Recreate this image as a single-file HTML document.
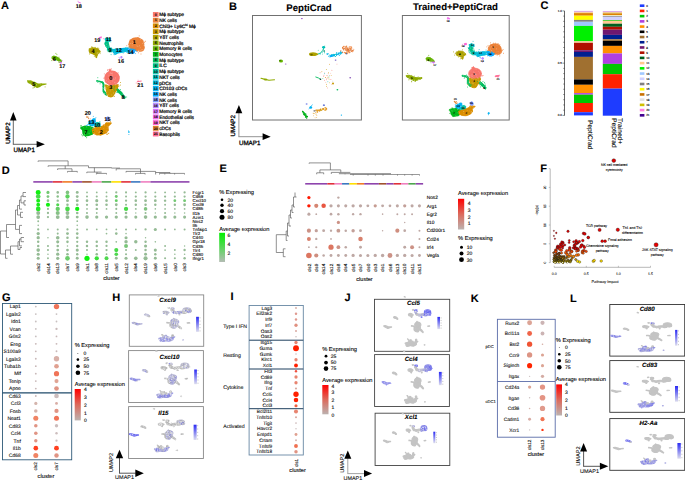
<!DOCTYPE html><html><head><meta charset="utf-8"><style>html,body{margin:0;padding:0;background:#fff;}svg{display:block;}text{font-family:"Liberation Sans", sans-serif;stroke:currentColor;stroke-width:0.1px;text-rendering:geometricPrecision;}</style></head><body>
<svg width="685" height="481" viewBox="0 0 685 481">
<rect width="685" height="481" fill="#fff"/>
<text x="1" y="8.96" font-size="11" font-weight="bold" >A</text>
<text x="229" y="9.76" font-size="11" font-weight="bold" >B</text>
<text x="540.5" y="9.16" font-size="11" font-weight="bold" >C</text>
<text x="1.7" y="174.16" font-size="11" font-weight="bold" >D</text>
<text x="219.4" y="172.46" font-size="11" font-weight="bold" >E</text>
<text x="540.2" y="172.16" font-size="11" font-weight="bold" >F</text>
<text x="2" y="300.56" font-size="11" font-weight="bold" >G</text>
<text x="112.3" y="300.66" font-size="11" font-weight="bold" >H</text>
<text x="230.6" y="300.46" font-size="11" font-weight="bold" >I</text>
<text x="344.4" y="301.26" font-size="11" font-weight="bold" >J</text>
<text x="470.8" y="302.46" font-size="11" font-weight="bold" >K</text>
<text x="570" y="302.46" font-size="11" font-weight="bold" >L</text>
<g>
<path d="M96 80.2L99 80.6L103 81.5L104.5 84L104 90L106.5 93L107 96L105 95L102.5 91.5L102.6 83.5L99 82L96 81.6Z" fill="#00BD5C"/>
<path d="M115.5 87L118 88.5L122 92L125.8 97.5L124.8 99.3L121.5 96L117.5 92L115 90Z" fill="#00BD5C"/>
<path d="M104.2 78a7.8 7.4 0 1 0 15.6 0a7.8 7.4 0 1 0 -15.6 0z" fill="#F8766D"/>
<path d="M108.5 71L110 68.3L111.5 71Z" fill="#F8766D"/>
<path d="M104.8 84.2L110 85.8L118.6 84L117.8 89L115.5 92.5L113.5 96.5L111 97.4L108 96.8L106.3 92.5L105.5 88Z" fill="#C79800"/>
<path d="M128.3 44.2a8 6.9 0 1 0 16 0a8 6.9 0 1 0 -16 0z" fill="#EC8239"/>
<path d="M136.2 47.5a4.3 4.2 0 1 0 8.6 0a4.3 4.2 0 1 0 -8.6 0z" fill="#EC8239"/>
<path d="M88.8 48.5L92 47.2L95.5 47.4L98 48.6L100.8 51.2L99 53.5L97.6 55L97 58.3L95.6 57.8L95 55.5L92.5 54.2L89.5 53.2L88.6 51Z" fill="#AEA200"/>
<path d="M104.5 38.5L107 37.6L110.5 38L111 41L108.5 42.5L106 42Z" fill="#00BFC4"/>
<path d="M105 41.5L108.5 41.8L109.5 46L110.5 49L107.5 49.5L106 46.5L104.2 44Z" fill="#00C085"/>
<path d="M107.2 47.8L111.5 47.6L113.2 49.8L112.5 52.2L108.8 52.3L107 50Z" fill="#00C1A7"/>
<path d="M112.5 49L118 48.6L124 47.8L128.5 47.5L128.8 51.2L124 52.5L118 53.5L115.5 55L113 53Z" fill="#00BADE"/>
<path d="M127.5 48.2L133 48.5L135.8 50.3L134.5 53.3L130 54L127.3 52.5Z" fill="#00A6FF"/>
<path d="M120.3 57.2a1.1 1.2 0 1 0 2.2 0a1.1 1.2 0 1 0 -2.2 0z" fill="#B385FF"/>
<path d="M98.6 37.2L101.2 36.4L101.6 38.3L99.2 38.6Z" fill="#FD61D3"/>
<path d="M78.2 1.4L80.8 2.6L80.6 3.4L78 2.3Z" fill="#EF67EB"/>
<path d="M51.6 56.8L53.6 55.6L56.5 56.2L59 57.8L61.5 60.2L61.8 62L59.8 61.8L56.5 60.5L53 59.8L51.5 58.5Z" fill="#64B200"/>
<path d="M59.6 62.5a1.2 1 0 1 0 2.4 0a1.2 1 0 1 0 -2.4 0z" fill="#D874FD"/>
<path d="M27 80.6L30.5 80.2L34 81.4L38 83.4L42 83.6L46.5 83.4L46.5 84.6L42 85.6L39.5 87.2L37 88L34.5 86.5L31 84.5L27.5 82.5Z" fill="#8FAA00"/>
<path d="M80.4 127L85 125.6L90 126.2L93.8 127.6L93.5 131.5L93 134.5L89 136L85 136.6L82.5 134L82 130L80.3 128.8Z" fill="#00B81B"/>
<path d="M91.6 129L96 126.8L101 126.2L104.5 124.5L105.5 122.8L108.5 122.3L112.2 122.8L110.5 124.8L108.5 126.5L108.8 130.5L106 133.5L101 135.6L96.5 135.3L92.5 133.5Z" fill="#DB8E00"/>
<path d="M93.8 123.5L97 122L100.5 122.6L100.3 126.2L96.5 127L93.9 126.2Z" fill="#00C1A7"/>
<path d="M88.2 121.5L91.5 120L93 118.2L95.6 118.3L95.8 121.5L95 125.5L91.5 126.2L88.5 125Z" fill="#00B2F3"/>
<path d="M106 119a1.8 2.4 0 1 0 3.6 0a1.8 2.4 0 1 0 -3.6 0z" fill="#7C96FF"/>
<path d="M86.2 116L86.9 115.8L89.3 118.8L88.7 119.3Z" fill="#E0802A"/>
<path d="M136.8 81.2L141.5 80.4L141.7 81.6L137 82.2Z" fill="#FF6B94"/>
<path d="M128 132.1a0.9 0.8 0 1 0 1.8 0a0.9 0.8 0 1 0 -1.8 0z" fill="#00B2F3"/>
<path d="M103.5 82.6h0M97.8 77.7h0M102.9 86.4h0M102.4 82.1h0M103.1 84.4h0M97.9 82.5h0M100.1 83.8h0M103.9 85.1h0M97.5 80.5h0M102.4 83.5h0M103.4 88.7h0M103.4 88.9h0M103.3 85.2h0M103.3 92.9h0M116.9 92.5h0M125.2 96.8h0M117.4 89h0M121 94h0M116.8 89.5h0M123.2 97.9h0M114.6 90.6h0M117.6 92.4h0M116.8 89.2h0M114 89h0M126.7 97h0M120.3 89.5h0M121.2 92.9h0M118.8 92.7h0M114.4 86.9h0" stroke="#00BD5C" stroke-width="0.84" stroke-linecap="round"/>
<path d="M104.9 93.4h0M104.2 93.4h0M103.3 88.4h0M123.6 95.2h0M122.9 93.9h0M116 88.2h0M112.2 72.9h0M113.2 79h0M115.1 79.6h0M114.9 82.4h0M110.2 72.8h0M106.5 80.8h0M110.2 82.7h0M112.2 73.3h0M115.1 84.4h0M111.1 73.6h0M108.1 81.9h0M109 76h0M115.6 78.1h0M112.6 75.3h0M108.7 78.8h0M112.8 81h0M106.1 88.2h0M108.2 94.7h0M110.6 87.5h0M113.5 93h0M108.2 85.8h0M111.8 95.1h0M112.4 87.7h0M113.7 96h0M110.5 90.9h0M107.2 86.5h0M112.3 89.5h0M143.9 45.3h0M130.3 43.4h0M139.6 45.9h0M129 45.4h0M132.2 43.3h0M142.8 43.6h0M132.8 43.6h0M134 50.4h0M140.2 47.9h0M132.8 41.4h0M137.2 37.7h0M140.6 39.6h0M136.9 45.8h0M132.2 45.8h0M138.9 50.2h0M140.5 51h0M138 46.5h0M143 49.5h0M138.9 50.7h0M141.8 49.8h0M92.3 52.4h0M92.3 50.6h0M90.9 48.1h0M97.7 53.1h0M98 52.8h0M96.3 48.1h0M96.8 52.9h0M105.8 40.6h0M108.7 41.2h0M106.2 46.8h0M106.7 44.3h0M108.3 46.2h0M108.1 51.3h0M108.6 48h0M119.5 52.8h0M123.9 52.1h0M128.4 49.5h0M115.4 53.5h0M114.1 53.1h0M126.3 47.8h0M116.8 50.3h0M132.9 51.6h0M134 51.8h0M132.3 50h0M59.9 61.7h0M56.3 60.1h0M52.2 57.3h0M40.4 84.7h0M36.4 84.6h0M33 81.7h0M37 85.5h0M33.6 81.4h0M30.5 83.7h0M84.4 133.8h0M85.4 132.2h0M84.6 134.8h0M90.8 127.8h0M83.5 127.7h0M92.9 128.5h0M90.8 128.9h0M90.9 131.2h0M86.7 127h0M89.1 133.3h0M94.7 133.6h0M100.6 127.3h0M97 131.3h0M104.7 125.7h0M95.2 128.9h0M106.2 131.2h0M107.2 128.2h0M107 131.1h0M99.4 131.8h0M107.1 126.3h0M103.9 128.3h0M99 132.6h0M98.9 126.7h0M98.7 123.3h0M95.7 125.3h0M94.7 123.1h0M91.8 123.9h0M92.1 122.2h0M91 123.9h0M109.2 119.1h0" stroke="#FFFFFF" stroke-width="0.76" stroke-linecap="round" stroke-opacity="0.5"/>
<path d="M115.6 75.4h0M119.4 76.8h0M116.6 84.6h0M107.4 70.1h0M117.5 78.5h0M114.3 76.2h0M112 72.6h0M110.2 75.7h0M111.6 68.9h0M115.4 79.2h0M104.3 73.9h0M113.3 83.6h0M111.6 83.3h0M112.8 73.1h0M107.7 83.3h0M107.7 80.9h0M115.9 79.5h0M116.6 77.9h0M113.8 75.9h0M109.6 70.4h0M109.3 72.1h0M105.7 79.9h0M114.7 76h0M116.6 81.6h0M117 74.1h0M105.1 81.3h0M111.4 80.9h0M112.4 85.4h0M111.3 81.9h0M109.8 71.6h0M110.5 81.9h0M106.2 82.3h0M106.7 77.1h0M113.1 77.1h0M106.6 78.2h0M113.5 82.4h0M107.3 83.6h0M117.1 84.7h0M106.1 78.4h0M105.9 76.8h0M115.7 72.6h0M103.8 78.2h0M112.7 71.7h0M110.8 69.8h0M109.3 77.6h0M110.9 83h0M110.8 71.6h0M113.5 73.8h0M112 81.3h0M115.1 85.2h0M118.2 72.9h0M110.9 83.8h0M107 81.1h0M112.2 75.4h0M118.4 80h0M112 82.7h0M106.4 75.6h0M113.6 77.5h0M105.8 82.4h0M113.2 82.8h0M117.8 75.3h0M111.3 76.4h0M110.9 82.8h0M118.6 79.7h0M114.9 75.7h0M110 70h0M108.9 69.5h0M107.7 70.1h0" stroke="#F8766D" stroke-width="0.84" stroke-linecap="round"/>
<path d="M116.3 88.4h0M115.5 88.9h0M116.6 86.6h0M108.5 88.7h0M106.4 85.2h0M116.7 86.9h0M117.9 85.2h0M110.9 91.3h0M120.6 82.5h0M106.6 93.4h0M105.1 88.9h0M112.1 92.2h0M119 85.9h0M117.7 87.5h0M113.4 87h0M114.8 93.4h0M108.8 86.8h0M114.6 91h0M112.8 89h0M113.6 86.6h0M111 95.5h0M112.9 87.1h0M108.1 94.2h0M114.5 96.4h0M116.4 90.3h0M110.7 90.8h0M104.7 86h0M120.6 85.1h0M112.1 86h0M106.4 94h0M106.2 91.3h0M109 96.4h0M112.8 96h0M114 85h0M107 86h0M116.3 85.3h0M107.1 91.4h0M107.1 94.9h0M114.1 92.9h0M109.8 90.6h0M118.3 86.5h0M112.6 90.2h0M114.9 85.2h0M108.5 91h0" stroke="#C79800" stroke-width="0.84" stroke-linecap="round"/>
<path d="M135.7 48.2h0M139.2 35.9h0M138.7 42.1h0M134.1 48.2h0M128.7 47.2h0M141 39.7h0M134.6 44.8h0M130.2 42.7h0M131 45.9h0M137.4 37.5h0M143.1 45.7h0M131.5 51.3h0M142.4 40.7h0M132 41.8h0M138.3 44.4h0M130.2 51.7h0M133.2 47.9h0M141.1 41.6h0M135.8 48h0M134 47.3h0M137.5 51.6h0M141 43.9h0M139.4 47h0M126.8 45.7h0M139 40.2h0M134 42.9h0M132.4 51.9h0M139.8 44.5h0M131.7 46h0M133.6 44.5h0M135.5 48.8h0M140.4 49h0M140 51.6h0M132.8 38.8h0M138.5 46h0M136.4 41.6h0M136.1 49.3h0M135.5 42.7h0M143.1 40.8h0M135.6 45h0M129.9 48h0M136.7 45.8h0M135.3 46.6h0M131.5 50.3h0M140.2 44h0M144 41.8h0M140.1 43.9h0M132 48.8h0M129.4 46h0M134.5 45h0M131.1 47.7h0M137 39.3h0M132.6 45.1h0M132 46.7h0M138.2 37.5h0M130.1 40.6h0M136.9 42h0M145.4 41.3h0M137.7 48.5h0M134.5 44.4h0M141.8 44.8h0M139.8 43.5h0M141 54h0M141.5 46.1h0M144.4 42.7h0M138.5 52.8h0M142.6 48.3h0M137.3 48.9h0M140.8 44.9h0M139.6 50h0M142.3 48.2h0M137.7 50.4h0M138.3 49.2h0M138.9 49h0M138.7 47.2h0M140 44h0M138 47.2h0M143.4 49.7h0M140.5 49.2h0M137.7 44.5h0M141.5 48h0M141.3 42.5h0M135.6 47.9h0" stroke="#EC8239" stroke-width="0.84" stroke-linecap="round"/>
<path d="M91.5 50.4h0M95.1 47.4h0M89.5 54h0M91.4 51.7h0M90.8 49.7h0M100.1 53.6h0M92 47.2h0M91.1 50.1h0M94.2 50.2h0M95.1 53.6h0M90.1 49.2h0M97.9 47.9h0M90.8 51h0M96.3 52.6h0M96.8 52.4h0M98.8 48.6h0M97.6 55.4h0M91.8 46.8h0M92.5 47.9h0M96.2 55.5h0M94.3 56.3h0M98.7 49.9h0M94.3 54.7h0M97.2 48.4h0M99.6 51.6h0M98.1 50.2h0M96.8 48.8h0M100.2 52.1h0" stroke="#AEA200" stroke-width="0.84" stroke-linecap="round"/>
<path d="M109 38.8h0M109.2 41.2h0M107.7 40.4h0M105.5 41.2h0M107.4 38.8h0M105.4 40.5h0M110.8 41.8h0M110.7 38.7h0M105.7 38.2h0M105.1 39.7h0" stroke="#00BFC4" stroke-width="0.84" stroke-linecap="round"/>
<path d="M106 45.5h0M106.6 47.3h0M107.4 43.8h0M108.5 46.8h0M109.8 48.8h0M109.9 51.9h0M107.5 41.6h0M105.6 44.8h0M105.8 44.8h0M106.6 42.7h0M105.4 46.3h0M108.5 48.8h0" stroke="#00C085" stroke-width="0.84" stroke-linecap="round"/>
<path d="M109.8 50.4h0M109.3 47.9h0M109.9 49h0M107.2 50h0M107.6 49.2h0M108.9 49.1h0M107.6 49h0M108 51.6h0M111.1 54.6h0M112 49.9h0M96.2 125.2h0M94.3 126.1h0M97.6 126.7h0M96.9 123.2h0M99 123.3h0M99.9 121.5h0M95.6 126.3h0M100.8 126.3h0M100.2 126.6h0M97.2 122.4h0M94.9 121.7h0" stroke="#00C1A7" stroke-width="0.84" stroke-linecap="round"/>
<path d="M127.1 48h0M124.6 50h0M126.7 52.3h0M124.5 49h0M116.7 52.9h0M114.1 54.4h0M126.2 49.6h0M115.2 53.4h0M129.1 47.3h0M123.5 48.5h0M125.9 50.9h0M121.3 51.4h0M114.2 54.7h0M115.8 48.5h0M116.2 53h0M119.4 50.8h0M119.8 52.3h0M116.5 49.7h0M122.5 50.6h0M128.4 51.2h0M119.2 50.6h0M123.2 53h0M123 51.7h0M122.6 50.3h0M121.7 51.2h0M125.8 49.9h0M126.9 47.9h0M125.7 47.7h0" stroke="#00BADE" stroke-width="0.84" stroke-linecap="round"/>
<path d="M130.3 53h0M136.4 51.4h0M129.1 52.3h0M131.9 53.7h0M129.4 50.1h0M135.2 49.2h0M132.9 50h0M129.7 53.5h0M132.2 52.1h0M135.3 53.6h0M127.5 52.8h0M132.6 49.7h0M127.8 50.2h0M129.7 52.5h0M129.4 51.6h0" stroke="#00A6FF" stroke-width="0.84" stroke-linecap="round"/>
<path d="M119 57.3h0M119.7 58.2h0M123.7 58.9h0" stroke="#B385FF" stroke-width="0.84" stroke-linecap="round"/>
<path d="M101.4 37h0M100.9 37.6h0M103.5 38.7h0" stroke="#FD61D3" stroke-width="0.84" stroke-linecap="round"/>
<path d="M78.3 -0.5h0M78 1.2h0" stroke="#EF67EB" stroke-width="0.84" stroke-linecap="round"/>
<path d="M52.3 57.3h0M61.2 60.2h0M53.3 56.8h0M61.6 61.4h0M55.1 57.2h0M59 57.2h0M55.9 53.4h0M57.1 59.3h0M54.9 59.5h0M59.6 62.5h0M56.9 54.6h0M51.8 60.6h0M60.3 61.8h0M58.4 62h0" stroke="#64B200" stroke-width="0.84" stroke-linecap="round"/>
<path d="M62.3 60.7h0M59.8 62.2h0M61 63.2h0" stroke="#D874FD" stroke-width="0.84" stroke-linecap="round"/>
<path d="M34.5 86.5h0M38.1 85.4h0M31.9 83.9h0M37.3 87.2h0M35.5 85.3h0M33.3 87h0M39.9 86.3h0M34.9 85h0M36.7 86.8h0M45.1 86.9h0M41.4 83.8h0M29.9 81.6h0M35.4 83.1h0M40.9 85.4h0M31.1 83.1h0M37.5 85.5h0M27.9 80.5h0M33 85.5h0M34.7 87.5h0M40.6 84.1h0M33 88.1h0M39.9 85.5h0M34.8 84.3h0M29.1 83.1h0" stroke="#8FAA00" stroke-width="0.84" stroke-linecap="round"/>
<path d="M83.5 127.7h0M86.5 129.6h0M87.6 130.4h0M84 129.8h0M85.6 136.5h0M87.1 129.1h0M85.8 135.9h0M82.4 128.7h0M93.3 131.5h0M82.7 135.8h0M90.4 126h0M83.1 128.6h0M89.2 130.3h0M91.1 127.2h0M90.2 126.8h0M81.5 125.8h0M80.5 125.9h0M92.9 129.3h0M86.7 137.7h0M82.5 128.6h0M88.7 126.5h0M84.4 126.5h0M83.3 133h0M88.7 129.9h0M88.2 131.3h0M91.5 131.5h0M83.7 135.3h0M90.3 128.9h0M87.2 128.8h0M81.8 134.8h0M86.3 127.9h0M91.1 131.9h0M82.4 128.9h0M89.4 126.7h0M85.7 129.1h0M84.2 133.8h0M84.3 131.8h0M90.5 132h0M91 128.6h0M85.8 134.3h0" stroke="#00B81B" stroke-width="0.84" stroke-linecap="round"/>
<path d="M106.7 132.7h0M106.8 127.3h0M97.6 129.1h0M106.8 132.6h0M110.3 122.2h0M106 126.8h0M106.7 127.1h0M106.3 129.1h0M103 127.6h0M106.5 134.2h0M106.2 131h0M97 135h0M104.3 128.4h0M95.3 131.9h0M97 131.6h0M107 123h0M93.7 133.6h0M96.3 131.7h0M103.6 127.7h0M101.7 130.7h0M101.2 129.4h0M102.6 127.6h0M93.7 128.7h0M110.3 121.4h0M106.8 129.1h0M100.8 131.8h0M97.2 132.3h0M103.8 126.3h0M103.3 125h0M101.8 133.3h0M95.4 128.2h0M107.4 128.4h0M107.4 134.4h0M106.3 123.4h0M108.1 130h0M108.8 133.3h0M99.8 134.2h0M108.2 133.5h0M101.4 130.1h0M94.5 130.3h0M98.1 134.5h0M96.1 128.9h0M106.2 120h0M102.1 134.4h0M106.3 122.8h0M105.6 130.2h0M97.4 131.2h0M103.9 124.9h0M102.3 130.2h0M95.8 126.3h0M104.5 128.7h0M101.3 126.5h0M96.8 129.7h0M101.3 128.1h0M100.3 135.1h0" stroke="#DB8E00" stroke-width="0.84" stroke-linecap="round"/>
<path d="M93.3 116.4h0M91.9 120.3h0M87 125.3h0M94.9 120.9h0M91.9 121.8h0M89.7 121.9h0M91.8 123.5h0M91.2 120.5h0M92.8 126.7h0M89.1 124.6h0M92.3 122.8h0M93.3 121h0M86.4 125.6h0M93.6 119.4h0M93.1 124.3h0M87.4 124.8h0M95.9 117.7h0M128.9 134.5h0M128.5 130.9h0" stroke="#00B2F3" stroke-width="0.84" stroke-linecap="round"/>
<path d="M108 117.3h0M107.4 119.9h0M108.8 117.4h0M108.8 119.6h0M106.3 118.3h0M106.1 120h0" stroke="#7C96FF" stroke-width="0.84" stroke-linecap="round"/>
<path d="M88.1 117h0M90.2 118.9h0M86.6 117.3h0" stroke="#E0802A" stroke-width="0.84" stroke-linecap="round"/>
<path d="M138.3 84h0M138.1 80.3h0M136.2 83h0" stroke="#FF6B94" stroke-width="0.84" stroke-linecap="round"/>
<text x="78.8" y="8.08" font-size="5.5" font-weight="bold" text-anchor="middle" >18</text>
<text x="97.3" y="41.98" font-size="5.5" font-weight="bold" text-anchor="middle" >19</text>
<text x="108.7" y="41.48" font-size="5.5" font-weight="bold" text-anchor="middle" >11</text>
<text x="134.3" y="44.28" font-size="5.5" font-weight="bold" text-anchor="middle" >1</text>
<text x="93.1" y="53.28" font-size="5.5" font-weight="bold" text-anchor="middle" >4</text>
<text x="110.1" y="51.88" font-size="5.5" font-weight="bold" text-anchor="middle" >9</text>
<text x="118.7" y="52.38" font-size="5.5" font-weight="bold" text-anchor="middle" >12</text>
<text x="130.5" y="53.78" font-size="5.5" font-weight="bold" text-anchor="middle" >14</text>
<text x="120.9" y="62.78" font-size="5.5" font-weight="bold" text-anchor="middle" >16</text>
<text x="54.4" y="60.98" font-size="5.5" font-weight="bold" text-anchor="middle" >6</text>
<text x="62.3" y="68.38" font-size="5.5" font-weight="bold" text-anchor="middle" >17</text>
<text x="33.9" y="85.78" font-size="5.5" font-weight="bold" text-anchor="middle" >5</text>
<text x="110.7" y="80.28" font-size="5.5" font-weight="bold" text-anchor="middle" >0</text>
<text x="110.7" y="89.48" font-size="5.5" font-weight="bold" text-anchor="middle" >3</text>
<text x="123.1" y="99.08" font-size="5.5" font-weight="bold" text-anchor="middle" >8</text>
<text x="140.4" y="87.08" font-size="5.5" font-weight="bold" text-anchor="middle" >21</text>
<text x="87.7" y="115.28" font-size="5.5" font-weight="bold" text-anchor="middle" >20</text>
<text x="107.4" y="120.58" font-size="5.5" font-weight="bold" text-anchor="middle" >15</text>
<text x="91.2" y="124.48" font-size="5.5" font-weight="bold" text-anchor="middle" >13</text>
<text x="97.3" y="127.08" font-size="5.5" font-weight="bold" text-anchor="middle" >10</text>
<text x="86" y="133.68" font-size="5.5" font-weight="bold" text-anchor="middle" >7</text>
<text x="101.3" y="134.08" font-size="5.5" font-weight="bold" text-anchor="middle" >2</text>
</g>
<rect x="152.9" y="12.05" width="5.7" height="4.9" fill="#F8766D"/>
<text x="155.75" y="15.8" font-size="3.6" font-weight="bold" fill="#222" text-anchor="middle" >0</text>
<text x="159.2" y="16.23" font-size="4.8" style="stroke-width:0.22px" >M&#981; subtype</text>
<rect x="152.9" y="17.74" width="5.7" height="4.9" fill="#EC8239"/>
<text x="155.75" y="21.49" font-size="3.6" font-weight="bold" fill="#222" text-anchor="middle" >1</text>
<text x="159.2" y="21.92" font-size="4.8" style="stroke-width:0.22px" >NK cells</text>
<rect x="152.9" y="23.43" width="5.7" height="4.9" fill="#DB8E00"/>
<text x="155.75" y="27.18" font-size="3.6" font-weight="bold" fill="#222" text-anchor="middle" >2</text>
<text x="159.2" y="27.61" font-size="4.8" style="stroke-width:0.22px" >Chil3+ Ly6C<tspan font-size="3" dy="-1.5">hi</tspan><tspan dy="1.5"> M&#981;</tspan></text>
<rect x="152.9" y="29.12" width="5.7" height="4.9" fill="#C79800"/>
<text x="155.75" y="32.87" font-size="3.6" font-weight="bold" fill="#222" text-anchor="middle" >3</text>
<text x="159.2" y="33.3" font-size="4.8" style="stroke-width:0.22px" >M&#981; subtype</text>
<rect x="152.9" y="34.81" width="5.7" height="4.9" fill="#AEA200"/>
<text x="155.75" y="38.56" font-size="3.6" font-weight="bold" fill="#222" text-anchor="middle" >4</text>
<text x="159.2" y="38.99" font-size="4.8" style="stroke-width:0.22px" >Y&#948;T cells</text>
<rect x="152.9" y="40.5" width="5.7" height="4.9" fill="#8FAA00"/>
<text x="155.75" y="44.25" font-size="3.6" font-weight="bold" fill="#222" text-anchor="middle" >5</text>
<text x="159.2" y="44.68" font-size="4.8" style="stroke-width:0.22px" >Neutrophils</text>
<rect x="152.9" y="46.19" width="5.7" height="4.9" fill="#64B200"/>
<text x="155.75" y="49.94" font-size="3.6" font-weight="bold" fill="#222" text-anchor="middle" >6</text>
<text x="159.2" y="50.37" font-size="4.8" style="stroke-width:0.22px" >Memory B cells</text>
<rect x="152.9" y="51.88" width="5.7" height="4.9" fill="#00B81B"/>
<text x="155.75" y="55.63" font-size="3.6" font-weight="bold" fill="#222" text-anchor="middle" >7</text>
<text x="159.2" y="56.06" font-size="4.8" style="stroke-width:0.22px" >Monocytes</text>
<rect x="152.9" y="57.57" width="5.7" height="4.9" fill="#00BD5C"/>
<text x="155.75" y="61.32" font-size="3.6" font-weight="bold" fill="#222" text-anchor="middle" >8</text>
<text x="159.2" y="61.75" font-size="4.8" style="stroke-width:0.22px" >M&#981; subtype</text>
<rect x="152.9" y="63.26" width="5.7" height="4.9" fill="#00C085"/>
<text x="155.75" y="67.01" font-size="3.6" font-weight="bold" fill="#222" text-anchor="middle" >9</text>
<text x="159.2" y="67.44" font-size="4.8" style="stroke-width:0.22px" >ILC</text>
<rect x="152.9" y="68.95" width="5.7" height="4.9" fill="#00C1A7"/>
<text x="155.75" y="72.7" font-size="3.6" font-weight="bold" fill="#222" text-anchor="middle" >10</text>
<text x="159.2" y="73.13" font-size="4.8" style="stroke-width:0.22px" >M&#981; subtype</text>
<rect x="152.9" y="74.64" width="5.7" height="4.9" fill="#00BFC4"/>
<text x="155.75" y="78.39" font-size="3.6" font-weight="bold" fill="#222" text-anchor="middle" >11</text>
<text x="159.2" y="78.82" font-size="4.8" style="stroke-width:0.22px" >NKT cells</text>
<rect x="152.9" y="80.33" width="5.7" height="4.9" fill="#00BADE"/>
<text x="155.75" y="84.08" font-size="3.6" font-weight="bold" fill="#222" text-anchor="middle" >12</text>
<text x="159.2" y="84.51" font-size="4.8" style="stroke-width:0.22px" >pDCs</text>
<rect x="152.9" y="86.02" width="5.7" height="4.9" fill="#00B2F3"/>
<text x="155.75" y="89.77" font-size="3.6" font-weight="bold" fill="#222" text-anchor="middle" >13</text>
<text x="159.2" y="90.2" font-size="4.8" style="stroke-width:0.22px" >CD103 cDCs</text>
<rect x="152.9" y="91.71" width="5.7" height="4.9" fill="#00A6FF"/>
<text x="155.75" y="95.46" font-size="3.6" font-weight="bold" fill="#222" text-anchor="middle" >14</text>
<text x="159.2" y="95.89" font-size="4.8" style="stroke-width:0.22px" >NK cells</text>
<rect x="152.9" y="97.4" width="5.7" height="4.9" fill="#7C96FF"/>
<text x="155.75" y="101.15" font-size="3.6" font-weight="bold" fill="#222" text-anchor="middle" >15</text>
<text x="159.2" y="101.58" font-size="4.8" style="stroke-width:0.22px" >NK cells</text>
<rect x="152.9" y="103.09" width="5.7" height="4.9" fill="#B385FF"/>
<text x="155.75" y="106.84" font-size="3.6" font-weight="bold" fill="#222" text-anchor="middle" >16</text>
<text x="159.2" y="107.27" font-size="4.8" style="stroke-width:0.22px" >Y&#948;T cells</text>
<rect x="152.9" y="108.78" width="5.7" height="4.9" fill="#D874FD"/>
<text x="155.75" y="112.53" font-size="3.6" font-weight="bold" fill="#222" text-anchor="middle" >17</text>
<text x="159.2" y="112.96" font-size="4.8" style="stroke-width:0.22px" >Memory B cells</text>
<rect x="152.9" y="114.47" width="5.7" height="4.9" fill="#EF67EB"/>
<text x="155.75" y="118.22" font-size="3.6" font-weight="bold" fill="#222" text-anchor="middle" >18</text>
<text x="159.2" y="118.65" font-size="4.8" style="stroke-width:0.22px" >Endothelial cells</text>
<rect x="152.9" y="120.16" width="5.7" height="4.9" fill="#FD61D3"/>
<text x="155.75" y="123.91" font-size="3.6" font-weight="bold" fill="#222" text-anchor="middle" >19</text>
<text x="159.2" y="124.34" font-size="4.8" style="stroke-width:0.22px" >NKT cells</text>
<rect x="152.9" y="125.85" width="5.7" height="4.9" fill="#E0802A"/>
<text x="155.75" y="129.6" font-size="3.6" font-weight="bold" fill="#222" text-anchor="middle" >20</text>
<text x="159.2" y="130.03" font-size="4.8" style="stroke-width:0.22px" >cDCs</text>
<rect x="152.9" y="131.54" width="5.7" height="4.9" fill="#FF6B94"/>
<text x="155.75" y="135.29" font-size="3.6" font-weight="bold" fill="#222" text-anchor="middle" >21</text>
<text x="159.2" y="135.72" font-size="4.8" style="stroke-width:0.22px" >Basophils</text>
<line x1="13.3" y1="144.3" x2="13.3" y2="119.9" stroke="#555" stroke-width="0.9"/>
<line x1="12.85" y1="144.3" x2="37.1" y2="144.3" stroke="#555" stroke-width="0.9"/>
<path d="M10 120.4L13.3 112.1L16.6 120.4Z" fill="#000"/>
<path d="M36.6 141L44.9 144.3L36.6 147.6Z" fill="#000"/>
<text x="13.5" y="151.63" font-size="6.2" fill="#222" style="stroke-width:0.3px" >UMAP1</text>
<text transform="translate(7.55 133) rotate(-90)" x="0" y="2.23" font-size="6.2" fill="#222" text-anchor="middle" style="stroke-width:0.3px" >UMAP2</text>
<text x="309" y="10.76" font-size="9.6" font-weight="bold" text-anchor="middle" >PeptiCrad</text>
<text x="455.4" y="10.26" font-size="9.6" font-weight="bold" text-anchor="middle" >Trained+PeptiCrad</text>
<rect x="252.5" y="15.5" width="108.9" height="104.5" fill="none" stroke="#707070" stroke-width="1"/>
<rect x="402.4" y="15.5" width="106.8" height="104.5" fill="none" stroke="#707070" stroke-width="1"/>
<ellipse cx="301.9" cy="18.6" rx="1" ry="0.6" fill="#9A5CC8"/>
<ellipse cx="313" cy="54.2" rx="4" ry="1.9" fill="#AEA200"/>
<ellipse cx="316.5" cy="54.2" rx="1.8" ry="1" fill="#AEA200"/>
<ellipse cx="311.5" cy="54.6" rx="1.3" ry="0.9" fill="#6A6400"/>
<polyline points="318.1,54 321,52.8 323,50.2 324,47.2" fill="none" stroke="#00C09A" stroke-width="0.9" stroke-linecap="round" stroke-linejoin="round"/>
<ellipse cx="323.6" cy="47.2" rx="1.5" ry="1.3" fill="#00BFC4"/>
<ellipse cx="324.2" cy="51" rx="0.9" ry="0.8" fill="#00806A"/>
<circle cx="322.36" cy="52.68" r="0.45" fill="#00BFC4"/>
<circle cx="324.6" cy="52.66" r="0.45" fill="#00BFC4"/>
<circle cx="318.2" cy="50.19" r="0.45" fill="#00C085"/>
<circle cx="322.54" cy="54.11" r="0.45" fill="#00C085"/>
<circle cx="320.6" cy="53.82" r="0.45" fill="#00C1A7"/>
<circle cx="321.81" cy="51.17" r="0.45" fill="#00C085"/>
<circle cx="323.12" cy="49.67" r="0.45" fill="#00C085"/>
<circle cx="324.41" cy="52.89" r="0.45" fill="#00C085"/>
<circle cx="323.33" cy="46.65" r="0.45" fill="#00BFC4"/>
<circle cx="322.32" cy="47.14" r="0.45" fill="#00C085"/>
<circle cx="324.81" cy="46.05" r="0.45" fill="#00C085"/>
<circle cx="324.72" cy="47.49" r="0.45" fill="#00C085"/>
<circle cx="320.03" cy="54.65" r="0.45" fill="#00BFC4"/>
<circle cx="324.13" cy="51.63" r="0.45" fill="#00C085"/>
<circle cx="340.6" cy="51.19" r="0.55" fill="#00BFC4"/>
<circle cx="330.79" cy="56.32" r="0.55" fill="#00BADE"/>
<circle cx="330" cy="56.91" r="0.55" fill="#00BADE"/>
<circle cx="335.6" cy="54.31" r="0.55" fill="#00B2F3"/>
<circle cx="338.72" cy="53.56" r="0.55" fill="#00BFC4"/>
<circle cx="333.88" cy="55.64" r="0.55" fill="#00BADE"/>
<circle cx="340.88" cy="53.4" r="0.55" fill="#00BFC4"/>
<circle cx="331.98" cy="55.63" r="0.55" fill="#00BADE"/>
<circle cx="336.52" cy="52.8" r="0.55" fill="#00BADE"/>
<circle cx="339.24" cy="53.07" r="0.55" fill="#00B2F3"/>
<circle cx="334.64" cy="54.64" r="0.55" fill="#00BFC4"/>
<circle cx="328.11" cy="53.6" r="0.55" fill="#00B2F3"/>
<circle cx="327.26" cy="54.32" r="0.55" fill="#00B2F3"/>
<circle cx="334.16" cy="55.27" r="0.55" fill="#00B2F3"/>
<circle cx="340.39" cy="52.8" r="0.55" fill="#00B2F3"/>
<circle cx="331.31" cy="55.03" r="0.55" fill="#00B2F3"/>
<circle cx="342.03" cy="52.8" r="0.55" fill="#00BFC4"/>
<circle cx="326.95" cy="53.75" r="0.55" fill="#00B2F3"/>
<circle cx="333.3" cy="55.36" r="0.55" fill="#00BADE"/>
<circle cx="338.71" cy="53.98" r="0.55" fill="#00BADE"/>
<circle cx="336.25" cy="54.07" r="0.55" fill="#00BFC4"/>
<circle cx="332.63" cy="55.91" r="0.55" fill="#00BADE"/>
<circle cx="334.38" cy="55.25" r="0.55" fill="#00BFC4"/>
<circle cx="341.21" cy="52.23" r="0.55" fill="#00B2F3"/>
<circle cx="330.63" cy="56.17" r="0.55" fill="#00BFC4"/>
<circle cx="338.9" cy="53.38" r="0.55" fill="#00BFC4"/>
<circle cx="340.17" cy="53.98" r="0.55" fill="#00B2F3"/>
<circle cx="327.58" cy="53.95" r="0.55" fill="#00BADE"/>
<circle cx="337.71" cy="54.59" r="0.55" fill="#00B2F3"/>
<circle cx="339.28" cy="55.36" r="0.55" fill="#00B2F3"/>
<circle cx="341.15" cy="53.18" r="0.55" fill="#00BADE"/>
<circle cx="333.8" cy="54.54" r="0.55" fill="#00B2F3"/>
<circle cx="333.85" cy="54.29" r="0.55" fill="#00B2F3"/>
<circle cx="331.25" cy="54.87" r="0.55" fill="#00BFC4"/>
<circle cx="332.34" cy="54.58" r="0.55" fill="#00BFC4"/>
<circle cx="342.21" cy="52.49" r="0.55" fill="#00BADE"/>
<circle cx="328.85" cy="56.44" r="0.55" fill="#00B2F3"/>
<circle cx="337" cy="52.99" r="0.55" fill="#00BADE"/>
<circle cx="336.53" cy="54.13" r="0.55" fill="#00BFC4"/>
<circle cx="330.09" cy="55.53" r="0.55" fill="#00B2F3"/>
<circle cx="337.9" cy="54.03" r="0.55" fill="#00BFC4"/>
<circle cx="336.45" cy="55.5" r="0.55" fill="#00BADE"/>
<circle cx="336.74" cy="54.6" r="0.55" fill="#00BADE"/>
<circle cx="329.17" cy="54.98" r="0.55" fill="#00BADE"/>
<circle cx="333.38" cy="54.9" r="0.55" fill="#00B2F3"/>
<circle cx="331.75" cy="55.01" r="0.55" fill="#00BADE"/>
<circle cx="337.24" cy="54.43" r="0.55" fill="#00B2F3"/>
<circle cx="340.25" cy="52.5" r="0.55" fill="#00B2F3"/>
<circle cx="341.04" cy="52.59" r="0.55" fill="#00B2F3"/>
<circle cx="334.5" cy="55.59" r="0.55" fill="#00B2F3"/>
<circle cx="338.35" cy="54.11" r="0.55" fill="#00B2F3"/>
<circle cx="333.9" cy="55.76" r="0.55" fill="#00BFC4"/>
<circle cx="342" cy="52.62" r="0.55" fill="#00B2F3"/>
<circle cx="338.93" cy="52.88" r="0.55" fill="#00B2F3"/>
<circle cx="334.97" cy="54.45" r="0.55" fill="#00BFC4"/>
<circle cx="333.61" cy="55.25" r="0.55" fill="#00BFC4"/>
<circle cx="340.64" cy="53.96" r="0.55" fill="#00BADE"/>
<circle cx="335.56" cy="56.53" r="0.55" fill="#00BFC4"/>
<circle cx="331.46" cy="55.91" r="0.55" fill="#00B2F3"/>
<circle cx="333.88" cy="55.84" r="0.55" fill="#00BADE"/>
<ellipse cx="331.5" cy="56" rx="1.4" ry="1.1" fill="#00A6FF"/>
<ellipse cx="346.6" cy="53.6" rx="1" ry="0.8" fill="#3070C0"/>
<circle cx="343.46" cy="46.43" r="0.6" fill="#EC8239"/>
<circle cx="345.47" cy="53.13" r="0.6" fill="#F4A070"/>
<circle cx="351.36" cy="50.02" r="0.6" fill="#EC8239"/>
<circle cx="347.17" cy="52.23" r="0.6" fill="#EC8239"/>
<circle cx="347.07" cy="51.43" r="0.6" fill="#EC8239"/>
<circle cx="346.49" cy="48.12" r="0.6" fill="#F4A070"/>
<circle cx="343.86" cy="48.27" r="0.6" fill="#C87040"/>
<circle cx="351.6" cy="47.21" r="0.6" fill="#EC8239"/>
<circle cx="347.19" cy="48.04" r="0.6" fill="#C87040"/>
<circle cx="345.74" cy="46.99" r="0.6" fill="#C87040"/>
<circle cx="350.21" cy="50.13" r="0.6" fill="#C87040"/>
<circle cx="347.08" cy="49.85" r="0.6" fill="#C87040"/>
<circle cx="340.85" cy="50.86" r="0.6" fill="#C87040"/>
<circle cx="348.36" cy="51.92" r="0.6" fill="#F4A070"/>
<circle cx="342.66" cy="48.03" r="0.6" fill="#F4A070"/>
<circle cx="350.8" cy="46.98" r="0.6" fill="#F4A070"/>
<circle cx="342.27" cy="52.1" r="0.6" fill="#EC8239"/>
<circle cx="350.2" cy="48.38" r="0.6" fill="#EC8239"/>
<circle cx="346.96" cy="49.87" r="0.6" fill="#F4A070"/>
<circle cx="342.63" cy="48.31" r="0.6" fill="#F4A070"/>
<circle cx="348.47" cy="49.24" r="0.6" fill="#F4A070"/>
<circle cx="344.89" cy="46.25" r="0.6" fill="#EC8239"/>
<circle cx="343.37" cy="49.27" r="0.6" fill="#C87040"/>
<circle cx="347.39" cy="49.22" r="0.6" fill="#EC8239"/>
<circle cx="346.87" cy="50.53" r="0.6" fill="#EC8239"/>
<circle cx="346.73" cy="49.53" r="0.6" fill="#F4A070"/>
<circle cx="353.73" cy="49.25" r="0.6" fill="#F4A070"/>
<circle cx="352.75" cy="50.9" r="0.6" fill="#EC8239"/>
<circle cx="342.53" cy="47.44" r="0.6" fill="#EC8239"/>
<circle cx="346.61" cy="48.82" r="0.6" fill="#EC8239"/>
<circle cx="345.95" cy="47.59" r="0.6" fill="#EC8239"/>
<circle cx="344.18" cy="48.38" r="0.6" fill="#EC8239"/>
<circle cx="349.1" cy="50.37" r="0.6" fill="#C87040"/>
<circle cx="349.68" cy="51.11" r="0.6" fill="#EC8239"/>
<circle cx="346.14" cy="52.52" r="0.6" fill="#EC8239"/>
<circle cx="346.7" cy="46.06" r="0.6" fill="#EC8239"/>
<circle cx="348.27" cy="49.85" r="0.6" fill="#C87040"/>
<circle cx="343.72" cy="49.93" r="0.6" fill="#EC8239"/>
<circle cx="348.46" cy="49.28" r="0.6" fill="#EC8239"/>
<circle cx="349.87" cy="52.22" r="0.6" fill="#C87040"/>
<circle cx="345.37" cy="53.61" r="0.6" fill="#C87040"/>
<circle cx="345.06" cy="48.69" r="0.6" fill="#C87040"/>
<circle cx="347.54" cy="53.39" r="0.6" fill="#EC8239"/>
<circle cx="345.35" cy="49.69" r="0.6" fill="#EC8239"/>
<circle cx="349.56" cy="48.02" r="0.6" fill="#F4A070"/>
<circle cx="349.31" cy="52.72" r="0.6" fill="#EC8239"/>
<circle cx="351.41" cy="51.38" r="0.6" fill="#EC8239"/>
<circle cx="349.76" cy="47.87" r="0.6" fill="#F4A070"/>
<circle cx="347.44" cy="53.53" r="0.6" fill="#F4A070"/>
<circle cx="348.39" cy="49.6" r="0.6" fill="#C87040"/>
<circle cx="352.34" cy="50.4" r="0.6" fill="#EC8239"/>
<circle cx="350.78" cy="46.59" r="0.6" fill="#F4A070"/>
<circle cx="346" cy="48.5" r="0.6" fill="#EC8239"/>
<circle cx="352.51" cy="51.73" r="0.6" fill="#F4A070"/>
<circle cx="347.74" cy="48.87" r="0.6" fill="#C87040"/>
<circle cx="342.74" cy="52.34" r="0.6" fill="#EC8239"/>
<circle cx="344.59" cy="52.32" r="0.6" fill="#EC8239"/>
<circle cx="347.98" cy="47.81" r="0.6" fill="#EC8239"/>
<circle cx="343.5" cy="46.98" r="0.6" fill="#F4A070"/>
<circle cx="350.24" cy="49.31" r="0.6" fill="#EC8239"/>
<circle cx="343.15" cy="48.27" r="0.6" fill="#EC8239"/>
<circle cx="345.95" cy="50.29" r="0.6" fill="#EC8239"/>
<circle cx="347.85" cy="51.01" r="0.6" fill="#F4A070"/>
<circle cx="350.13" cy="48.23" r="0.6" fill="#EC8239"/>
<circle cx="351.01" cy="49.81" r="0.6" fill="#C87040"/>
<circle cx="349.72" cy="48.92" r="0.6" fill="#F4A070"/>
<circle cx="348.49" cy="50.45" r="0.6" fill="#EC8239"/>
<circle cx="352.56" cy="51.41" r="0.6" fill="#F4A070"/>
<circle cx="348.5" cy="51.08" r="0.6" fill="#EC8239"/>
<circle cx="349.32" cy="46.75" r="0.6" fill="#EC8239"/>
<circle cx="353.16" cy="50.59" r="0.6" fill="#EC8239"/>
<circle cx="350.01" cy="48.87" r="0.6" fill="#EC8239"/>
<circle cx="345.03" cy="46.93" r="0.6" fill="#F4A070"/>
<circle cx="348.08" cy="48.89" r="0.6" fill="#EC8239"/>
<circle cx="345.68" cy="52.81" r="0.6" fill="#EC8239"/>
<circle cx="352.26" cy="50.48" r="0.6" fill="#C87040"/>
<circle cx="347.14" cy="50.48" r="0.6" fill="#F4A070"/>
<circle cx="351.53" cy="48.11" r="0.6" fill="#EC8239"/>
<circle cx="348.33" cy="51.64" r="0.6" fill="#EC8239"/>
<circle cx="346.4" cy="46.57" r="0.6" fill="#EC8239"/>
<circle cx="347.33" cy="48.6" r="0.6" fill="#EC8239"/>
<circle cx="351.66" cy="48.7" r="0.6" fill="#F4A070"/>
<circle cx="346.6" cy="48.18" r="0.6" fill="#F4A070"/>
<circle cx="352.3" cy="51.08" r="0.6" fill="#F4A070"/>
<circle cx="347.3" cy="50.13" r="0.6" fill="#C87040"/>
<ellipse cx="335.6" cy="60.1" rx="0.9" ry="0.7" fill="#6858C0"/>
<ellipse cx="281" cy="60.9" rx="2" ry="1.5" fill="#64B200"/>
<ellipse cx="280" cy="60.5" rx="0.9" ry="0.8" fill="#3E7A00"/>
<ellipse cx="285.7" cy="64" rx="0.8" ry="0.6" fill="#9A5CC8"/>
<polyline points="261,78.2 265,79.4 269,80.2 274.5,79.8" fill="none" stroke="#8FAA00" stroke-width="1.1" stroke-linecap="round" stroke-linejoin="round"/>
<ellipse cx="265.5" cy="79.6" rx="1.8" ry="1" fill="#8FAA00"/>
<polyline points="315.8,77 318.5,78 320.3,79.2" fill="none" stroke="#00BD5C" stroke-width="0.9" stroke-linecap="round" stroke-linejoin="round"/>
<ellipse cx="320.5" cy="79.3" rx="0.8" ry="0.7" fill="#104030"/>
<circle cx="320.05" cy="72.81" r="0.45" fill="#F8766D"/>
<circle cx="327.47" cy="87.88" r="0.45" fill="#F8766D"/>
<circle cx="327.98" cy="77.28" r="0.45" fill="#DB8E00"/>
<circle cx="324.69" cy="72.92" r="0.45" fill="#F8766D"/>
<circle cx="332.79" cy="81.09" r="0.45" fill="#B0B0B0"/>
<circle cx="326.64" cy="79.68" r="0.45" fill="#F8766D"/>
<circle cx="329" cy="76.89" r="0.45" fill="#00BD5C"/>
<circle cx="327.89" cy="81.71" r="0.45" fill="#00BFC4"/>
<circle cx="327.35" cy="75.73" r="0.45" fill="#F4A090"/>
<circle cx="321.86" cy="71.72" r="0.45" fill="#DB8E00"/>
<circle cx="324.56" cy="73.81" r="0.45" fill="#00BFC4"/>
<circle cx="322.85" cy="78.6" r="0.45" fill="#00BD5C"/>
<circle cx="325.31" cy="77.59" r="0.45" fill="#F8766D"/>
<circle cx="329.34" cy="75.55" r="0.45" fill="#B0B0B0"/>
<circle cx="336.97" cy="64.09" r="0.45" fill="#F8766D"/>
<circle cx="329.37" cy="82.84" r="0.45" fill="#C79800"/>
<circle cx="328.17" cy="73.68" r="0.45" fill="#F4A090"/>
<circle cx="323.48" cy="76.58" r="0.45" fill="#F8766D"/>
<circle cx="329.53" cy="64.26" r="0.45" fill="#DB8E00"/>
<circle cx="326.4" cy="84.32" r="0.45" fill="#DB8E00"/>
<circle cx="329.04" cy="79.09" r="0.45" fill="#C79800"/>
<circle cx="331.93" cy="70.3" r="0.45" fill="#F8766D"/>
<circle cx="324.56" cy="80.28" r="0.45" fill="#F8766D"/>
<circle cx="330.7" cy="73.13" r="0.45" fill="#F4A090"/>
<circle cx="323.92" cy="75.31" r="0.45" fill="#F8766D"/>
<circle cx="326.32" cy="69.53" r="0.45" fill="#C79800"/>
<circle cx="331.54" cy="84.17" r="0.45" fill="#F4A090"/>
<circle cx="325.81" cy="82.24" r="0.45" fill="#F4A090"/>
<circle cx="326.62" cy="86.23" r="0.45" fill="#C79800"/>
<circle cx="330.91" cy="79.46" r="0.45" fill="#F8766D"/>
<circle cx="328.02" cy="78.3" r="0.45" fill="#F4A090"/>
<circle cx="328.58" cy="72.78" r="0.45" fill="#C79800"/>
<circle cx="331.18" cy="75.63" r="0.45" fill="#DB8E00"/>
<circle cx="325.37" cy="77.51" r="0.45" fill="#DB8E00"/>
<circle cx="326.75" cy="78.76" r="0.45" fill="#F4A090"/>
<circle cx="326.79" cy="75.56" r="0.45" fill="#F4A090"/>
<ellipse cx="333" cy="83.5" rx="1" ry="0.9" fill="#C79800"/>
<ellipse cx="350.2" cy="77.7" rx="0.9" ry="0.7" fill="#8A58B8"/>
<ellipse cx="337.4" cy="89.7" rx="0.9" ry="0.7" fill="#00BD5C"/>
<ellipse cx="306.6" cy="104" rx="1" ry="0.8" fill="#7C86E8"/>
<ellipse cx="310.8" cy="107.5" rx="1.4" ry="1.3" fill="#00B2F3"/>
<polyline points="309,109 311,106 312.5,104.8" fill="none" stroke="#00B2F3" stroke-width="0.6" stroke-linecap="round" stroke-linejoin="round"/>
<circle cx="305.85" cy="115.83" r="0.6" fill="#00B81B"/>
<circle cx="306.44" cy="116.54" r="0.6" fill="#00B81B"/>
<circle cx="304.02" cy="114.26" r="0.6" fill="#00A018"/>
<circle cx="305.5" cy="116.91" r="0.6" fill="#00A018"/>
<circle cx="302.99" cy="111.71" r="0.6" fill="#00A018"/>
<circle cx="302.68" cy="111.33" r="0.6" fill="#00A018"/>
<circle cx="303.3" cy="112.11" r="0.6" fill="#00B81B"/>
<circle cx="303.28" cy="112.75" r="0.6" fill="#00A018"/>
<circle cx="304.86" cy="113.53" r="0.6" fill="#00B81B"/>
<circle cx="304" cy="114.74" r="0.6" fill="#00B81B"/>
<circle cx="305.04" cy="115.24" r="0.6" fill="#00B81B"/>
<circle cx="304.95" cy="114.31" r="0.6" fill="#00B81B"/>
<circle cx="305.7" cy="117.08" r="0.6" fill="#00B81B"/>
<circle cx="303.98" cy="114.26" r="0.6" fill="#00B81B"/>
<circle cx="306.09" cy="116.33" r="0.6" fill="#00A018"/>
<circle cx="304.54" cy="114.36" r="0.6" fill="#00B81B"/>
<circle cx="304.25" cy="113.17" r="0.6" fill="#00B81B"/>
<circle cx="303.97" cy="114.09" r="0.6" fill="#00B81B"/>
<circle cx="307.47" cy="116.44" r="0.6" fill="#00A018"/>
<circle cx="305.24" cy="114.78" r="0.6" fill="#00B81B"/>
<circle cx="303.41" cy="112.98" r="0.6" fill="#00A018"/>
<circle cx="303.27" cy="112.48" r="0.6" fill="#00B81B"/>
<circle cx="306.01" cy="114.13" r="0.6" fill="#00B81B"/>
<circle cx="304.13" cy="112.85" r="0.6" fill="#00A018"/>
<circle cx="303.63" cy="112.6" r="0.6" fill="#00B81B"/>
<circle cx="306.24" cy="116.04" r="0.6" fill="#00A018"/>
<circle cx="304.68" cy="114.78" r="0.6" fill="#00B81B"/>
<circle cx="306.69" cy="118.27" r="0.6" fill="#00A018"/>
<circle cx="305.06" cy="113.65" r="0.6" fill="#00B81B"/>
<circle cx="302.54" cy="111.3" r="0.6" fill="#00A018"/>
<circle cx="305.06" cy="115.21" r="0.6" fill="#00A018"/>
<circle cx="306.03" cy="115.54" r="0.6" fill="#00B81B"/>
<circle cx="306.66" cy="117.27" r="0.6" fill="#00B81B"/>
<circle cx="307.21" cy="116.84" r="0.6" fill="#00B81B"/>
<circle cx="323.48" cy="108.71" r="0.55" fill="#DB8E00"/>
<circle cx="322.28" cy="108.63" r="0.55" fill="#E8A030"/>
<circle cx="320.63" cy="110.07" r="0.55" fill="#DB8E00"/>
<circle cx="319.84" cy="110.87" r="0.55" fill="#C79800"/>
<circle cx="319.01" cy="110.25" r="0.55" fill="#DB8E00"/>
<circle cx="321.25" cy="109.93" r="0.55" fill="#C79800"/>
<circle cx="324.99" cy="109.3" r="0.55" fill="#DB8E00"/>
<circle cx="320.57" cy="109.09" r="0.55" fill="#DB8E00"/>
<circle cx="325.51" cy="107.8" r="0.55" fill="#DB8E00"/>
<circle cx="316.7" cy="110.3" r="0.55" fill="#C79800"/>
<circle cx="318.22" cy="110.05" r="0.55" fill="#E8A030"/>
<circle cx="324.9" cy="107.83" r="0.55" fill="#DB8E00"/>
<circle cx="320.77" cy="109.37" r="0.55" fill="#C79800"/>
<circle cx="320" cy="110.05" r="0.55" fill="#DB8E00"/>
<circle cx="319.9" cy="109.78" r="0.55" fill="#DB8E00"/>
<circle cx="317.64" cy="109.95" r="0.55" fill="#DB8E00"/>
<circle cx="323.17" cy="109.12" r="0.55" fill="#DB8E00"/>
<circle cx="322.68" cy="109.1" r="0.55" fill="#DB8E00"/>
<circle cx="317.56" cy="110.43" r="0.55" fill="#DB8E00"/>
<circle cx="326.14" cy="108.97" r="0.55" fill="#E8A030"/>
<circle cx="323.57" cy="108.89" r="0.55" fill="#DB8E00"/>
<circle cx="319.4" cy="111.11" r="0.55" fill="#E8A030"/>
<circle cx="317.01" cy="110.74" r="0.55" fill="#DB8E00"/>
<circle cx="318.95" cy="110.1" r="0.55" fill="#E8A030"/>
<circle cx="326.66" cy="108.26" r="0.55" fill="#DB8E00"/>
<circle cx="317.2" cy="111.4" r="0.55" fill="#DB8E00"/>
<circle cx="325.97" cy="109.79" r="0.55" fill="#DB8E00"/>
<circle cx="318.96" cy="110.23" r="0.55" fill="#DB8E00"/>
<circle cx="317.62" cy="112.34" r="0.55" fill="#E8A030"/>
<circle cx="315.69" cy="110.36" r="0.55" fill="#E8A030"/>
<circle cx="322.6" cy="109.71" r="0.55" fill="#E8A030"/>
<circle cx="326.52" cy="108.33" r="0.55" fill="#DB8E00"/>
<circle cx="318.36" cy="110.66" r="0.55" fill="#E8A030"/>
<circle cx="325.06" cy="110.39" r="0.55" fill="#DB8E00"/>
<circle cx="326.68" cy="109.62" r="0.55" fill="#E8A030"/>
<circle cx="325.98" cy="109.08" r="0.55" fill="#E8A030"/>
<circle cx="321.15" cy="110.45" r="0.55" fill="#C79800"/>
<circle cx="316.25" cy="109.7" r="0.55" fill="#E8A030"/>
<circle cx="317.56" cy="110.26" r="0.55" fill="#E8A030"/>
<circle cx="326.13" cy="108.78" r="0.55" fill="#E8A030"/>
<ellipse cx="314.5" cy="110.8" rx="1.2" ry="0.9" fill="#909090"/>
<ellipse cx="323.9" cy="105.2" rx="1.1" ry="0.9" fill="#6E7ED8"/>
<circle cx="316.84" cy="115.59" r="0.45" fill="#DB8E00"/>
<circle cx="313.55" cy="113.42" r="0.45" fill="#DB8E00"/>
<circle cx="316.68" cy="117.63" r="0.45" fill="#DB8E00"/>
<circle cx="313.12" cy="113.11" r="0.45" fill="#DB8E00"/>
<circle cx="314.72" cy="113.6" r="0.45" fill="#DB8E00"/>
<circle cx="316.02" cy="114.24" r="0.45" fill="#DB8E00"/>
<circle cx="316.1" cy="112.91" r="0.45" fill="#DB8E00"/>
<circle cx="315.07" cy="117.85" r="0.45" fill="#DB8E00"/>
<circle cx="315.81" cy="112.54" r="0.45" fill="#DB8E00"/>
<circle cx="313.44" cy="115.86" r="0.45" fill="#DB8E00"/>
<circle cx="341.4" cy="115.1" r="0.7" fill="#00B2F3"/>
<g transform="matrix(0.81 0 0 0.731 384.3 16.6)">
<path d="M96 80.2L99 80.6L103 81.5L104.5 84L104 90L106.5 93L107 96L105 95L102.5 91.5L102.6 83.5L99 82L96 81.6Z" fill="#00BD5C" stroke="#00BD5C" stroke-width="0.9" stroke-linejoin="round" vector-effect="non-scaling-stroke"/>
<path d="M115.5 87L118 88.5L122 92L125.8 97.5L124.8 99.3L121.5 96L117.5 92L115 90Z" fill="#00BD5C" stroke="#00BD5C" stroke-width="0.9" stroke-linejoin="round" vector-effect="non-scaling-stroke"/>
<path d="M104.2 78a7.8 7.4 0 1 0 15.6 0a7.8 7.4 0 1 0 -15.6 0z" fill="#F8766D" stroke="#F8766D" stroke-width="0.9" stroke-linejoin="round" vector-effect="non-scaling-stroke"/>
<path d="M108.5 71L110 68.3L111.5 71Z" fill="#F8766D" stroke="#F8766D" stroke-width="0.9" stroke-linejoin="round" vector-effect="non-scaling-stroke"/>
<path d="M104.8 84.2L110 85.8L118.6 84L117.8 89L115.5 92.5L113.5 96.5L111 97.4L108 96.8L106.3 92.5L105.5 88Z" fill="#C79800" stroke="#C79800" stroke-width="0.9" stroke-linejoin="round" vector-effect="non-scaling-stroke"/>
<path d="M128.3 44.2a8 6.9 0 1 0 16 0a8 6.9 0 1 0 -16 0z" fill="#EC8239" stroke="#EC8239" stroke-width="0.9" stroke-linejoin="round" vector-effect="non-scaling-stroke"/>
<path d="M136.2 47.5a4.3 4.2 0 1 0 8.6 0a4.3 4.2 0 1 0 -8.6 0z" fill="#EC8239" stroke="#EC8239" stroke-width="0.9" stroke-linejoin="round" vector-effect="non-scaling-stroke"/>
<path d="M88.8 48.5L92 47.2L95.5 47.4L98 48.6L100.8 51.2L99 53.5L97.6 55L97 58.3L95.6 57.8L95 55.5L92.5 54.2L89.5 53.2L88.6 51Z" fill="#AEA200" stroke="#AEA200" stroke-width="0.9" stroke-linejoin="round" vector-effect="non-scaling-stroke"/>
<path d="M104.5 38.5L107 37.6L110.5 38L111 41L108.5 42.5L106 42Z" fill="#00BFC4" stroke="#00BFC4" stroke-width="0.9" stroke-linejoin="round" vector-effect="non-scaling-stroke"/>
<path d="M105 41.5L108.5 41.8L109.5 46L110.5 49L107.5 49.5L106 46.5L104.2 44Z" fill="#00C085" stroke="#00C085" stroke-width="0.9" stroke-linejoin="round" vector-effect="non-scaling-stroke"/>
<path d="M107.2 47.8L111.5 47.6L113.2 49.8L112.5 52.2L108.8 52.3L107 50Z" fill="#00C1A7" stroke="#00C1A7" stroke-width="0.9" stroke-linejoin="round" vector-effect="non-scaling-stroke"/>
<path d="M112.5 49L118 48.6L124 47.8L128.5 47.5L128.8 51.2L124 52.5L118 53.5L115.5 55L113 53Z" fill="#00BADE" stroke="#00BADE" stroke-width="0.9" stroke-linejoin="round" vector-effect="non-scaling-stroke"/>
<path d="M127.5 48.2L133 48.5L135.8 50.3L134.5 53.3L130 54L127.3 52.5Z" fill="#00A6FF" stroke="#00A6FF" stroke-width="0.9" stroke-linejoin="round" vector-effect="non-scaling-stroke"/>
<path d="M120.3 57.2a1.1 1.2 0 1 0 2.2 0a1.1 1.2 0 1 0 -2.2 0z" fill="#B385FF" stroke="#B385FF" stroke-width="0.9" stroke-linejoin="round" vector-effect="non-scaling-stroke"/>
<path d="M98.6 37.2L101.2 36.4L101.6 38.3L99.2 38.6Z" fill="#FD61D3" stroke="#FD61D3" stroke-width="0.9" stroke-linejoin="round" vector-effect="non-scaling-stroke"/>
<path d="M78.2 1.4L80.8 2.6L80.6 3.4L78 2.3Z" fill="#EF67EB" stroke="#EF67EB" stroke-width="0.9" stroke-linejoin="round" vector-effect="non-scaling-stroke"/>
<path d="M51.6 56.8L53.6 55.6L56.5 56.2L59 57.8L61.5 60.2L61.8 62L59.8 61.8L56.5 60.5L53 59.8L51.5 58.5Z" fill="#64B200" stroke="#64B200" stroke-width="0.9" stroke-linejoin="round" vector-effect="non-scaling-stroke"/>
<path d="M59.6 62.5a1.2 1 0 1 0 2.4 0a1.2 1 0 1 0 -2.4 0z" fill="#D874FD" stroke="#D874FD" stroke-width="0.9" stroke-linejoin="round" vector-effect="non-scaling-stroke"/>
<path d="M27 80.6L30.5 80.2L34 81.4L38 83.4L42 83.6L46.5 83.4L46.5 84.6L42 85.6L39.5 87.2L37 88L34.5 86.5L31 84.5L27.5 82.5Z" fill="#8FAA00" stroke="#8FAA00" stroke-width="0.9" stroke-linejoin="round" vector-effect="non-scaling-stroke"/>
<path d="M80.4 127L85 125.6L90 126.2L93.8 127.6L93.5 131.5L93 134.5L89 136L85 136.6L82.5 134L82 130L80.3 128.8Z" fill="#00B81B" stroke="#00B81B" stroke-width="0.9" stroke-linejoin="round" vector-effect="non-scaling-stroke"/>
<path d="M91.6 129L96 126.8L101 126.2L104.5 124.5L105.5 122.8L108.5 122.3L112.2 122.8L110.5 124.8L108.5 126.5L108.8 130.5L106 133.5L101 135.6L96.5 135.3L92.5 133.5Z" fill="#DB8E00" stroke="#DB8E00" stroke-width="0.9" stroke-linejoin="round" vector-effect="non-scaling-stroke"/>
<path d="M93.8 123.5L97 122L100.5 122.6L100.3 126.2L96.5 127L93.9 126.2Z" fill="#00C1A7" stroke="#00C1A7" stroke-width="0.9" stroke-linejoin="round" vector-effect="non-scaling-stroke"/>
<path d="M88.2 121.5L91.5 120L93 118.2L95.6 118.3L95.8 121.5L95 125.5L91.5 126.2L88.5 125Z" fill="#00B2F3" stroke="#00B2F3" stroke-width="0.9" stroke-linejoin="round" vector-effect="non-scaling-stroke"/>
<path d="M106 119a1.8 2.4 0 1 0 3.6 0a1.8 2.4 0 1 0 -3.6 0z" fill="#7C96FF" stroke="#7C96FF" stroke-width="0.9" stroke-linejoin="round" vector-effect="non-scaling-stroke"/>
<path d="M86.2 116L86.9 115.8L89.3 118.8L88.7 119.3Z" fill="#E0802A" stroke="#E0802A" stroke-width="0.9" stroke-linejoin="round" vector-effect="non-scaling-stroke"/>
<path d="M136.8 81.2L141.5 80.4L141.7 81.6L137 82.2Z" fill="#FF6B94" stroke="#FF6B94" stroke-width="0.9" stroke-linejoin="round" vector-effect="non-scaling-stroke"/>
<path d="M128 132.1a0.9 0.8 0 1 0 1.8 0a0.9 0.8 0 1 0 -1.8 0z" fill="#00B2F3" stroke="#00B2F3" stroke-width="0.9" stroke-linejoin="round" vector-effect="non-scaling-stroke"/>
<path d="M99.5 82.2h0M105.7 92h0M106.9 93.4h0M102.7 96.4h0M103 84.4h0M101.5 80h0M108.1 93.7h0M105.8 95.2h0M104.2 87.4h0M103 87.9h0M106.8 93.6h0M102.1 82.6h0M99.2 82.8h0M98.7 84.3h0M125.1 97.4h0M124.9 94h0M120.8 94.8h0M115.1 88.6h0M118.8 96.2h0M124.7 98.7h0M124 97.7h0M120.4 93.5h0M124.3 92.1h0M121.8 88.9h0M117.8 88.6h0M118.7 90.2h0M118.9 92.8h0M123.8 90.3h0M117.6 90.3h0" stroke="#00BD5C" stroke-width="1.1" stroke-linecap="round"/>
<path d="M97.6 81h0M104.7 92h0M101.4 81.7h0M122.3 96.2h0M118.3 89.8h0M119.3 91.9h0M108.2 81.5h0M108.8 81.9h0M112.9 79h0M113.4 71.8h0M109.7 79.2h0M110.4 83.3h0M116.3 74.8h0M117.6 77.1h0M114.6 83.3h0M107.1 74.6h0M111.8 76.9h0M105.6 80.6h0M113 79.2h0M113.7 81.6h0M108 79.6h0M109.9 75.7h0M115.8 84.8h0M113.3 86.3h0M115.8 86.9h0M109.6 91.7h0M112.8 93.5h0M117.4 88.5h0M113.6 85.6h0M108.3 85.3h0M116.7 88.5h0M110.1 86.8h0M108.2 90.6h0M133.9 42.6h0M132.4 46.7h0M138.4 43.5h0M130.8 43.9h0M138.8 47.7h0M133.2 47.3h0M130.7 42.4h0M131.1 45.2h0M132 41.2h0M140.9 48.2h0M130.1 47.6h0M140.3 48h0M134.3 49.4h0M139 39.1h0M129.3 41.3h0M140.7 51.1h0M138.8 48.1h0M143.2 49.9h0M138.5 44.3h0M143.1 48.9h0M96.3 52.4h0M88.8 49.7h0M98.4 50.2h0M96 52.6h0M90.7 47.8h0M91.5 52.9h0M95.6 55.6h0M108.8 41.5h0M108.8 38.1h0M106.4 43h0M109.1 45.4h0M108.3 48.6h0M109.3 51.7h0M108.8 50.7h0M114.2 52.5h0M125.7 48.1h0M124.6 47.9h0M126.5 51h0M118 49.1h0M125.9 50.6h0M121.6 49.9h0M129.6 50.5h0M132.4 52.8h0M134.5 49.5h0M59.8 59.7h0M58.2 59.7h0M58.7 58.1h0M34.9 85.7h0M31 82.6h0M37.1 86.9h0M37.1 86.8h0M44.4 83.6h0M32.9 81.2h0M87.2 127.8h0M90.2 127.2h0M86.1 126.2h0M83.2 128.7h0M88.5 135.4h0M84.6 128.8h0M80.7 128.9h0M90 131.5h0M92.3 132.4h0M83.9 129.8h0M108.5 123h0M106 123.5h0M103.4 133.1h0M104.8 129.3h0M107.4 130.1h0M92.7 131h0M107.2 130.6h0M98.3 133h0M102.4 128.4h0M105.7 129.8h0M106.8 130.3h0M110 124.9h0M98.1 129.7h0M98.7 123.9h0M94.9 123h0M94.3 123.3h0M91.8 125h0M94.7 123h0M92.4 125.2h0M108.4 117.2h0" stroke="#FFFFFF" stroke-width="1" stroke-linecap="round" stroke-opacity="0.5"/>
<path d="M113.6 74.4h0M112.5 76.6h0M114.1 82.8h0M109.8 72.1h0M106.1 83.6h0M107.7 78.5h0M119 78.1h0M119 79h0M108.2 75.2h0M111.6 82.3h0M113.4 81.8h0M116.6 76.3h0M114.9 78.5h0M108.8 85.2h0M118.9 84h0M110.7 72.5h0M115.9 75.4h0M106.8 75.3h0M112.2 80.8h0M110.8 82.3h0M120.4 81h0M109.4 88.2h0M111.8 74h0M111.7 74.5h0M117.1 74.3h0M106.8 79.3h0M109.4 69.6h0M108.2 78h0M114.1 75.2h0M115.9 79.2h0M114.9 78.4h0M110.2 84.7h0M114.3 76.7h0M106.3 78.2h0M121.9 80.6h0M120.7 81.2h0M116.5 80.9h0M116.6 73.5h0M114 83.8h0M103.3 82.9h0M113.6 83.2h0M119.5 77.8h0M119.5 78.5h0M109.1 82h0M115.5 73h0M118.9 80.2h0M114.1 73.2h0M108.4 73.1h0M112 78.6h0M107.4 74.7h0M114.3 75.3h0M110.8 82.3h0M109.7 75.2h0M115.9 73.1h0M116.8 73.2h0M107.4 71.8h0M105.9 76.6h0M117.6 77.3h0M115.1 84.8h0M106.3 78.4h0M109.9 78.7h0M112.2 76.1h0M113 71.1h0M110.2 78h0M118.3 77.6h0M108.1 69.7h0M110.8 70.1h0M108.7 69.9h0" stroke="#F8766D" stroke-width="1.1" stroke-linecap="round"/>
<path d="M115.9 92.2h0M118.1 86.3h0M112.9 88.6h0M112.4 94.7h0M106.1 87.4h0M105.9 95.4h0M111.6 91.8h0M109.2 86.6h0M118.6 85.6h0M113.8 87.7h0M113.5 88.2h0M111.4 89.9h0M111.5 92.8h0M114 86.5h0M107.6 86.8h0M108.7 92.9h0M103.2 93h0M111.3 91h0M106.3 90.3h0M117.6 93.3h0M114.7 87.5h0M113.6 84.5h0M111.4 91.4h0M113.3 93h0M112.4 89.1h0M108.9 87.5h0M111.7 87.8h0M110 84.1h0M110.1 89.3h0M107.7 90.5h0M114.1 85.4h0M111.5 93.6h0M106.6 84.2h0M117.8 83.7h0M111.9 86.2h0M114.2 87.7h0M111.8 92.8h0M118.6 86.1h0M115.1 90.6h0M110.9 90.4h0M114.1 91.1h0M112.1 96.8h0M108.4 94.7h0M109.4 86h0" stroke="#C79800" stroke-width="1.1" stroke-linecap="round"/>
<path d="M133.5 45.4h0M140.5 37h0M141.8 40h0M135 36.4h0M133.8 40.9h0M138.1 39.8h0M138 46.4h0M134.2 49.1h0M140.4 37.9h0M140.8 40.1h0M130.8 45h0M135.8 43.1h0M142.7 46.2h0M126.6 41.4h0M136.8 51.6h0M137.7 41.3h0M137.2 36.4h0M142.6 38.4h0M133.4 47.5h0M128.1 39.8h0M139.5 50h0M135.3 45h0M136.5 43.4h0M130.5 43.5h0M133.6 40.6h0M138.7 37.9h0M138.8 47.4h0M133.6 42h0M138.3 44.1h0M131.3 48.9h0M141.3 49.1h0M138.7 42.1h0M137.1 42.5h0M146.6 45h0M139.3 52.8h0M136.7 46.4h0M138.3 48h0M127.5 46.4h0M140.2 48.9h0M131.2 47.8h0M137.8 41.1h0M131.5 48.7h0M131.5 38.4h0M139.8 37.8h0M135.5 48.8h0M131.3 35.9h0M141.1 41.7h0M130.8 42.6h0M137.6 45.7h0M130 50h0M130.6 41.9h0M137.7 46.9h0M142.3 47.8h0M136.7 48.5h0M131.7 39.5h0M137.6 47.5h0M136.3 38.3h0M136.2 46.1h0M136.7 42.2h0M136.4 42.4h0M140.5 43.4h0M137.6 44.1h0M136.6 51.6h0M134 46.5h0M140.7 47.6h0M147.2 50.2h0M139.3 48.8h0M143.3 49h0M142.8 43.2h0M145.8 46.5h0M142.9 46h0M138.3 46.8h0M135.5 49.8h0M137.4 44.6h0M139 48.6h0M137.9 43.4h0M140.4 47.6h0M142.6 53.8h0M141.9 50.9h0M141.1 51h0M139.8 46.9h0M136.4 47.7h0M142.8 49.5h0" stroke="#EC8239" stroke-width="1.1" stroke-linecap="round"/>
<path d="M92.5 49.6h0M98 48.4h0M96.6 45.6h0M90.5 51.1h0M95.8 54.5h0M94.4 50.2h0M90.1 49.8h0M96.4 55.1h0M93.2 49.4h0M90.6 50h0M90.1 51.9h0M87.6 50.4h0M96.6 54.2h0M96.3 54.8h0M94 52.6h0M97.2 51.5h0M91.7 47.4h0M91.8 55.2h0M96.4 50.3h0M100.6 52.4h0M95.7 50h0M91.8 51.4h0M93.3 52.4h0M86.9 52.7h0M97 52.4h0M93.9 57.7h0M85.3 48.3h0M96.5 52.2h0" stroke="#AEA200" stroke-width="1.1" stroke-linecap="round"/>
<path d="M107.2 38.4h0M105.5 42.7h0M107.2 37.3h0M109.6 33.9h0M107.8 37.2h0M106.6 38.6h0M110.7 38h0M108.2 36.7h0M105.2 41.9h0M103.6 42.4h0" stroke="#00BFC4" stroke-width="1.1" stroke-linecap="round"/>
<path d="M105.8 46.1h0M104.8 47.3h0M110.4 43.9h0M104.5 48.3h0M106 46.4h0M111.2 46h0M104.1 43.7h0M104.2 46h0M108.1 42.1h0M107.8 45.1h0M106.9 41.3h0M108.3 46.3h0" stroke="#00C085" stroke-width="1.1" stroke-linecap="round"/>
<path d="M105.1 49h0M112.2 51.6h0M114.1 48.3h0M107.6 48.2h0M113.1 50.5h0M108.7 49.6h0M108.3 51.6h0M109.6 51.6h0M106 50.6h0M107.7 48.8h0M94.5 125.8h0M95.9 123.3h0M99.4 123.3h0M94.1 126.3h0M95.2 125.7h0M96.2 124h0M97.3 122.2h0M97.8 121.8h0M97.6 126.2h0M96.9 123.3h0M98.8 121.5h0" stroke="#00C1A7" stroke-width="1.1" stroke-linecap="round"/>
<path d="M126.7 49.5h0M115.3 52.2h0M115.9 50.4h0M121.5 50.5h0M112.8 48.8h0M116.4 47.6h0M129.4 49.6h0M117.1 45.1h0M121.9 51.5h0M129 48.3h0M128.2 48.4h0M127.9 51h0M118.6 55.5h0M115.2 51.2h0M121.4 48.3h0M111.2 51.3h0M118.2 48.7h0M115 52.6h0M121 50.8h0M115.5 51.5h0M123.4 52.5h0M117.1 53.4h0M122.6 50.1h0M114.4 51.8h0M117.7 55.2h0M125.6 45.8h0M114.8 53.1h0M122 50.5h0" stroke="#00BADE" stroke-width="1.1" stroke-linecap="round"/>
<path d="M130 48.7h0M127.7 53.7h0M134.5 51.3h0M129.2 48.8h0M135.9 50.9h0M133.7 49h0M134.3 52.8h0M129 49.2h0M128.8 48.9h0M131.5 53.5h0M129.1 48.8h0M132.3 53.9h0M133.4 53h0M130.6 52.1h0M129.5 50.8h0" stroke="#00A6FF" stroke-width="1.1" stroke-linecap="round"/>
<path d="M118.6 56.7h0M122.3 57.5h0M121.2 62.3h0" stroke="#B385FF" stroke-width="1.1" stroke-linecap="round"/>
<path d="M99.9 38.3h0M96.7 38h0M100.9 37.6h0" stroke="#FD61D3" stroke-width="1.1" stroke-linecap="round"/>
<path d="M78.4 3.6h0M77.8 2.4h0" stroke="#EF67EB" stroke-width="1.1" stroke-linecap="round"/>
<path d="M55.7 59.8h0M56.7 56.7h0M57 57.9h0M57.5 61.8h0M57.7 60.6h0M58.1 58.9h0M55.6 58.1h0M59 61h0M52 60.4h0M60.4 61.5h0M54.9 53.1h0M55.2 60.8h0M58.9 59.1h0M59.6 59.5h0" stroke="#64B200" stroke-width="1.1" stroke-linecap="round"/>
<path d="M60.5 63.3h0M57.7 63.2h0M58.7 61.6h0" stroke="#D874FD" stroke-width="1.1" stroke-linecap="round"/>
<path d="M43.3 85.6h0M33.9 80.5h0M39.2 87.2h0M28.9 77.8h0M31.5 85.3h0M37 81.5h0M30.3 86.5h0M35.3 83.8h0M38.5 88.5h0M38.8 87.2h0M30.5 81.1h0M41.3 87.3h0M37.4 85.7h0M32.2 82.8h0M44.6 85.8h0M33.8 88.4h0M45.3 83.7h0M38.3 83.3h0M34.6 85.8h0M33.8 89.2h0M38.3 88h0M32.8 83.2h0M41.8 82.5h0M32.3 83.2h0" stroke="#8FAA00" stroke-width="1.1" stroke-linecap="round"/>
<path d="M85.8 129h0M83 129.1h0M83.7 127h0M87.2 128.8h0M84.5 136.2h0M91.3 132.9h0M89.4 126.4h0M86.7 130.3h0M86.7 134.3h0M89.4 125h0M91.6 132.1h0M83.7 124.6h0M86.6 131.3h0M89.9 131.3h0M89.3 130.4h0M86.1 127.1h0M93.3 128.5h0M86 130.3h0M88.3 125.9h0M92.7 125.2h0M84.4 129.3h0M91.6 128.4h0M86.3 128.5h0M88.7 127.1h0M90.5 129.1h0M87.4 129h0M91.4 135.6h0M92.4 128.8h0M84.2 127.7h0M89.2 135.4h0M91.3 128.8h0M81.9 129.6h0M80.9 132.4h0M90.2 129.4h0M90.4 135.8h0M87.8 126.1h0M86.4 130.9h0M84.5 132.6h0M87.1 135.2h0M84.3 130.6h0" stroke="#00B81B" stroke-width="1.1" stroke-linecap="round"/>
<path d="M93.2 130.8h0M101.8 130.4h0M105.2 129.7h0M97.4 124.1h0M104.7 131.4h0M102.6 129h0M105.2 130.4h0M103 132.5h0M95.9 134.6h0M97.3 133.3h0M107.6 125.3h0M102.7 132.6h0M94.3 132.3h0M108.1 123.7h0M106.6 129.2h0M106.7 132.2h0M101.6 130.1h0M103.7 127.3h0M98.3 127.7h0M99.1 131.5h0M103.6 130.8h0M94.3 129.3h0M106.8 130.1h0M107.5 123.2h0M105.7 125.3h0M109.2 122.3h0M103 133.5h0M106.1 121.7h0M98.5 127.5h0M100.8 128.2h0M93.1 129h0M96.5 128.4h0M103.8 130.5h0M99.2 128.4h0M108.9 128.7h0M96 130.3h0M96.9 134h0M92.2 132.6h0M92.9 133.6h0M95.8 129h0M99.5 134.9h0M104.3 131.6h0M103.3 134.6h0M93.9 133.5h0M104.7 126.1h0M98.6 126.9h0M99.9 126.4h0M103.1 133.4h0M106.1 132.5h0M100.1 128.4h0M106.1 130.4h0M105.9 125.3h0M103.3 132.3h0M99.2 132.4h0M95.5 134.3h0" stroke="#DB8E00" stroke-width="1.1" stroke-linecap="round"/>
<path d="M94.2 125.8h0M92.6 124.2h0M90.3 119.6h0M92.6 123.7h0M94.8 123.5h0M92.4 120.4h0M93.2 125.6h0M87.6 120.4h0M95.4 120.5h0M91.7 124.6h0M91.3 124.5h0M93.9 127.2h0M93.8 124.1h0M90.6 123.5h0M92.8 120.9h0M87.5 123.5h0M89.7 123.4h0M128.8 134.2h0M128.3 132.9h0" stroke="#00B2F3" stroke-width="1.1" stroke-linecap="round"/>
<path d="M107.1 117.7h0M108.1 117.1h0M105.6 118.1h0M108.7 119.4h0M108.9 121.4h0M109.8 119.8h0" stroke="#7C96FF" stroke-width="1.1" stroke-linecap="round"/>
<path d="M89.1 116.2h0M87.1 116.1h0M89.9 118h0" stroke="#E0802A" stroke-width="1.1" stroke-linecap="round"/>
<path d="M142.4 80.2h0M139 80.7h0M140.3 83.4h0" stroke="#FF6B94" stroke-width="1.1" stroke-linecap="round"/>
<text x="78.8" y="7.4" font-size="3.6" font-weight="bold" text-anchor="middle" >18</text>
<text x="97.3" y="41.3" font-size="3.6" font-weight="bold" text-anchor="middle" >19</text>
<text x="108.7" y="40.8" font-size="3.6" font-weight="bold" text-anchor="middle" >11</text>
<text x="134.3" y="43.6" font-size="3.6" font-weight="bold" text-anchor="middle" >1</text>
<text x="93.1" y="52.6" font-size="3.6" font-weight="bold" text-anchor="middle" >4</text>
<text x="110.1" y="51.2" font-size="3.6" font-weight="bold" text-anchor="middle" >9</text>
<text x="118.7" y="51.7" font-size="3.6" font-weight="bold" text-anchor="middle" >12</text>
<text x="130.5" y="53.1" font-size="3.6" font-weight="bold" text-anchor="middle" >14</text>
<text x="120.9" y="62.1" font-size="3.6" font-weight="bold" text-anchor="middle" >16</text>
<text x="54.4" y="60.3" font-size="3.6" font-weight="bold" text-anchor="middle" >6</text>
<text x="62.3" y="67.7" font-size="3.6" font-weight="bold" text-anchor="middle" >17</text>
<text x="33.9" y="85.1" font-size="3.6" font-weight="bold" text-anchor="middle" >5</text>
<text x="110.7" y="79.6" font-size="3.6" font-weight="bold" text-anchor="middle" >0</text>
<text x="110.7" y="88.8" font-size="3.6" font-weight="bold" text-anchor="middle" >3</text>
<text x="123.1" y="98.4" font-size="3.6" font-weight="bold" text-anchor="middle" >8</text>
<text x="140.4" y="86.4" font-size="3.6" font-weight="bold" text-anchor="middle" >21</text>
<text x="87.7" y="114.6" font-size="3.6" font-weight="bold" text-anchor="middle" >20</text>
<text x="107.4" y="119.9" font-size="3.6" font-weight="bold" text-anchor="middle" >15</text>
<text x="91.2" y="123.8" font-size="3.6" font-weight="bold" text-anchor="middle" >13</text>
<text x="97.3" y="126.4" font-size="3.6" font-weight="bold" text-anchor="middle" >10</text>
<text x="86" y="133" font-size="3.6" font-weight="bold" text-anchor="middle" >7</text>
<text x="101.3" y="133.4" font-size="3.6" font-weight="bold" text-anchor="middle" >2</text>
</g>
<line x1="238.9" y1="136.7" x2="238.9" y2="112.7" stroke="#888" stroke-width="0.9"/>
<line x1="238.45" y1="136.7" x2="263.1" y2="136.7" stroke="#888" stroke-width="0.9"/>
<path d="M235.5 113.2L238.9 105.1L242.3 113.2Z" fill="#000"/>
<path d="M262.6 133.3L270.7 136.7L262.6 140.1Z" fill="#000"/>
<text x="238.9" y="145.25" font-size="6.25" fill="#222" style="stroke-width:0.3px" >UMAP1</text>
<text transform="translate(233.2 125.8) rotate(-90)" x="0" y="2.25" font-size="6.25" fill="#222" text-anchor="middle" style="stroke-width:0.3px" >UMAP2</text>
<rect x="574" y="10.9" width="18.9" height="1" fill="#D8A0E8"/>
<rect x="574" y="11.9" width="18.9" height="1.2" fill="#F8D0A0"/>
<rect x="574" y="13.1" width="18.9" height="2.6" fill="#E08000"/>
<rect x="574" y="15.7" width="18.9" height="4.2" fill="#FFFF00"/>
<rect x="574" y="19.9" width="18.9" height="1.9" fill="#808080"/>
<rect x="574" y="21.8" width="18.9" height="4.1" fill="#A0C8FF"/>
<rect x="574" y="25.9" width="18.9" height="15.3" fill="#00F000"/>
<rect x="574" y="41.2" width="18.9" height="1.7" fill="#F0C090"/>
<rect x="574" y="42.9" width="18.9" height="7.3" fill="#B01000"/>
<rect x="574" y="50.2" width="18.9" height="1.8" fill="#701870"/>
<rect x="574" y="52" width="18.9" height="4.9" fill="#002090"/>
<rect x="574" y="56.9" width="18.9" height="22.5" fill="#A07030"/>
<rect x="574" y="79.4" width="18.9" height="5.4" fill="#000000"/>
<rect x="574" y="84.8" width="18.9" height="8.3" fill="#FF9000"/>
<rect x="574" y="93.1" width="18.9" height="1.6" fill="#B040E0"/>
<rect x="574" y="94.7" width="18.9" height="8.3" fill="#00C800"/>
<rect x="574" y="103" width="18.9" height="9.2" fill="#FF2200"/>
<rect x="574" y="112.2" width="18.9" height="3.2" fill="#1E3CFF"/>
<rect x="602.8" y="11" width="19.2" height="0.9" fill="#D8A0E8"/>
<rect x="602.8" y="11.9" width="19.2" height="0.8" fill="#F8D0C0"/>
<rect x="602.8" y="12.7" width="19.2" height="1" fill="#D0A020"/>
<rect x="602.8" y="13.7" width="19.2" height="1.3" fill="#E08000"/>
<rect x="602.8" y="15" width="19.2" height="1" fill="#F0E8C0"/>
<rect x="602.8" y="16" width="19.2" height="0.8" fill="#808080"/>
<rect x="602.8" y="16.8" width="19.2" height="3.2" fill="#D0D0FF"/>
<rect x="602.8" y="20" width="19.2" height="0.8" fill="#00C800"/>
<rect x="602.8" y="20.8" width="19.2" height="2.9" fill="#FFC890"/>
<rect x="602.8" y="23.7" width="19.2" height="3.1" fill="#006020"/>
<rect x="602.8" y="26.8" width="19.2" height="2.9" fill="#B01000"/>
<rect x="602.8" y="29.7" width="19.2" height="5.2" fill="#701870"/>
<rect x="602.8" y="34.9" width="19.2" height="4.4" fill="#002090"/>
<rect x="602.8" y="39.3" width="19.2" height="1.6" fill="#A07030"/>
<rect x="602.8" y="40.9" width="19.2" height="5" fill="#000000"/>
<rect x="602.8" y="45.9" width="19.2" height="7.5" fill="#FF9000"/>
<rect x="602.8" y="53.4" width="19.2" height="10.5" fill="#B040E0"/>
<rect x="602.8" y="63.9" width="19.2" height="10.3" fill="#00C800"/>
<rect x="602.8" y="74.2" width="19.2" height="14.4" fill="#FF2200"/>
<rect x="602.8" y="88.6" width="19.2" height="27.1" fill="#1E3CFF"/>
<line x1="564.5" y1="10.9" x2="564.5" y2="115.6" stroke="#222" stroke-width="0.7"/>
<line x1="562.5" y1="10.9" x2="564.5" y2="10.9" stroke="#222" stroke-width="0.5"/>
<line x1="563.2" y1="16.12" x2="564.5" y2="16.12" stroke="#222" stroke-width="0.5"/>
<line x1="563.2" y1="21.35" x2="564.5" y2="21.35" stroke="#222" stroke-width="0.5"/>
<line x1="563.2" y1="26.58" x2="564.5" y2="26.58" stroke="#222" stroke-width="0.5"/>
<line x1="563.2" y1="31.8" x2="564.5" y2="31.8" stroke="#222" stroke-width="0.5"/>
<line x1="563.2" y1="37.02" x2="564.5" y2="37.02" stroke="#222" stroke-width="0.5"/>
<line x1="563.2" y1="42.25" x2="564.5" y2="42.25" stroke="#222" stroke-width="0.5"/>
<line x1="563.2" y1="47.48" x2="564.5" y2="47.48" stroke="#222" stroke-width="0.5"/>
<line x1="563.2" y1="52.7" x2="564.5" y2="52.7" stroke="#222" stroke-width="0.5"/>
<line x1="563.2" y1="57.92" x2="564.5" y2="57.92" stroke="#222" stroke-width="0.5"/>
<line x1="562.5" y1="63.15" x2="564.5" y2="63.15" stroke="#222" stroke-width="0.5"/>
<line x1="563.2" y1="68.38" x2="564.5" y2="68.38" stroke="#222" stroke-width="0.5"/>
<line x1="563.2" y1="73.6" x2="564.5" y2="73.6" stroke="#222" stroke-width="0.5"/>
<line x1="563.2" y1="78.83" x2="564.5" y2="78.83" stroke="#222" stroke-width="0.5"/>
<line x1="563.2" y1="84.05" x2="564.5" y2="84.05" stroke="#222" stroke-width="0.5"/>
<line x1="563.2" y1="89.28" x2="564.5" y2="89.28" stroke="#222" stroke-width="0.5"/>
<line x1="563.2" y1="94.5" x2="564.5" y2="94.5" stroke="#222" stroke-width="0.5"/>
<line x1="563.2" y1="99.73" x2="564.5" y2="99.73" stroke="#222" stroke-width="0.5"/>
<line x1="563.2" y1="104.95" x2="564.5" y2="104.95" stroke="#222" stroke-width="0.5"/>
<line x1="563.2" y1="110.18" x2="564.5" y2="110.18" stroke="#222" stroke-width="0.5"/>
<line x1="562.5" y1="115.4" x2="564.5" y2="115.4" stroke="#222" stroke-width="0.5"/>
<text x="562" y="11.98" font-size="3" text-anchor="end" >1.0</text>
<text x="562" y="64.28" font-size="3" text-anchor="end" >0.5</text>
<text x="562" y="116.48" font-size="3" text-anchor="end" >0.0</text>
<text transform="translate(590.1 119.9) rotate(90)" x="0" y="2.39" font-size="6.65"  >PeptiCrad</text>
<text transform="translate(620.7 118.1) rotate(90)" x="0" y="2.38" font-size="6.6"  >Trained+</text>
<text transform="translate(614 118.1) rotate(90)" x="0" y="2.39" font-size="6.65"  >PeptiCrad</text>
<rect x="639.8" y="4.4" width="4.6" height="2.6" fill="#1E3CFF"/>
<text x="646.2" y="6.78" font-size="3"  >0</text>
<rect x="639.8" y="9.62" width="4.6" height="2.6" fill="#FF2200"/>
<text x="646.2" y="12" font-size="3"  >1</text>
<rect x="639.8" y="14.84" width="4.6" height="2.6" fill="#00C800"/>
<text x="646.2" y="17.22" font-size="3"  >2</text>
<rect x="639.8" y="20.06" width="4.6" height="2.6" fill="#B040E0"/>
<text x="646.2" y="22.44" font-size="3"  >3</text>
<rect x="639.8" y="25.28" width="4.6" height="2.6" fill="#FF9000"/>
<text x="646.2" y="27.66" font-size="3"  >4</text>
<rect x="639.8" y="30.5" width="4.6" height="2.6" fill="#000000"/>
<text x="646.2" y="32.88" font-size="3"  >5</text>
<rect x="639.8" y="35.72" width="4.6" height="2.6" fill="#A07030"/>
<text x="646.2" y="38.1" font-size="3"  >6</text>
<rect x="639.8" y="40.94" width="4.6" height="2.6" fill="#002090"/>
<text x="646.2" y="43.32" font-size="3"  >7</text>
<rect x="639.8" y="46.16" width="4.6" height="2.6" fill="#701870"/>
<text x="646.2" y="48.54" font-size="3"  >8</text>
<rect x="639.8" y="51.38" width="4.6" height="2.6" fill="#B01000"/>
<text x="646.2" y="53.76" font-size="3"  >9</text>
<rect x="639.8" y="56.6" width="4.6" height="2.6" fill="#006020"/>
<text x="646.2" y="58.98" font-size="3"  >10</text>
<rect x="639.8" y="61.82" width="4.6" height="2.6" fill="#FFC890"/>
<text x="646.2" y="64.2" font-size="3"  >11</text>
<rect x="639.8" y="67.04" width="4.6" height="2.6" fill="#00F000"/>
<text x="646.2" y="69.42" font-size="3"  >12</text>
<rect x="639.8" y="72.26" width="4.6" height="2.6" fill="#A0C8FF"/>
<text x="646.2" y="74.64" font-size="3"  >13</text>
<rect x="639.8" y="77.48" width="4.6" height="2.6" fill="#D0D0FF"/>
<text x="646.2" y="79.86" font-size="3"  >14</text>
<rect x="639.8" y="82.7" width="4.6" height="2.6" fill="#808080"/>
<text x="646.2" y="85.08" font-size="3"  >15</text>
<rect x="639.8" y="87.92" width="4.6" height="2.6" fill="#FFFF00"/>
<text x="646.2" y="90.3" font-size="3"  >16</text>
<rect x="639.8" y="93.14" width="4.6" height="2.6" fill="#C87000"/>
<text x="646.2" y="95.52" font-size="3"  >17</text>
<rect x="639.8" y="98.36" width="4.6" height="2.6" fill="#E0E0E0"/>
<text x="646.2" y="100.74" font-size="3"  >18</text>
<rect x="639.8" y="103.58" width="4.6" height="2.6" fill="#D0C000"/>
<text x="646.2" y="105.96" font-size="3"  >19</text>
<rect x="639.8" y="108.8" width="4.6" height="2.6" fill="#FF80E0"/>
<text x="646.2" y="111.18" font-size="3"  >20</text>
<rect x="639.8" y="114.02" width="4.6" height="2.6" fill="#400090"/>
<text x="646.2" y="116.4" font-size="3"  >21</text>
<circle cx="38.2" cy="192.4" r="2.49" fill="#10F010"/>
<circle cx="47.96" cy="192.4" r="1.55" fill="#72C972"/>
<circle cx="57.72" cy="192.4" r="1.3" fill="#95BB95"/>
<circle cx="67.48" cy="192.4" r="1.81" fill="#80C380"/>
<circle cx="77.24" cy="192.4" r="1.47" fill="#95BB95"/>
<circle cx="87" cy="192.4" r="0.88" fill="#95BB95"/>
<circle cx="96.76" cy="192.4" r="0.88" fill="#95BB95"/>
<circle cx="106.52" cy="192.4" r="0.88" fill="#95BB95"/>
<circle cx="116.28" cy="192.4" r="1.13" fill="#95BB95"/>
<circle cx="126.04" cy="192.4" r="1.04" fill="#95BB95"/>
<circle cx="135.8" cy="192.4" r="0.96" fill="#95BB95"/>
<circle cx="145.56" cy="192.4" r="1.13" fill="#95BB95"/>
<circle cx="155.32" cy="192.4" r="0.96" fill="#95BB95"/>
<circle cx="165.08" cy="192.4" r="0.96" fill="#95BB95"/>
<circle cx="174.84" cy="192.4" r="0.88" fill="#95BB95"/>
<circle cx="184.6" cy="192.4" r="1.13" fill="#95BB95"/>
<circle cx="38.2" cy="196.52" r="2.32" fill="#48DA48"/>
<circle cx="47.96" cy="196.52" r="1.39" fill="#79C679"/>
<circle cx="57.72" cy="196.52" r="1.22" fill="#87C087"/>
<circle cx="67.48" cy="196.52" r="2.15" fill="#5DD15D"/>
<circle cx="77.24" cy="196.52" r="1.39" fill="#95BB95"/>
<circle cx="87" cy="196.52" r="1.04" fill="#95BB95"/>
<circle cx="96.76" cy="196.52" r="1.04" fill="#95BB95"/>
<circle cx="106.52" cy="196.52" r="0.96" fill="#95BB95"/>
<circle cx="116.28" cy="196.52" r="1.47" fill="#72C972"/>
<circle cx="126.04" cy="196.52" r="1.04" fill="#95BB95"/>
<circle cx="135.8" cy="196.52" r="1.13" fill="#95BB95"/>
<circle cx="145.56" cy="196.52" r="1.13" fill="#95BB95"/>
<circle cx="155.32" cy="196.52" r="1.13" fill="#95BB95"/>
<circle cx="165.08" cy="196.52" r="1.13" fill="#95BB95"/>
<circle cx="174.84" cy="196.52" r="1.13" fill="#95BB95"/>
<circle cx="184.6" cy="196.52" r="1.13" fill="#95BB95"/>
<circle cx="38.2" cy="200.64" r="1.98" fill="#17ED17"/>
<circle cx="47.96" cy="200.64" r="1.3" fill="#8EBE8E"/>
<circle cx="57.72" cy="200.64" r="1.22" fill="#95BB95"/>
<circle cx="67.48" cy="200.64" r="1.47" fill="#95BB95"/>
<circle cx="77.24" cy="200.64" r="1.47" fill="#95BB95"/>
<circle cx="87" cy="200.64" r="1.3" fill="#95BB95"/>
<circle cx="96.76" cy="200.64" r="1.55" fill="#95BB95"/>
<circle cx="106.52" cy="200.64" r="1.3" fill="#95BB95"/>
<circle cx="116.28" cy="200.64" r="1.47" fill="#64CE64"/>
<circle cx="126.04" cy="200.64" r="1.13" fill="#95BB95"/>
<circle cx="135.8" cy="200.64" r="1.3" fill="#95BB95"/>
<circle cx="145.56" cy="200.64" r="1.39" fill="#95BB95"/>
<circle cx="155.32" cy="200.64" r="1.39" fill="#95BB95"/>
<circle cx="165.08" cy="200.64" r="1.22" fill="#95BB95"/>
<circle cx="174.84" cy="200.64" r="1.39" fill="#72C972"/>
<circle cx="184.6" cy="200.64" r="1.47" fill="#72C972"/>
<circle cx="38.2" cy="204.76" r="1.89" fill="#17ED17"/>
<circle cx="47.96" cy="204.76" r="2.06" fill="#10F010"/>
<circle cx="57.72" cy="204.76" r="1.55" fill="#4FD74F"/>
<circle cx="67.48" cy="204.76" r="1.3" fill="#95BB95"/>
<circle cx="77.24" cy="204.76" r="1.3" fill="#95BB95"/>
<circle cx="87" cy="204.76" r="1.13" fill="#95BB95"/>
<circle cx="96.76" cy="204.76" r="1.3" fill="#95BB95"/>
<circle cx="106.52" cy="204.76" r="1.3" fill="#95BB95"/>
<circle cx="116.28" cy="204.76" r="1.39" fill="#95BB95"/>
<circle cx="126.04" cy="204.76" r="1.04" fill="#95BB95"/>
<circle cx="135.8" cy="204.76" r="1.22" fill="#95BB95"/>
<circle cx="145.56" cy="204.76" r="1.22" fill="#95BB95"/>
<circle cx="155.32" cy="204.76" r="1.22" fill="#95BB95"/>
<circle cx="165.08" cy="204.76" r="0.96" fill="#95BB95"/>
<circle cx="174.84" cy="204.76" r="1.22" fill="#95BB95"/>
<circle cx="184.6" cy="204.76" r="1.39" fill="#95BB95"/>
<circle cx="38.2" cy="208.88" r="2.32" fill="#25E825"/>
<circle cx="47.96" cy="208.88" r="1.04" fill="#95BB95"/>
<circle cx="57.72" cy="208.88" r="2.15" fill="#64CE64"/>
<circle cx="67.48" cy="208.88" r="2.32" fill="#48DA48"/>
<circle cx="77.24" cy="208.88" r="2.15" fill="#10F010"/>
<circle cx="87" cy="208.88" r="0.88" fill="#95BB95"/>
<circle cx="96.76" cy="208.88" r="1.22" fill="#95BB95"/>
<circle cx="106.52" cy="208.88" r="0.88" fill="#95BB95"/>
<circle cx="116.28" cy="208.88" r="1.04" fill="#95BB95"/>
<circle cx="126.04" cy="208.88" r="2.15" fill="#48DA48"/>
<circle cx="135.8" cy="208.88" r="0.96" fill="#95BB95"/>
<circle cx="145.56" cy="208.88" r="1.81" fill="#80C380"/>
<circle cx="155.32" cy="208.88" r="0.79" fill="#95BB95"/>
<circle cx="165.08" cy="208.88" r="0.88" fill="#95BB95"/>
<circle cx="174.84" cy="208.88" r="0.88" fill="#95BB95"/>
<circle cx="184.6" cy="208.88" r="0.88" fill="#95BB95"/>
<circle cx="38.2" cy="213" r="1.98" fill="#95BB95"/>
<circle cx="47.96" cy="213" r="1.13" fill="#95BB95"/>
<circle cx="57.72" cy="213" r="2.06" fill="#87C087"/>
<circle cx="67.48" cy="213" r="1.89" fill="#95BB95"/>
<circle cx="77.24" cy="213" r="1.3" fill="#95BB95"/>
<circle cx="87" cy="213" r="1.04" fill="#95BB95"/>
<circle cx="96.76" cy="213" r="0.88" fill="#95BB95"/>
<circle cx="116.28" cy="213" r="0.96" fill="#95BB95"/>
<circle cx="126.04" cy="213" r="1.3" fill="#95BB95"/>
<circle cx="135.8" cy="213" r="0.71" fill="#95BB95"/>
<circle cx="145.56" cy="213" r="1.04" fill="#95BB95"/>
<circle cx="155.32" cy="213" r="0.71" fill="#95BB95"/>
<circle cx="165.08" cy="213" r="1.04" fill="#95BB95"/>
<circle cx="174.84" cy="213" r="0.79" fill="#95BB95"/>
<circle cx="184.6" cy="213" r="0.79" fill="#95BB95"/>
<circle cx="38.2" cy="217.12" r="1.89" fill="#95BB95"/>
<circle cx="47.96" cy="217.12" r="1.13" fill="#95BB95"/>
<circle cx="57.72" cy="217.12" r="1.89" fill="#95BB95"/>
<circle cx="67.48" cy="217.12" r="1.89" fill="#95BB95"/>
<circle cx="77.24" cy="217.12" r="1.47" fill="#95BB95"/>
<circle cx="87" cy="217.12" r="1.81" fill="#95BB95"/>
<circle cx="96.76" cy="217.12" r="1.64" fill="#95BB95"/>
<circle cx="106.52" cy="217.12" r="1.64" fill="#95BB95"/>
<circle cx="116.28" cy="217.12" r="1.64" fill="#95BB95"/>
<circle cx="126.04" cy="217.12" r="1.64" fill="#95BB95"/>
<circle cx="135.8" cy="217.12" r="1.55" fill="#95BB95"/>
<circle cx="145.56" cy="217.12" r="1.81" fill="#95BB95"/>
<circle cx="155.32" cy="217.12" r="1.64" fill="#95BB95"/>
<circle cx="165.08" cy="217.12" r="1.55" fill="#95BB95"/>
<circle cx="174.84" cy="217.12" r="1.55" fill="#95BB95"/>
<circle cx="184.6" cy="217.12" r="1.55" fill="#95BB95"/>
<circle cx="38.2" cy="221.24" r="0.96" fill="#95BB95"/>
<circle cx="77.24" cy="221.24" r="0.88" fill="#95BB95"/>
<circle cx="38.2" cy="225.36" r="0.79" fill="#95BB95"/>
<circle cx="77.24" cy="225.36" r="0.79" fill="#95BB95"/>
<circle cx="38.2" cy="229.48" r="1.13" fill="#95BB95"/>
<circle cx="47.96" cy="229.48" r="0.88" fill="#95BB95"/>
<circle cx="57.72" cy="229.48" r="1.04" fill="#95BB95"/>
<circle cx="67.48" cy="229.48" r="1.13" fill="#95BB95"/>
<circle cx="77.24" cy="229.48" r="1.04" fill="#95BB95"/>
<circle cx="87" cy="229.48" r="0.96" fill="#95BB95"/>
<circle cx="96.76" cy="229.48" r="0.88" fill="#95BB95"/>
<circle cx="106.52" cy="229.48" r="0.88" fill="#95BB95"/>
<circle cx="116.28" cy="229.48" r="0.88" fill="#95BB95"/>
<circle cx="126.04" cy="229.48" r="1.04" fill="#95BB95"/>
<circle cx="135.8" cy="229.48" r="0.88" fill="#95BB95"/>
<circle cx="145.56" cy="229.48" r="1.13" fill="#95BB95"/>
<circle cx="155.32" cy="229.48" r="1.55" fill="#95BB95"/>
<circle cx="165.08" cy="229.48" r="1.04" fill="#95BB95"/>
<circle cx="174.84" cy="229.48" r="0.88" fill="#95BB95"/>
<circle cx="184.6" cy="229.48" r="1.04" fill="#95BB95"/>
<circle cx="38.2" cy="233.6" r="1.64" fill="#95BB95"/>
<circle cx="57.72" cy="233.6" r="1.04" fill="#95BB95"/>
<circle cx="67.48" cy="233.6" r="1.47" fill="#95BB95"/>
<circle cx="77.24" cy="233.6" r="1.3" fill="#95BB95"/>
<circle cx="106.52" cy="233.6" r="0.88" fill="#95BB95"/>
<circle cx="116.28" cy="233.6" r="1.3" fill="#95BB95"/>
<circle cx="126.04" cy="233.6" r="0.79" fill="#95BB95"/>
<circle cx="38.2" cy="237.72" r="1.64" fill="#95BB95"/>
<circle cx="47.96" cy="237.72" r="0.79" fill="#95BB95"/>
<circle cx="57.72" cy="237.72" r="1.81" fill="#95BB95"/>
<circle cx="67.48" cy="237.72" r="1.3" fill="#95BB95"/>
<circle cx="77.24" cy="237.72" r="1.3" fill="#95BB95"/>
<circle cx="126.04" cy="237.72" r="1.55" fill="#95BB95"/>
<circle cx="145.56" cy="237.72" r="0.71" fill="#95BB95"/>
<circle cx="38.2" cy="241.84" r="1.22" fill="#95BB95"/>
<circle cx="57.72" cy="241.84" r="1.55" fill="#95BB95"/>
<circle cx="67.48" cy="241.84" r="1.3" fill="#95BB95"/>
<circle cx="77.24" cy="241.84" r="1.13" fill="#95BB95"/>
<circle cx="87" cy="241.84" r="1.22" fill="#95BB95"/>
<circle cx="96.76" cy="241.84" r="1.22" fill="#95BB95"/>
<circle cx="106.52" cy="241.84" r="1.22" fill="#95BB95"/>
<circle cx="116.28" cy="241.84" r="0.88" fill="#95BB95"/>
<circle cx="126.04" cy="241.84" r="1.72" fill="#95BB95"/>
<circle cx="135.8" cy="241.84" r="1.72" fill="#95BB95"/>
<circle cx="145.56" cy="241.84" r="1.22" fill="#95BB95"/>
<circle cx="155.32" cy="241.84" r="0.79" fill="#95BB95"/>
<circle cx="38.2" cy="245.96" r="1.22" fill="#95BB95"/>
<circle cx="47.96" cy="245.96" r="1.04" fill="#95BB95"/>
<circle cx="57.72" cy="245.96" r="1.3" fill="#95BB95"/>
<circle cx="67.48" cy="245.96" r="0.79" fill="#95BB95"/>
<circle cx="77.24" cy="245.96" r="1.22" fill="#95BB95"/>
<circle cx="87" cy="245.96" r="1.22" fill="#95BB95"/>
<circle cx="96.76" cy="245.96" r="1.22" fill="#95BB95"/>
<circle cx="106.52" cy="245.96" r="1.13" fill="#95BB95"/>
<circle cx="126.04" cy="245.96" r="1.98" fill="#79C679"/>
<circle cx="145.56" cy="245.96" r="1.55" fill="#95BB95"/>
<circle cx="165.08" cy="245.96" r="0.96" fill="#95BB95"/>
<circle cx="184.6" cy="245.96" r="0.71" fill="#95BB95"/>
<circle cx="38.2" cy="250.08" r="1.81" fill="#95BB95"/>
<circle cx="47.96" cy="250.08" r="1.04" fill="#95BB95"/>
<circle cx="57.72" cy="250.08" r="1.39" fill="#95BB95"/>
<circle cx="67.48" cy="250.08" r="1.39" fill="#95BB95"/>
<circle cx="77.24" cy="250.08" r="1.55" fill="#95BB95"/>
<circle cx="87" cy="250.08" r="1.04" fill="#95BB95"/>
<circle cx="96.76" cy="250.08" r="0.96" fill="#95BB95"/>
<circle cx="106.52" cy="250.08" r="1.13" fill="#95BB95"/>
<circle cx="116.28" cy="250.08" r="2.06" fill="#48DA48"/>
<circle cx="126.04" cy="250.08" r="1.04" fill="#95BB95"/>
<circle cx="135.8" cy="250.08" r="0.96" fill="#95BB95"/>
<circle cx="145.56" cy="250.08" r="1.22" fill="#95BB95"/>
<circle cx="155.32" cy="250.08" r="1.55" fill="#95BB95"/>
<circle cx="165.08" cy="250.08" r="0.88" fill="#95BB95"/>
<circle cx="174.84" cy="250.08" r="0.96" fill="#95BB95"/>
<circle cx="184.6" cy="250.08" r="1.22" fill="#95BB95"/>
<circle cx="38.2" cy="254.2" r="1.55" fill="#95BB95"/>
<circle cx="47.96" cy="254.2" r="0.79" fill="#95BB95"/>
<circle cx="57.72" cy="254.2" r="1.64" fill="#95BB95"/>
<circle cx="67.48" cy="254.2" r="1.3" fill="#95BB95"/>
<circle cx="77.24" cy="254.2" r="1.22" fill="#95BB95"/>
<circle cx="87" cy="254.2" r="0.71" fill="#95BB95"/>
<circle cx="96.76" cy="254.2" r="1.3" fill="#95BB95"/>
<circle cx="106.52" cy="254.2" r="0.88" fill="#95BB95"/>
<circle cx="116.28" cy="254.2" r="1.81" fill="#4FD74F"/>
<circle cx="126.04" cy="254.2" r="1.04" fill="#95BB95"/>
<circle cx="145.56" cy="254.2" r="1.47" fill="#95BB95"/>
<circle cx="155.32" cy="254.2" r="1.22" fill="#95BB95"/>
<circle cx="174.84" cy="254.2" r="0.79" fill="#95BB95"/>
<circle cx="184.6" cy="254.2" r="0.79" fill="#95BB95"/>
<circle cx="38.2" cy="258.32" r="1.55" fill="#95BB95"/>
<circle cx="47.96" cy="258.32" r="0.96" fill="#95BB95"/>
<circle cx="57.72" cy="258.32" r="1.64" fill="#95BB95"/>
<circle cx="67.48" cy="258.32" r="2.32" fill="#6BCC6B"/>
<circle cx="77.24" cy="258.32" r="1.47" fill="#95BB95"/>
<circle cx="87" cy="258.32" r="2.58" fill="#10F010"/>
<circle cx="96.76" cy="258.32" r="2.15" fill="#3ADF3A"/>
<circle cx="106.52" cy="258.32" r="1.98" fill="#4FD74F"/>
<circle cx="116.28" cy="258.32" r="1.47" fill="#95BB95"/>
<circle cx="126.04" cy="258.32" r="1.55" fill="#95BB95"/>
<circle cx="135.8" cy="258.32" r="1.81" fill="#95BB95"/>
<circle cx="145.56" cy="258.32" r="2.06" fill="#95BB95"/>
<circle cx="155.32" cy="258.32" r="1.47" fill="#95BB95"/>
<circle cx="165.08" cy="258.32" r="1.04" fill="#95BB95"/>
<circle cx="174.84" cy="258.32" r="1.04" fill="#95BB95"/>
<circle cx="184.6" cy="258.32" r="1.22" fill="#95BB95"/>
<text x="192.6" y="193.98" font-size="4.4"  >Fcgr1</text>
<text x="192.6" y="198.1" font-size="4.4"  >Cd69</text>
<text x="192.6" y="202.22" font-size="4.4"  >Cxcl10</text>
<text x="192.6" y="206.34" font-size="4.4"  >Cxcl9</text>
<text x="192.6" y="210.46" font-size="4.4"  >Cd86</text>
<text x="192.6" y="214.58" font-size="4.4"  >Il15</text>
<text x="192.6" y="218.7" font-size="4.4"  >Azin1</text>
<text x="192.6" y="222.82" font-size="4.4"  >Nos2</text>
<text x="192.6" y="226.94" font-size="4.4"  >Il6</text>
<text x="192.6" y="231.06" font-size="4.4"  >Tnfaip1</text>
<text x="192.6" y="235.18" font-size="4.4"  >Tlr2</text>
<text x="192.6" y="239.3" font-size="4.4"  >Cd40</text>
<text x="192.6" y="243.42" font-size="4.4"  >Gpr18</text>
<text x="192.6" y="247.54" font-size="4.4"  >Cd36</text>
<text x="192.6" y="251.66" font-size="4.4"  >Tlr4</text>
<text x="192.6" y="255.78" font-size="4.4"  >Cd80</text>
<text x="192.6" y="259.9" font-size="4.4"  >Ifngr1</text>
<text transform="translate(38.2 263.3) rotate(-90)" x="0" y="1.66" font-size="4.6" text-anchor="end" >cls2</text>
<text transform="translate(47.96 263.3) rotate(-90)" x="0" y="1.66" font-size="4.6" text-anchor="end" >cls14</text>
<text transform="translate(57.72 263.3) rotate(-90)" x="0" y="1.66" font-size="4.6" text-anchor="end" >cls13</text>
<text transform="translate(67.48 263.3) rotate(-90)" x="0" y="1.66" font-size="4.6" text-anchor="end" >cls7</text>
<text transform="translate(77.24 263.3) rotate(-90)" x="0" y="1.66" font-size="4.6" text-anchor="end" >cls9</text>
<text transform="translate(87 263.3) rotate(-90)" x="0" y="1.66" font-size="4.6" text-anchor="end" >cls1</text>
<text transform="translate(96.76 263.3) rotate(-90)" x="0" y="1.66" font-size="4.6" text-anchor="end" >cls8</text>
<text transform="translate(106.52 263.3) rotate(-90)" x="0" y="1.66" font-size="4.6" text-anchor="end" >cls11</text>
<text transform="translate(116.28 263.3) rotate(-90)" x="0" y="1.66" font-size="4.6" text-anchor="end" >cls5</text>
<text transform="translate(126.04 263.3) rotate(-90)" x="0" y="1.66" font-size="4.6" text-anchor="end" >cls12</text>
<text transform="translate(135.8 263.3) rotate(-90)" x="0" y="1.66" font-size="4.6" text-anchor="end" >cls4</text>
<text transform="translate(145.56 263.3) rotate(-90)" x="0" y="1.66" font-size="4.6" text-anchor="end" >cls19</text>
<text transform="translate(155.32 263.3) rotate(-90)" x="0" y="1.66" font-size="4.6" text-anchor="end" >cls6</text>
<text transform="translate(165.08 263.3) rotate(-90)" x="0" y="1.66" font-size="4.6" text-anchor="end" >cls15</text>
<text transform="translate(174.84 263.3) rotate(-90)" x="0" y="1.66" font-size="4.6" text-anchor="end" >cls0</text>
<text transform="translate(184.6 263.3) rotate(-90)" x="0" y="1.66" font-size="4.6" text-anchor="end" >cls3</text>
<text x="111.5" y="279.52" font-size="5.6" text-anchor="middle" >cluster</text>
<rect x="33.3" y="181.1" width="19.52" height="1.6" fill="#8E44AD"/>
<rect x="52.82" y="181.1" width="9.76" height="1.6" fill="#E0303A"/>
<rect x="62.58" y="181.1" width="9.76" height="1.6" fill="#F07B25"/>
<rect x="72.34" y="181.1" width="9.76" height="1.6" fill="#8E44AD"/>
<rect x="82.1" y="181.1" width="9.76" height="1.6" fill="#A0522D"/>
<rect x="91.86" y="181.1" width="9.76" height="1.6" fill="#F080C0"/>
<rect x="101.62" y="181.1" width="9.76" height="1.6" fill="#4CA64C"/>
<rect x="111.38" y="181.1" width="9.76" height="1.6" fill="#FFE000"/>
<rect x="121.14" y="181.1" width="9.76" height="1.6" fill="#E0303A"/>
<rect x="130.9" y="181.1" width="9.76" height="1.6" fill="#3A78C0"/>
<rect x="140.66" y="181.1" width="9.76" height="1.6" fill="#F080C0"/>
<rect x="150.42" y="181.1" width="39.04" height="1.6" fill="#8E44AD"/>
<polyline points="38.1,161.8 38.1,160.9 68.1,160.9 68.1,165.8" fill="none" stroke="#555" stroke-width="0.65"/>
<polyline points="48.1,166.8 48.1,165.8 88.5,165.8 88.5,167.7" fill="none" stroke="#555" stroke-width="0.65"/>
<polyline points="65.2,165.8 65.2,168.8" fill="none" stroke="#555" stroke-width="0.65"/>
<polyline points="57.6,170 57.6,168.8 72,168.8 72,171.4" fill="none" stroke="#555" stroke-width="0.65"/>
<polyline points="67.5,172.5 67.5,171.4 77.3,171.4 77.3,172.5" fill="none" stroke="#555" stroke-width="0.65"/>
<polyline points="88.5,167.7 111.5,167.7" fill="none" stroke="#555" stroke-width="0.7"/>
<polyline points="94.4,167.7 94.4,172.1" fill="none" stroke="#555" stroke-width="0.65"/>
<polyline points="86.8,173.2 86.8,172.1 101.6,172.1" fill="none" stroke="#555" stroke-width="0.65"/>
<polyline points="97,172.1 97,173.4" fill="none" stroke="#555" stroke-width="0.65"/>
<polyline points="96.4,174.4 96.4,173.4 106.5,173.4 106.5,174.4" fill="none" stroke="#555" stroke-width="0.65"/>
<polyline points="111.5,167.7 111.5,168.1 120,168.1" fill="none" stroke="#555" stroke-width="0.65"/>
<polyline points="116.2,170.5 116.2,168.8 140.5,168.8 140.5,171.4" fill="none" stroke="#555" stroke-width="0.65"/>
<polyline points="126,172.5 126,171.4 155.6,171.4 155.6,174.5" fill="none" stroke="#555" stroke-width="0.65"/>
<polyline points="135.5,174.5 135.5,173.4 145.1,173.4 145.1,174.5" fill="none" stroke="#555" stroke-width="0.65"/>
<polyline points="140.5,171.4 140.5,173.4" fill="none" stroke="#555" stroke-width="0.65"/>
<polyline points="155.6,172.5 170,172.5" fill="none" stroke="#555" stroke-width="0.65"/>
<polyline points="159.5,174.5 159.5,173.4 184.5,173.4 184.5,174.5" fill="none" stroke="#555" stroke-width="0.65"/>
<polyline points="164.8,173.4 164.8,174.5" fill="none" stroke="#555" stroke-width="0.65"/>
<polyline points="174.6,173.4 174.6,174.5" fill="none" stroke="#555" stroke-width="0.65"/>
<polyline points="170,172.5 170,173.4" fill="none" stroke="#555" stroke-width="0.65"/>
<polyline points="0.5,231 0.5,254" fill="none" stroke="#555" stroke-width="0.65"/>
<polyline points="0.5,231 6.5,231" fill="none" stroke="#555" stroke-width="0.65"/>
<polyline points="6.5,224.5 6.5,237.5" fill="none" stroke="#555" stroke-width="0.65"/>
<polyline points="6.5,237.5 9,237.5" fill="none" stroke="#555" stroke-width="0.65"/>
<polyline points="6.5,224.5 15.5,224.5" fill="none" stroke="#555" stroke-width="0.65"/>
<polyline points="15.5,210 15.5,229.4" fill="none" stroke="#555" stroke-width="0.65"/>
<polyline points="15.5,229.4 19.5,229.4 19.5,225.4 22,225.4" fill="none" stroke="#555" stroke-width="0.65"/>
<polyline points="19.5,229.4 19.5,233.6 22,233.6" fill="none" stroke="#555" stroke-width="0.65"/>
<polyline points="15.5,210 17.5,210 17.5,205.5 19.5,205.5" fill="none" stroke="#555" stroke-width="0.65"/>
<polyline points="17.5,210 17.5,215 20.5,215 20.5,212.3 23,212.3" fill="none" stroke="#555" stroke-width="0.65"/>
<polyline points="20.5,215 20.5,217.4 23,217.4" fill="none" stroke="#555" stroke-width="0.65"/>
<polyline points="19.5,205.5 19.5,200 21,200 21,196 23,196 23,192.5 26,192.5" fill="none" stroke="#555" stroke-width="0.65"/>
<polyline points="23,196 23,196.6 26,196.6" fill="none" stroke="#555" stroke-width="0.65"/>
<polyline points="21,200 21,202.9 24,202.9 24,200.8 26,200.8" fill="none" stroke="#555" stroke-width="0.65"/>
<polyline points="24,202.9 24,205 26,205" fill="none" stroke="#555" stroke-width="0.65"/>
<polyline points="19.5,205.5 19.5,209.1 22,209.1" fill="none" stroke="#555" stroke-width="0.65"/>
<polyline points="0.5,254 5.5,254" fill="none" stroke="#555" stroke-width="0.65"/>
<polyline points="5.5,250 5.5,258.3 7.5,258.3" fill="none" stroke="#555" stroke-width="0.65"/>
<polyline points="5.5,250 10.5,250" fill="none" stroke="#555" stroke-width="0.65"/>
<polyline points="10.5,246 10.5,254.2 13,254.2" fill="none" stroke="#555" stroke-width="0.65"/>
<polyline points="10.5,246 18,246" fill="none" stroke="#555" stroke-width="0.65"/>
<polyline points="18,241.7 18,249.5 20,249.5 20,247.5 22,247.5" fill="none" stroke="#555" stroke-width="0.65"/>
<polyline points="18,241.7 19.5,241.7 19.5,239 21,239 21,237.5 24,237.5" fill="none" stroke="#555" stroke-width="0.65"/>
<polyline points="21,239 21,241.7 24,241.7" fill="none" stroke="#555" stroke-width="0.65"/>
<polyline points="19.5,241.7 19.5,245.9 22,245.9" fill="none" stroke="#555" stroke-width="0.65"/>
<text x="219.2" y="194.05" font-size="5.7"  >% Expressing</text>
<circle cx="222" cy="199.7" r="1.3" fill="#000"/>
<text x="227.5" y="201.5" font-size="5"  >20</text>
<circle cx="222" cy="205.3" r="1.7" fill="#000"/>
<text x="227.5" y="207.1" font-size="5"  >40</text>
<circle cx="222" cy="211.2" r="2.1" fill="#000"/>
<text x="227.5" y="213" font-size="5"  >60</text>
<circle cx="222" cy="217.2" r="2.5" fill="#000"/>
<text x="227.5" y="219" font-size="5"  >80</text>
<text x="219.2" y="230.75" font-size="5.7"  >Average expression</text>
<defs><linearGradient id="gD" x1="0" y1="0" x2="0" y2="1"><stop offset="0" stop-color="#00F000"/><stop offset="1" stop-color="#B4BCB4"/></linearGradient><linearGradient id="gR" x1="0" y1="0" x2="0" y2="1"><stop offset="0" stop-color="#FF0000"/><stop offset="0.5" stop-color="#DC6A5C"/><stop offset="1" stop-color="#BCB2B0"/></linearGradient><linearGradient id="gB" x1="0" y1="0" x2="0" y2="1"><stop offset="0" stop-color="#2A2AF4"/><stop offset="1" stop-color="#DDDDEE"/></linearGradient></defs>
<rect x="219.2" y="232.8" width="5.8" height="29.2" fill="url(#gD)"/>
<text x="227.5" y="236.8" font-size="5"  >6</text>
<text x="227.5" y="245.5" font-size="5"  >4</text>
<text x="227.5" y="255.1" font-size="5"  >2</text>
<circle cx="308.9" cy="197.6" r="1.62" fill="#FF1800"/>
<circle cx="338.38" cy="197.6" r="1.17" fill="#BEA8A4"/>
<circle cx="308.9" cy="205.87" r="1.71" fill="#FF1800"/>
<circle cx="316.27" cy="205.87" r="2.07" fill="#D58572"/>
<circle cx="323.64" cy="205.87" r="2.25" fill="#E85641"/>
<circle cx="331.01" cy="205.87" r="1.62" fill="#BEA8A4"/>
<circle cx="338.38" cy="205.87" r="1.53" fill="#BEA8A4"/>
<circle cx="345.75" cy="205.87" r="1.53" fill="#BEA8A4"/>
<circle cx="353.12" cy="205.87" r="1.62" fill="#BEA8A4"/>
<circle cx="360.49" cy="205.87" r="1.62" fill="#BEA8A4"/>
<circle cx="367.86" cy="205.87" r="1.44" fill="#BEA8A4"/>
<circle cx="375.23" cy="205.87" r="1.62" fill="#C69C92"/>
<circle cx="382.6" cy="205.87" r="1.44" fill="#BEA8A4"/>
<circle cx="389.97" cy="205.87" r="1.35" fill="#BEA8A4"/>
<circle cx="397.34" cy="205.87" r="1.53" fill="#BEA8A4"/>
<circle cx="404.71" cy="205.87" r="1.62" fill="#C3A099"/>
<circle cx="412.08" cy="205.87" r="1.53" fill="#BEA8A4"/>
<circle cx="419.45" cy="205.87" r="1.53" fill="#BEA8A4"/>
<circle cx="308.9" cy="214.14" r="1.53" fill="#BEA8A4"/>
<circle cx="316.27" cy="214.14" r="0.9" fill="#BEA8A4"/>
<circle cx="331.01" cy="214.14" r="1.35" fill="#BEA8A4"/>
<circle cx="338.38" cy="214.14" r="1.26" fill="#BEA8A4"/>
<circle cx="353.12" cy="214.14" r="1.17" fill="#BEA8A4"/>
<circle cx="360.49" cy="214.14" r="1.17" fill="#BEA8A4"/>
<circle cx="382.6" cy="214.14" r="0.81" fill="#BEA8A4"/>
<circle cx="397.34" cy="214.14" r="0.99" fill="#BEA8A4"/>
<circle cx="404.71" cy="214.14" r="0.99" fill="#BEA8A4"/>
<circle cx="412.08" cy="214.14" r="0.99" fill="#BEA8A4"/>
<circle cx="338.38" cy="222.41" r="1.62" fill="#CC9286"/>
<circle cx="404.71" cy="222.41" r="0.72" fill="#BEA8A4"/>
<circle cx="308.9" cy="230.68" r="2.07" fill="#CC9286"/>
<circle cx="316.27" cy="230.68" r="1.62" fill="#C3A099"/>
<circle cx="323.64" cy="230.68" r="1.44" fill="#BEA8A4"/>
<circle cx="331.01" cy="230.68" r="1.17" fill="#BEA8A4"/>
<circle cx="338.38" cy="230.68" r="1.89" fill="#C69C92"/>
<circle cx="345.75" cy="230.68" r="1.26" fill="#BEA8A4"/>
<circle cx="353.12" cy="230.68" r="1.71" fill="#C3A099"/>
<circle cx="360.49" cy="230.68" r="1.44" fill="#BEA8A4"/>
<circle cx="382.6" cy="230.68" r="0.72" fill="#BEA8A4"/>
<circle cx="397.34" cy="230.68" r="2.07" fill="#CF8E7F"/>
<circle cx="404.71" cy="230.68" r="1.35" fill="#BEA8A4"/>
<circle cx="419.45" cy="230.68" r="0.99" fill="#BEA8A4"/>
<circle cx="308.9" cy="238.95" r="1.98" fill="#D8806C"/>
<circle cx="316.27" cy="238.95" r="1.17" fill="#BEA8A4"/>
<circle cx="331.01" cy="238.95" r="0.9" fill="#BEA8A4"/>
<circle cx="360.49" cy="238.95" r="2.25" fill="#D8806C"/>
<circle cx="419.45" cy="238.95" r="0.99" fill="#BEA8A4"/>
<circle cx="308.9" cy="247.22" r="0.9" fill="#BEA8A4"/>
<circle cx="316.27" cy="247.22" r="1.08" fill="#BEA8A4"/>
<circle cx="331.01" cy="247.22" r="2.61" fill="#DC7661"/>
<circle cx="338.38" cy="247.22" r="1.89" fill="#CC9286"/>
<circle cx="345.75" cy="247.22" r="1.26" fill="#BEA8A4"/>
<circle cx="360.49" cy="247.22" r="1.44" fill="#BEA8A4"/>
<circle cx="404.71" cy="247.22" r="1.44" fill="#BEA8A4"/>
<circle cx="412.08" cy="247.22" r="1.98" fill="#CC9286"/>
<circle cx="419.45" cy="247.22" r="0.99" fill="#BEA8A4"/>
<circle cx="308.9" cy="255.49" r="2.79" fill="#DC7661"/>
<circle cx="316.27" cy="255.49" r="2.07" fill="#CF8E7F"/>
<circle cx="323.64" cy="255.49" r="1.26" fill="#BEA8A4"/>
<circle cx="331.01" cy="255.49" r="1.44" fill="#BEA8A4"/>
<circle cx="338.38" cy="255.49" r="1.44" fill="#BEA8A4"/>
<circle cx="345.75" cy="255.49" r="1.44" fill="#BEA8A4"/>
<circle cx="353.12" cy="255.49" r="1.62" fill="#BEA8A4"/>
<circle cx="360.49" cy="255.49" r="1.53" fill="#BEA8A4"/>
<circle cx="367.86" cy="255.49" r="1.53" fill="#BEA8A4"/>
<circle cx="375.23" cy="255.49" r="1.62" fill="#BEA8A4"/>
<circle cx="382.6" cy="255.49" r="1.71" fill="#BEA8A4"/>
<circle cx="389.97" cy="255.49" r="2.43" fill="#CC9286"/>
<circle cx="397.34" cy="255.49" r="1.62" fill="#BEA8A4"/>
<circle cx="404.71" cy="255.49" r="1.62" fill="#BEA8A4"/>
<circle cx="412.08" cy="255.49" r="1.53" fill="#BEA8A4"/>
<circle cx="419.45" cy="255.49" r="1.44" fill="#BEA8A4"/>
<text x="426.7" y="199.33" font-size="4.8"  >Nos2</text>
<text x="426.7" y="207.6" font-size="4.8"  >Arg1</text>
<text x="426.7" y="215.87" font-size="4.8"  >Egr2</text>
<text x="426.7" y="224.14" font-size="4.8"  >Il10</text>
<text x="426.7" y="232.41" font-size="4.8"  >Cd200r1</text>
<text x="426.7" y="240.68" font-size="4.8"  >Ccl24</text>
<text x="426.7" y="248.95" font-size="4.8"  >Irf4</text>
<text x="426.7" y="257.22" font-size="4.8"  >Vegfa</text>
<text transform="translate(308.9 263.8) rotate(-90)" x="0" y="1.66" font-size="4.6" text-anchor="end" >cls2</text>
<text transform="translate(316.27 263.8) rotate(-90)" x="0" y="1.66" font-size="4.6" text-anchor="end" >cls9</text>
<text transform="translate(323.64 263.8) rotate(-90)" x="0" y="1.66" font-size="4.6" text-anchor="end" >cls14</text>
<text transform="translate(331.01 263.8) rotate(-90)" x="0" y="1.66" font-size="4.6" text-anchor="end" >cls12</text>
<text transform="translate(338.38 263.8) rotate(-90)" x="0" y="1.66" font-size="4.6" text-anchor="end" >cls8</text>
<text transform="translate(345.75 263.8) rotate(-90)" x="0" y="1.66" font-size="4.6" text-anchor="end" >cls4</text>
<text transform="translate(353.12 263.8) rotate(-90)" x="0" y="1.66" font-size="4.6" text-anchor="end" >cls5</text>
<text transform="translate(360.49 263.8) rotate(-90)" x="0" y="1.66" font-size="4.6" text-anchor="end" >cls7</text>
<text transform="translate(367.86 263.8) rotate(-90)" x="0" y="1.66" font-size="4.6" text-anchor="end" >cls0</text>
<text transform="translate(375.23 263.8) rotate(-90)" x="0" y="1.66" font-size="4.6" text-anchor="end" >cls3</text>
<text transform="translate(382.6 263.8) rotate(-90)" x="0" y="1.66" font-size="4.6" text-anchor="end" >cls1</text>
<text transform="translate(389.97 263.8) rotate(-90)" x="0" y="1.66" font-size="4.6" text-anchor="end" >cls6</text>
<text transform="translate(397.34 263.8) rotate(-90)" x="0" y="1.66" font-size="4.6" text-anchor="end" >cls13</text>
<text transform="translate(404.71 263.8) rotate(-90)" x="0" y="1.66" font-size="4.6" text-anchor="end" >cls10</text>
<text transform="translate(412.08 263.8) rotate(-90)" x="0" y="1.66" font-size="4.6" text-anchor="end" >cls11</text>
<text transform="translate(419.45 263.8) rotate(-90)" x="0" y="1.66" font-size="4.6" text-anchor="end" >cls15</text>
<text x="364.5" y="280.52" font-size="5.6" text-anchor="middle" >cluster</text>
<rect x="305.2" y="183" width="22.11" height="1.6" fill="#8E44AD"/>
<rect x="327.31" y="183" width="7.37" height="1.6" fill="#E0303A"/>
<rect x="334.68" y="183" width="7.37" height="1.6" fill="#F080C0"/>
<rect x="342.05" y="183" width="7.37" height="1.6" fill="#3A78C0"/>
<rect x="349.42" y="183" width="7.37" height="1.6" fill="#FFE000"/>
<rect x="356.79" y="183" width="7.37" height="1.6" fill="#F07B25"/>
<rect x="364.16" y="183" width="14.74" height="1.6" fill="#8E44AD"/>
<rect x="378.9" y="183" width="7.37" height="1.6" fill="#A0522D"/>
<rect x="386.27" y="183" width="7.37" height="1.6" fill="#8E44AD"/>
<rect x="393.64" y="183" width="7.37" height="1.6" fill="#E0303A"/>
<rect x="401.01" y="183" width="7.37" height="1.6" fill="#F080C0"/>
<rect x="408.38" y="183" width="7.37" height="1.6" fill="#4CA64C"/>
<rect x="415.75" y="183" width="7.37" height="1.6" fill="#8E44AD"/>
<polyline points="309.1,163.7 309.1,162.9 330.4,162.9 330.4,169.9" fill="none" stroke="#555" stroke-width="0.65"/>
<polyline points="319.9,169.9 340.8,169.9" fill="none" stroke="#555" stroke-width="0.65"/>
<polyline points="319.9,169.9 319.9,172.8" fill="none" stroke="#555" stroke-width="0.65"/>
<polyline points="316.7,174.3 316.7,172.8 323.7,172.8 323.7,174.3" fill="none" stroke="#555" stroke-width="0.65"/>
<polyline points="340.8,169.9 340.8,172.4" fill="none" stroke="#555" stroke-width="0.65"/>
<polyline points="331.3,174 331.3,172.4 350.3,172.4" fill="none" stroke="#555" stroke-width="0.65"/>
<polyline points="338.9,173.7 391,173.7" fill="none" stroke="#555" stroke-width="0.7"/>
<polyline points="345,174.3 345,173.7" fill="none" stroke="#555" stroke-width="0.65"/>
<polyline points="350,174.5 419.5,174.5" fill="none" stroke="#555" stroke-width="0.6"/>
<polyline points="353.2,174.5 353.2,175.6" fill="none" stroke="#555" stroke-width="0.65"/>
<polyline points="368,174.5 368,175.6" fill="none" stroke="#555" stroke-width="0.65"/>
<polyline points="375.3,174.5 375.3,175.6" fill="none" stroke="#555" stroke-width="0.65"/>
<polyline points="383,174.5 383,175.6" fill="none" stroke="#555" stroke-width="0.65"/>
<polyline points="397.5,174.5 397.5,175.6" fill="none" stroke="#555" stroke-width="0.65"/>
<polyline points="404.7,174.5 404.7,175.6" fill="none" stroke="#555" stroke-width="0.65"/>
<polyline points="412.1,174.5 412.1,175.6" fill="none" stroke="#555" stroke-width="0.65"/>
<polyline points="419.5,174.5 419.5,175.6" fill="none" stroke="#555" stroke-width="0.65"/>
<polyline points="276.3,234.7 276.3,252.5" fill="none" stroke="#555" stroke-width="0.65"/>
<polyline points="276.3,252.5 283.3,252.5" fill="none" stroke="#555" stroke-width="0.65"/>
<polyline points="283.3,248.8 283.3,256.7" fill="none" stroke="#555" stroke-width="0.65"/>
<polyline points="283.3,248.8 285.5,248.8" fill="none" stroke="#555" stroke-width="0.65"/>
<polyline points="283.3,256.7 285.5,256.7" fill="none" stroke="#555" stroke-width="0.65"/>
<polyline points="276.3,234.7 286.2,234.7" fill="none" stroke="#555" stroke-width="0.65"/>
<polyline points="286.2,231 286.2,240.5 287.5,240.5" fill="none" stroke="#555" stroke-width="0.65"/>
<polyline points="286.2,231 287.5,231 287.5,223 289,223" fill="none" stroke="#555" stroke-width="0.65"/>
<polyline points="287.5,231 287.5,236 289,236" fill="none" stroke="#555" stroke-width="0.65"/>
<polyline points="289,223 289,215 290.5,215 290.5,210 292,210 292,205 293.5,205 293.5,197 295,197 295,192.5" fill="none" stroke="#555" stroke-width="0.65"/>
<polyline points="289,223 289,226 291,226" fill="none" stroke="#555" stroke-width="0.65"/>
<polyline points="290.5,215 290.5,218 292,218" fill="none" stroke="#555" stroke-width="0.65"/>
<polyline points="292,210 292,212.5 293.5,212.5" fill="none" stroke="#555" stroke-width="0.65"/>
<polyline points="293.5,205 293.5,207 295,207" fill="none" stroke="#555" stroke-width="0.65"/>
<polyline points="295,197 296.5,197" fill="none" stroke="#555" stroke-width="0.65"/>
<text x="458" y="195.05" font-size="5.7"  >Average expression</text>
<rect x="458" y="198.8" width="6.2" height="30.7" fill="url(#gR)"/>
<text x="467.7" y="205.3" font-size="5"  >4</text>
<text x="467.7" y="212.4" font-size="5"  >3</text>
<text x="467.7" y="219.1" font-size="5"  >2</text>
<text x="467.7" y="225.3" font-size="5"  >1</text>
<text x="458" y="240.45" font-size="5.7"  >% Expressing</text>
<circle cx="461.5" cy="247.2" r="1.5" fill="#000"/>
<text x="466.8" y="249" font-size="5"  >10</text>
<circle cx="461.5" cy="253.4" r="2" fill="#000"/>
<text x="466.8" y="255.2" font-size="5"  >20</text>
<circle cx="461.5" cy="259.7" r="2.4" fill="#000"/>
<text x="466.8" y="261.5" font-size="5"  >30</text>
<line x1="550.2" y1="168.8" x2="550.2" y2="262.8" stroke="#888" stroke-width="0.6"/>
<line x1="548.8" y1="262.6" x2="550.2" y2="262.6" stroke="#888" stroke-width="0.5"/>
<text transform="translate(544.6 262.6) rotate(-90)" x="0" y="1.22" font-size="3.4" fill="#444" text-anchor="middle" >0</text>
<line x1="548.8" y1="243.8" x2="550.2" y2="243.8" stroke="#888" stroke-width="0.5"/>
<text transform="translate(544.6 243.8) rotate(-90)" x="0" y="1.22" font-size="3.4" fill="#444" text-anchor="middle" >5</text>
<line x1="548.8" y1="225" x2="550.2" y2="225" stroke="#888" stroke-width="0.5"/>
<text transform="translate(544.6 225) rotate(-90)" x="0" y="1.22" font-size="3.4" fill="#444" text-anchor="middle" >10</text>
<line x1="548.8" y1="206.2" x2="550.2" y2="206.2" stroke="#888" stroke-width="0.5"/>
<text transform="translate(544.6 206.2) rotate(-90)" x="0" y="1.22" font-size="3.4" fill="#444" text-anchor="middle" >15</text>
<line x1="548.8" y1="187.4" x2="550.2" y2="187.4" stroke="#888" stroke-width="0.5"/>
<text transform="translate(544.6 187.4) rotate(-90)" x="0" y="1.22" font-size="3.4" fill="#444" text-anchor="middle" >20</text>
<line x1="548.8" y1="168.6" x2="550.2" y2="168.6" stroke="#888" stroke-width="0.5"/>
<text transform="translate(536.3 210) rotate(-90)" x="0" y="1.3" font-size="3.6" fill="#444" text-anchor="middle" >-log(p)</text>
<line x1="554.2" y1="267.3" x2="650.6" y2="267.3" stroke="#888" stroke-width="0.6"/>
<line x1="554.2" y1="265.8" x2="554.2" y2="267.3" stroke="#888" stroke-width="0.5"/>
<text x="554.2" y="274.66" font-size="3.5" fill="#444" text-anchor="middle" >0.0</text>
<line x1="586.3" y1="265.8" x2="586.3" y2="267.3" stroke="#888" stroke-width="0.5"/>
<text x="586.3" y="274.66" font-size="3.5" fill="#444" text-anchor="middle" >0.5</text>
<line x1="618.4" y1="265.8" x2="618.4" y2="267.3" stroke="#888" stroke-width="0.5"/>
<text x="618.4" y="274.66" font-size="3.5" fill="#444" text-anchor="middle" >1.0</text>
<line x1="650.5" y1="265.8" x2="650.5" y2="267.3" stroke="#888" stroke-width="0.5"/>
<text x="650.5" y="274.66" font-size="3.5" fill="#444" text-anchor="middle" >1.5</text>
<text x="605.1" y="282.97" font-size="3.8" fill="#333" text-anchor="middle" >Pathway Impact</text>
<circle cx="569.29" cy="240.49" r="1.01" fill="#E80000" stroke="#1a1a1a" stroke-width="0.35"/>
<circle cx="576.11" cy="241.01" r="1.4" fill="#E80000" stroke="#1a1a1a" stroke-width="0.35"/>
<circle cx="579.35" cy="241.62" r="1.26" fill="#E80000" stroke="#1a1a1a" stroke-width="0.35"/>
<circle cx="562.96" cy="242.38" r="1.18" fill="#E80000" stroke="#1a1a1a" stroke-width="0.35"/>
<circle cx="561.98" cy="242.8" r="1.3" fill="#E80000" stroke="#1a1a1a" stroke-width="0.35"/>
<circle cx="576.97" cy="242.97" r="1.17" fill="#E80000" stroke="#1a1a1a" stroke-width="0.35"/>
<circle cx="577.64" cy="242.99" r="1.19" fill="#E80000" stroke="#1a1a1a" stroke-width="0.35"/>
<circle cx="577.41" cy="243.05" r="1.07" fill="#E80000" stroke="#1a1a1a" stroke-width="0.35"/>
<circle cx="576.45" cy="243.1" r="1.29" fill="#E80000" stroke="#1a1a1a" stroke-width="0.35"/>
<circle cx="562.91" cy="243.28" r="1.17" fill="#E80000" stroke="#1a1a1a" stroke-width="0.35"/>
<circle cx="560.68" cy="244.17" r="1.31" fill="#E80000" stroke="#1a1a1a" stroke-width="0.35"/>
<circle cx="575.11" cy="244.6" r="1.37" fill="#E80000" stroke="#1a1a1a" stroke-width="0.35"/>
<circle cx="561.27" cy="244.78" r="1.03" fill="#E80000" stroke="#1a1a1a" stroke-width="0.35"/>
<circle cx="564.84" cy="244.93" r="1.03" fill="#E80000" stroke="#1a1a1a" stroke-width="0.35"/>
<circle cx="581.92" cy="245.08" r="1.35" fill="#E80000" stroke="#1a1a1a" stroke-width="0.35"/>
<circle cx="573.99" cy="245.33" r="1.05" fill="#E80000" stroke="#1a1a1a" stroke-width="0.35"/>
<circle cx="581.47" cy="245.41" r="1.36" fill="#E80000" stroke="#1a1a1a" stroke-width="0.35"/>
<circle cx="562.8" cy="245.91" r="1.28" fill="#E80000" stroke="#1a1a1a" stroke-width="0.35"/>
<circle cx="583.81" cy="245.97" r="1.03" fill="#E80000" stroke="#1a1a1a" stroke-width="0.35"/>
<circle cx="557.74" cy="246.24" r="1.36" fill="#E80000" stroke="#1a1a1a" stroke-width="0.35"/>
<circle cx="559.35" cy="246.38" r="1.23" fill="#E80000" stroke="#1a1a1a" stroke-width="0.35"/>
<circle cx="574.65" cy="246.43" r="1.18" fill="#E80000" stroke="#1a1a1a" stroke-width="0.35"/>
<circle cx="560.59" cy="246.89" r="1.34" fill="#E80000" stroke="#1a1a1a" stroke-width="0.35"/>
<circle cx="580.59" cy="247.01" r="1.34" fill="#E80000" stroke="#1a1a1a" stroke-width="0.35"/>
<circle cx="584.36" cy="247.34" r="1.32" fill="#E80000" stroke="#1a1a1a" stroke-width="0.35"/>
<circle cx="557.19" cy="247.42" r="1.09" fill="#E80000" stroke="#1a1a1a" stroke-width="0.35"/>
<circle cx="574.73" cy="247.43" r="1.04" fill="#E80000" stroke="#1a1a1a" stroke-width="0.35"/>
<circle cx="569.7" cy="247.81" r="1.34" fill="#E80000" stroke="#1a1a1a" stroke-width="0.35"/>
<circle cx="562.69" cy="247.91" r="1.02" fill="#E80000" stroke="#1a1a1a" stroke-width="0.35"/>
<circle cx="575.65" cy="247.93" r="1.25" fill="#E80000" stroke="#1a1a1a" stroke-width="0.35"/>
<circle cx="573.13" cy="247.95" r="1.08" fill="#E80000" stroke="#1a1a1a" stroke-width="0.35"/>
<circle cx="557.68" cy="248.07" r="1.25" fill="#E80000" stroke="#1a1a1a" stroke-width="0.35"/>
<circle cx="557.89" cy="248.1" r="1.01" fill="#E80000" stroke="#1a1a1a" stroke-width="0.35"/>
<circle cx="576.85" cy="248.15" r="1.11" fill="#E80000" stroke="#1a1a1a" stroke-width="0.35"/>
<circle cx="574.65" cy="248.62" r="1.09" fill="#E80000" stroke="#1a1a1a" stroke-width="0.35"/>
<circle cx="575.9" cy="248.64" r="1.29" fill="#E80000" stroke="#1a1a1a" stroke-width="0.35"/>
<circle cx="575.53" cy="248.88" r="1.13" fill="#E80000" stroke="#1a1a1a" stroke-width="0.35"/>
<circle cx="578.14" cy="248.95" r="1.25" fill="#E80000" stroke="#1a1a1a" stroke-width="0.35"/>
<circle cx="569.76" cy="249.16" r="1.23" fill="#F02A00" stroke="#1a1a1a" stroke-width="0.35"/>
<circle cx="559.65" cy="249.24" r="1.25" fill="#F12B00" stroke="#1a1a1a" stroke-width="0.35"/>
<circle cx="555.71" cy="249.92" r="1.29" fill="#F23300" stroke="#1a1a1a" stroke-width="0.35"/>
<circle cx="561.22" cy="250.19" r="1.34" fill="#F33600" stroke="#1a1a1a" stroke-width="0.35"/>
<circle cx="569.29" cy="250.2" r="1.37" fill="#F33600" stroke="#1a1a1a" stroke-width="0.35"/>
<circle cx="578.51" cy="250.41" r="1.12" fill="#F43900" stroke="#1a1a1a" stroke-width="0.35"/>
<circle cx="584.09" cy="250.46" r="1.25" fill="#F43900" stroke="#1a1a1a" stroke-width="0.35"/>
<circle cx="566.76" cy="250.65" r="1.24" fill="#F43C00" stroke="#1a1a1a" stroke-width="0.35"/>
<circle cx="556.24" cy="250.65" r="1.1" fill="#F43C00" stroke="#1a1a1a" stroke-width="0.35"/>
<circle cx="577.88" cy="250.69" r="1.06" fill="#F43C00" stroke="#1a1a1a" stroke-width="0.35"/>
<circle cx="582.65" cy="250.93" r="1.12" fill="#F53F00" stroke="#1a1a1a" stroke-width="0.35"/>
<circle cx="571.74" cy="251.29" r="1.3" fill="#F64300" stroke="#1a1a1a" stroke-width="0.35"/>
<circle cx="576.54" cy="251.31" r="1.06" fill="#F64400" stroke="#1a1a1a" stroke-width="0.35"/>
<circle cx="555.63" cy="251.59" r="1.31" fill="#F64700" stroke="#1a1a1a" stroke-width="0.35"/>
<circle cx="555.89" cy="251.79" r="1.4" fill="#F74900" stroke="#1a1a1a" stroke-width="0.35"/>
<circle cx="571.69" cy="251.81" r="1.2" fill="#F74A00" stroke="#1a1a1a" stroke-width="0.35"/>
<circle cx="582.46" cy="251.83" r="1.29" fill="#F74A00" stroke="#1a1a1a" stroke-width="0.35"/>
<circle cx="565.67" cy="252.7" r="1.36" fill="#F95400" stroke="#1a1a1a" stroke-width="0.35"/>
<circle cx="582.15" cy="252.87" r="1.02" fill="#FA5600" stroke="#1a1a1a" stroke-width="0.35"/>
<circle cx="561.58" cy="253.09" r="1.1" fill="#FA5900" stroke="#1a1a1a" stroke-width="0.35"/>
<circle cx="583.25" cy="253.16" r="1.13" fill="#FA5A00" stroke="#1a1a1a" stroke-width="0.35"/>
<circle cx="570" cy="253.28" r="1.07" fill="#FB5B00" stroke="#1a1a1a" stroke-width="0.35"/>
<circle cx="559.32" cy="253.41" r="1.03" fill="#FB5D00" stroke="#1a1a1a" stroke-width="0.35"/>
<circle cx="566.98" cy="253.7" r="1.23" fill="#FC6000" stroke="#1a1a1a" stroke-width="0.35"/>
<circle cx="567.17" cy="254.84" r="1.36" fill="#FF6E00" stroke="#1a1a1a" stroke-width="0.35"/>
<circle cx="578.33" cy="254.87" r="1.37" fill="#FF6E00" stroke="#1a1a1a" stroke-width="0.35"/>
<circle cx="555.16" cy="254.94" r="1.07" fill="#FF6F00" stroke="#1a1a1a" stroke-width="0.35"/>
<circle cx="576.58" cy="255.15" r="1.38" fill="#FF7200" stroke="#1a1a1a" stroke-width="0.35"/>
<circle cx="570.87" cy="255.74" r="1.34" fill="#FF7C00" stroke="#1a1a1a" stroke-width="0.35"/>
<circle cx="568.86" cy="255.77" r="1.03" fill="#FF7C00" stroke="#1a1a1a" stroke-width="0.35"/>
<circle cx="573.68" cy="256.33" r="1.07" fill="#FF8500" stroke="#1a1a1a" stroke-width="0.35"/>
<circle cx="573.48" cy="256.59" r="1.32" fill="#FF8900" stroke="#1a1a1a" stroke-width="0.35"/>
<circle cx="568.91" cy="256.83" r="1.13" fill="#FF8D00" stroke="#1a1a1a" stroke-width="0.35"/>
<circle cx="560.68" cy="257" r="1.39" fill="#FF9000" stroke="#1a1a1a" stroke-width="0.35"/>
<circle cx="558.55" cy="257.17" r="1.33" fill="#FF9300" stroke="#1a1a1a" stroke-width="0.35"/>
<circle cx="560.55" cy="257.21" r="1.19" fill="#FF9300" stroke="#1a1a1a" stroke-width="0.35"/>
<circle cx="556.14" cy="257.65" r="1.29" fill="#FF9A00" stroke="#1a1a1a" stroke-width="0.35"/>
<circle cx="553.58" cy="252.72" r="0.92" fill="#C05000" stroke="#1a1a1a" stroke-width="0.5"/>
<circle cx="559.34" cy="253.15" r="0.82" fill="#C05000" stroke="#1a1a1a" stroke-width="0.5"/>
<circle cx="559.4" cy="253.47" r="1.04" fill="#C05000" stroke="#1a1a1a" stroke-width="0.5"/>
<circle cx="558.71" cy="253.48" r="0.84" fill="#C05000" stroke="#1a1a1a" stroke-width="0.5"/>
<circle cx="557.13" cy="253.92" r="0.94" fill="#C05000" stroke="#1a1a1a" stroke-width="0.5"/>
<circle cx="556.79" cy="254.02" r="1.04" fill="#C05000" stroke="#1a1a1a" stroke-width="0.5"/>
<circle cx="557.3" cy="254.23" r="0.8" fill="#C15300" stroke="#1a1a1a" stroke-width="0.5"/>
<circle cx="554.2" cy="255.27" r="0.83" fill="#C66200" stroke="#1a1a1a" stroke-width="0.5"/>
<circle cx="559.33" cy="255.68" r="0.79" fill="#C76800" stroke="#1a1a1a" stroke-width="0.5"/>
<circle cx="554.73" cy="256.13" r="0.91" fill="#C96E00" stroke="#1a1a1a" stroke-width="0.5"/>
<circle cx="559.47" cy="256.31" r="1" fill="#CA7100" stroke="#1a1a1a" stroke-width="0.5"/>
<circle cx="564.19" cy="256.37" r="0.97" fill="#CB7200" stroke="#1a1a1a" stroke-width="0.5"/>
<circle cx="556.1" cy="256.4" r="0.94" fill="#CB7200" stroke="#1a1a1a" stroke-width="0.5"/>
<circle cx="562.72" cy="256.6" r="1.02" fill="#CC7500" stroke="#1a1a1a" stroke-width="0.5"/>
<circle cx="556.74" cy="256.68" r="1.03" fill="#CC7600" stroke="#1a1a1a" stroke-width="0.5"/>
<circle cx="558.82" cy="256.69" r="1.03" fill="#CC7600" stroke="#1a1a1a" stroke-width="0.5"/>
<circle cx="561.26" cy="256.82" r="0.76" fill="#CD7800" stroke="#1a1a1a" stroke-width="0.5"/>
<circle cx="560.05" cy="256.86" r="0.86" fill="#CD7900" stroke="#1a1a1a" stroke-width="0.5"/>
<circle cx="554.92" cy="257.08" r="0.84" fill="#CE7C00" stroke="#1a1a1a" stroke-width="0.5"/>
<circle cx="561.43" cy="257.1" r="0.81" fill="#CE7C00" stroke="#1a1a1a" stroke-width="0.5"/>
<circle cx="555.86" cy="257.13" r="1" fill="#CE7D00" stroke="#1a1a1a" stroke-width="0.5"/>
<circle cx="564.37" cy="257.24" r="0.77" fill="#CE7E00" stroke="#1a1a1a" stroke-width="0.5"/>
<circle cx="566.94" cy="257.27" r="1.02" fill="#CF7F00" stroke="#1a1a1a" stroke-width="0.5"/>
<circle cx="557.17" cy="257.41" r="0.94" fill="#CF8000" stroke="#1a1a1a" stroke-width="0.5"/>
<circle cx="557.24" cy="257.45" r="0.97" fill="#CF8100" stroke="#1a1a1a" stroke-width="0.5"/>
<circle cx="562.39" cy="257.58" r="0.94" fill="#D08300" stroke="#1a1a1a" stroke-width="0.5"/>
<circle cx="563.57" cy="257.63" r="0.88" fill="#D08400" stroke="#1a1a1a" stroke-width="0.5"/>
<circle cx="559.93" cy="257.69" r="1.05" fill="#D08500" stroke="#1a1a1a" stroke-width="0.5"/>
<circle cx="558.12" cy="257.7" r="0.84" fill="#D08500" stroke="#1a1a1a" stroke-width="0.5"/>
<circle cx="561.06" cy="257.74" r="0.92" fill="#D18500" stroke="#1a1a1a" stroke-width="0.5"/>
<circle cx="560.79" cy="257.75" r="0.98" fill="#D18500" stroke="#1a1a1a" stroke-width="0.5"/>
<circle cx="562.98" cy="257.77" r="0.92" fill="#D18600" stroke="#1a1a1a" stroke-width="0.5"/>
<circle cx="554.13" cy="257.93" r="0.97" fill="#D18800" stroke="#1a1a1a" stroke-width="0.5"/>
<circle cx="553.77" cy="257.94" r="0.77" fill="#D28800" stroke="#1a1a1a" stroke-width="0.5"/>
<circle cx="556.88" cy="258.03" r="0.9" fill="#D28900" stroke="#1a1a1a" stroke-width="0.5"/>
<circle cx="561.83" cy="258.04" r="0.79" fill="#D28900" stroke="#1a1a1a" stroke-width="0.5"/>
<circle cx="558.16" cy="258.14" r="0.97" fill="#D28B00" stroke="#1a1a1a" stroke-width="0.5"/>
<circle cx="566.14" cy="258.14" r="0.88" fill="#D28B00" stroke="#1a1a1a" stroke-width="0.5"/>
<circle cx="557.04" cy="258.18" r="0.83" fill="#D38C00" stroke="#1a1a1a" stroke-width="0.5"/>
<circle cx="556.12" cy="258.28" r="1.02" fill="#D38D00" stroke="#1a1a1a" stroke-width="0.5"/>
<circle cx="572.02" cy="258.32" r="1.03" fill="#D38D00" stroke="#1a1a1a" stroke-width="0.5"/>
<circle cx="556.21" cy="258.36" r="1.03" fill="#D38E00" stroke="#1a1a1a" stroke-width="0.5"/>
<circle cx="555.62" cy="258.39" r="0.78" fill="#D38E00" stroke="#1a1a1a" stroke-width="0.5"/>
<circle cx="562.61" cy="258.57" r="0.98" fill="#D49100" stroke="#1a1a1a" stroke-width="0.5"/>
<circle cx="556.17" cy="258.71" r="0.94" fill="#D59300" stroke="#1a1a1a" stroke-width="0.5"/>
<circle cx="558.68" cy="258.83" r="0.81" fill="#D59500" stroke="#1a1a1a" stroke-width="0.5"/>
<circle cx="559.27" cy="258.96" r="0.98" fill="#D69700" stroke="#1a1a1a" stroke-width="0.5"/>
<circle cx="556.47" cy="258.97" r="0.95" fill="#D69700" stroke="#1a1a1a" stroke-width="0.5"/>
<circle cx="555.67" cy="259.02" r="0.98" fill="#D69700" stroke="#1a1a1a" stroke-width="0.5"/>
<circle cx="555.33" cy="259.06" r="0.79" fill="#D69800" stroke="#1a1a1a" stroke-width="0.5"/>
<circle cx="560.76" cy="259.06" r="0.9" fill="#D69800" stroke="#1a1a1a" stroke-width="0.5"/>
<circle cx="558.34" cy="259.07" r="0.99" fill="#D79800" stroke="#1a1a1a" stroke-width="0.5"/>
<circle cx="553.97" cy="259.2" r="0.78" fill="#D79A00" stroke="#1a1a1a" stroke-width="0.5"/>
<circle cx="557.6" cy="259.3" r="0.87" fill="#D89B00" stroke="#1a1a1a" stroke-width="0.5"/>
<circle cx="564.23" cy="259.34" r="0.8" fill="#D89C00" stroke="#1a1a1a" stroke-width="0.5"/>
<circle cx="564.34" cy="259.42" r="0.84" fill="#D89D00" stroke="#1a1a1a" stroke-width="0.5"/>
<circle cx="555.11" cy="259.47" r="0.96" fill="#D89E00" stroke="#1a1a1a" stroke-width="0.5"/>
<circle cx="575.68" cy="259.49" r="1.04" fill="#D89E00" stroke="#1a1a1a" stroke-width="0.5"/>
<circle cx="559.5" cy="259.5" r="0.85" fill="#D89E00" stroke="#1a1a1a" stroke-width="0.5"/>
<circle cx="553.59" cy="259.58" r="0.82" fill="#D99F00" stroke="#1a1a1a" stroke-width="0.5"/>
<circle cx="567.9" cy="259.6" r="0.8" fill="#D9A000" stroke="#1a1a1a" stroke-width="0.5"/>
<circle cx="560.76" cy="259.61" r="0.9" fill="#D9A000" stroke="#1a1a1a" stroke-width="0.5"/>
<circle cx="560.33" cy="259.64" r="0.8" fill="#D9A000" stroke="#1a1a1a" stroke-width="0.5"/>
<circle cx="561.6" cy="259.65" r="0.78" fill="#D9A000" stroke="#1a1a1a" stroke-width="0.5"/>
<circle cx="561.28" cy="259.7" r="0.98" fill="#D9A100" stroke="#1a1a1a" stroke-width="0.5"/>
<circle cx="556.78" cy="259.73" r="0.96" fill="#D9A100" stroke="#1a1a1a" stroke-width="0.5"/>
<circle cx="557.04" cy="259.74" r="0.95" fill="#DAA200" stroke="#1a1a1a" stroke-width="0.5"/>
<circle cx="560.48" cy="259.87" r="0.93" fill="#DAA300" stroke="#1a1a1a" stroke-width="0.5"/>
<circle cx="561.47" cy="259.91" r="0.75" fill="#DAA400" stroke="#1a1a1a" stroke-width="0.5"/>
<circle cx="556.44" cy="259.93" r="0.97" fill="#DAA400" stroke="#1a1a1a" stroke-width="0.5"/>
<circle cx="554.82" cy="259.96" r="0.9" fill="#DAA500" stroke="#1a1a1a" stroke-width="0.5"/>
<circle cx="557.37" cy="260.01" r="0.76" fill="#DBA500" stroke="#1a1a1a" stroke-width="0.5"/>
<circle cx="571.19" cy="260.03" r="1" fill="#DBA600" stroke="#1a1a1a" stroke-width="0.5"/>
<circle cx="561.49" cy="260.11" r="0.94" fill="#DBA700" stroke="#1a1a1a" stroke-width="0.5"/>
<circle cx="560.77" cy="260.15" r="0.87" fill="#DBA700" stroke="#1a1a1a" stroke-width="0.5"/>
<circle cx="559.39" cy="260.18" r="0.98" fill="#DBA800" stroke="#1a1a1a" stroke-width="0.5"/>
<circle cx="556.86" cy="260.2" r="1.03" fill="#DCA800" stroke="#1a1a1a" stroke-width="0.5"/>
<circle cx="556.01" cy="260.21" r="0.81" fill="#DCA800" stroke="#1a1a1a" stroke-width="0.5"/>
<circle cx="559.53" cy="260.23" r="0.86" fill="#DCA900" stroke="#1a1a1a" stroke-width="0.5"/>
<circle cx="554.34" cy="260.24" r="0.87" fill="#DCA900" stroke="#1a1a1a" stroke-width="0.5"/>
<circle cx="563.72" cy="260.39" r="0.87" fill="#DCAB00" stroke="#1a1a1a" stroke-width="0.5"/>
<circle cx="557.38" cy="260.41" r="0.86" fill="#DCAB00" stroke="#1a1a1a" stroke-width="0.5"/>
<circle cx="561.16" cy="260.44" r="0.98" fill="#DDAC00" stroke="#1a1a1a" stroke-width="0.5"/>
<circle cx="570.4" cy="260.44" r="0.9" fill="#DDAC00" stroke="#1a1a1a" stroke-width="0.5"/>
<circle cx="556.76" cy="260.58" r="0.92" fill="#DDAE00" stroke="#1a1a1a" stroke-width="0.5"/>
<circle cx="558.32" cy="260.62" r="0.97" fill="#DDAE00" stroke="#1a1a1a" stroke-width="0.5"/>
<circle cx="558.87" cy="260.73" r="0.89" fill="#DEB000" stroke="#1a1a1a" stroke-width="0.5"/>
<circle cx="560.91" cy="260.77" r="0.92" fill="#DEB000" stroke="#1a1a1a" stroke-width="0.5"/>
<circle cx="570.81" cy="260.8" r="0.82" fill="#DEB100" stroke="#1a1a1a" stroke-width="0.5"/>
<circle cx="558.06" cy="260.85" r="0.89" fill="#DEB100" stroke="#1a1a1a" stroke-width="0.5"/>
<circle cx="565.97" cy="260.87" r="0.93" fill="#DFB200" stroke="#1a1a1a" stroke-width="0.5"/>
<circle cx="557.97" cy="260.91" r="0.99" fill="#DFB200" stroke="#1a1a1a" stroke-width="0.5"/>
<circle cx="568.63" cy="260.95" r="0.97" fill="#DFB300" stroke="#1a1a1a" stroke-width="0.5"/>
<circle cx="560.4" cy="261" r="0.98" fill="#DFB400" stroke="#1a1a1a" stroke-width="0.5"/>
<circle cx="557.5" cy="261.07" r="0.95" fill="#DFB400" stroke="#1a1a1a" stroke-width="0.5"/>
<circle cx="558.43" cy="261.13" r="0.96" fill="#E0B500" stroke="#1a1a1a" stroke-width="0.5"/>
<circle cx="556.06" cy="261.15" r="0.94" fill="#E0B600" stroke="#1a1a1a" stroke-width="0.5"/>
<circle cx="567.84" cy="261.23" r="1.01" fill="#E0B700" stroke="#1a1a1a" stroke-width="0.5"/>
<circle cx="560.99" cy="261.31" r="0.93" fill="#E0B800" stroke="#1a1a1a" stroke-width="0.5"/>
<circle cx="560.02" cy="261.38" r="1.04" fill="#E1B900" stroke="#1a1a1a" stroke-width="0.5"/>
<circle cx="557.24" cy="261.42" r="0.98" fill="#E1BA00" stroke="#1a1a1a" stroke-width="0.5"/>
<circle cx="556.43" cy="261.48" r="0.99" fill="#E1BA00" stroke="#1a1a1a" stroke-width="0.5"/>
<circle cx="555.23" cy="261.49" r="1.03" fill="#E1BB00" stroke="#1a1a1a" stroke-width="0.5"/>
<circle cx="567.18" cy="261.58" r="0.99" fill="#E2BC00" stroke="#1a1a1a" stroke-width="0.5"/>
<circle cx="556.28" cy="261.59" r="0.76" fill="#E2BC00" stroke="#1a1a1a" stroke-width="0.5"/>
<circle cx="560.34" cy="261.59" r="0.86" fill="#E2BC00" stroke="#1a1a1a" stroke-width="0.5"/>
<circle cx="556.11" cy="261.61" r="0.77" fill="#E2BC00" stroke="#1a1a1a" stroke-width="0.5"/>
<circle cx="561.88" cy="261.61" r="0.81" fill="#E2BC00" stroke="#1a1a1a" stroke-width="0.5"/>
<circle cx="562.39" cy="261.61" r="0.97" fill="#E2BC00" stroke="#1a1a1a" stroke-width="0.5"/>
<circle cx="565.18" cy="261.62" r="0.83" fill="#E2BC00" stroke="#1a1a1a" stroke-width="0.5"/>
<circle cx="557.72" cy="261.67" r="0.77" fill="#E2BD00" stroke="#1a1a1a" stroke-width="0.5"/>
<circle cx="553.99" cy="261.72" r="0.81" fill="#E2BE00" stroke="#1a1a1a" stroke-width="0.5"/>
<circle cx="553.81" cy="261.78" r="0.82" fill="#E3BF00" stroke="#1a1a1a" stroke-width="0.5"/>
<circle cx="557.16" cy="261.8" r="0.98" fill="#E3BF00" stroke="#1a1a1a" stroke-width="0.5"/>
<circle cx="570.47" cy="261.92" r="0.92" fill="#E3C100" stroke="#1a1a1a" stroke-width="0.5"/>
<circle cx="569.35" cy="261.99" r="0.78" fill="#E4C200" stroke="#1a1a1a" stroke-width="0.5"/>
<circle cx="557.39" cy="262.02" r="0.9" fill="#E4C200" stroke="#1a1a1a" stroke-width="0.5"/>
<circle cx="555.94" cy="262.05" r="0.78" fill="#E4C200" stroke="#1a1a1a" stroke-width="0.5"/>
<circle cx="556.8" cy="262.09" r="0.88" fill="#E4C300" stroke="#1a1a1a" stroke-width="0.5"/>
<circle cx="555.73" cy="262.11" r="0.83" fill="#E4C300" stroke="#1a1a1a" stroke-width="0.5"/>
<circle cx="563.45" cy="262.11" r="0.77" fill="#E4C300" stroke="#1a1a1a" stroke-width="0.5"/>
<circle cx="559.58" cy="262.22" r="0.94" fill="#E5C500" stroke="#1a1a1a" stroke-width="0.5"/>
<circle cx="558.43" cy="262.28" r="0.81" fill="#E5C600" stroke="#1a1a1a" stroke-width="0.5"/>
<circle cx="562.76" cy="262.3" r="0.99" fill="#E5C600" stroke="#1a1a1a" stroke-width="0.5"/>
<circle cx="563.39" cy="262.38" r="0.81" fill="#E5C700" stroke="#1a1a1a" stroke-width="0.5"/>
<circle cx="567.09" cy="262.4" r="0.79" fill="#E5C800" stroke="#1a1a1a" stroke-width="0.5"/>
<circle cx="555.06" cy="262.41" r="0.99" fill="#E5C800" stroke="#1a1a1a" stroke-width="0.5"/>
<circle cx="562.82" cy="262.5" r="0.96" fill="#E6C900" stroke="#1a1a1a" stroke-width="0.5"/>
<circle cx="553.9" cy="230.8" r="0.6" fill="#E80000" stroke="#1a1a1a" stroke-width="0.35"/>
<circle cx="556.3" cy="232.9" r="0.8" fill="#E80000" stroke="#1a1a1a" stroke-width="0.35"/>
<circle cx="553.9" cy="235.9" r="0.6" fill="#E80000" stroke="#1a1a1a" stroke-width="0.35"/>
<circle cx="554.9" cy="238.7" r="0.7" fill="#E80000" stroke="#1a1a1a" stroke-width="0.35"/>
<circle cx="568" cy="231.3" r="1.2" fill="#E80000" stroke="#1a1a1a" stroke-width="0.35"/>
<circle cx="583.6" cy="233.4" r="1.4" fill="#E80000" stroke="#1a1a1a" stroke-width="0.35"/>
<circle cx="584.8" cy="233.9" r="1.4" fill="#E80000" stroke="#1a1a1a" stroke-width="0.35"/>
<circle cx="588.3" cy="237.5" r="1.3" fill="#E80000" stroke="#1a1a1a" stroke-width="0.35"/>
<circle cx="582.8" cy="240.6" r="1.3" fill="#E80000" stroke="#1a1a1a" stroke-width="0.35"/>
<circle cx="561.8" cy="241.8" r="1" fill="#E80000" stroke="#1a1a1a" stroke-width="0.35"/>
<circle cx="569.1" cy="242.6" r="1" fill="#E80000" stroke="#1a1a1a" stroke-width="0.35"/>
<circle cx="573.7" cy="241.8" r="1.1" fill="#E80000" stroke="#1a1a1a" stroke-width="0.35"/>
<circle cx="576.5" cy="242.6" r="1.1" fill="#E80000" stroke="#1a1a1a" stroke-width="0.35"/>
<circle cx="599.6" cy="229.9" r="1.6" fill="#E80000" stroke="#1a1a1a" stroke-width="0.35"/>
<circle cx="602.2" cy="241.2" r="1.4" fill="#E80000" stroke="#1a1a1a" stroke-width="0.35"/>
<circle cx="605.1" cy="241.2" r="1.4" fill="#E80000" stroke="#1a1a1a" stroke-width="0.35"/>
<circle cx="617.8" cy="229.8" r="1.7" fill="#E80000" stroke="#1a1a1a" stroke-width="0.35"/>
<circle cx="586.2" cy="251.4" r="1.2" fill="#F64500" stroke="#1a1a1a" stroke-width="0.35"/>
<circle cx="588.2" cy="237.5" r="1.3" fill="#E80000" stroke="#1a1a1a" stroke-width="0.35"/>
<circle cx="577.6" cy="261.2" r="1.3" fill="#FFDF00" stroke="#1a1a1a" stroke-width="0.35"/>
<circle cx="579.6" cy="262" r="1.2" fill="#FFE900" stroke="#1a1a1a" stroke-width="0.35"/>
<circle cx="593.4" cy="261.2" r="1.4" fill="#FFDF00" stroke="#1a1a1a" stroke-width="0.35"/>
<circle cx="594.2" cy="260.4" r="1.2" fill="#FFD500" stroke="#1a1a1a" stroke-width="0.35"/>
<circle cx="601.2" cy="261" r="1.3" fill="#FFDD00" stroke="#1a1a1a" stroke-width="0.35"/>
<circle cx="555" cy="262.6" r="0.7" fill="#FFFFF0"/>
<circle cx="557.5" cy="262.6" r="0.7" fill="#FFFFF0"/>
<circle cx="560" cy="262.6" r="0.7" fill="#FFFFF0"/>
<circle cx="562.5" cy="262.6" r="0.7" fill="#FFFFF0"/>
<circle cx="565" cy="262.6" r="0.7" fill="#FFFFF0"/>
<circle cx="567.5" cy="262.6" r="0.7" fill="#FFFFF0"/>
<circle cx="613.8" cy="160.6" r="1.9" fill="#E00000" stroke="#1a1a1a" stroke-width="0.35"/>
<circle cx="656.1" cy="244.8" r="2.1" fill="#E80000" stroke="#1a1a1a" stroke-width="0.35"/>
<text x="614.2" y="165.96" font-size="3.5" fill="#222" text-anchor="middle" >NK cell mediated</text>
<text x="614.2" y="170.76" font-size="3.5" fill="#222" text-anchor="middle" >cytotoxicity</text>
<text x="596.5" y="227.06" font-size="3.5" fill="#222" text-anchor="middle" >TCR pathway</text>
<text x="632.4" y="228.56" font-size="3.5" fill="#222" text-anchor="middle" >Th1 and Th2</text>
<text x="632.6" y="233.66" font-size="3.5" fill="#222" text-anchor="middle" >differentiation</text>
<text x="608.1" y="241.36" font-size="3.5" fill="#222" >Focal adhesion</text>
<text x="602.3" y="247.06" font-size="3.5" fill="#222" text-anchor="middle" >Chemokine signaling</text>
<text x="602.2" y="251.66" font-size="3.5" fill="#222" text-anchor="middle" >pathway</text>
<text x="657.3" y="250.76" font-size="3.5" fill="#222" text-anchor="middle" >JAK-STAT signaling</text>
<text x="657.3" y="255.56" font-size="3.5" fill="#222" text-anchor="middle" >pathway</text>
<rect x="2.5" y="303.5" width="69.2" height="156.3" fill="none" stroke="#2F5A78" stroke-width="0.9"/>
<line x1="2.5" y1="392.9" x2="71.7" y2="392.9" stroke="#1F4A6A" stroke-width="1.2"/>
<text x="20.8" y="308.4" font-size="5" fill="#222" text-anchor="end" >Lap1</text>
<circle cx="35.8" cy="306.6" r="0.9" fill="#C8C0C0"/>
<circle cx="56.5" cy="306.6" r="2.69" fill="#F07458"/>
<text x="20.8" y="315.85" font-size="5" fill="#222" text-anchor="end" >Lgals2</text>
<circle cx="35.8" cy="314.05" r="0.9" fill="#C8C0C0"/>
<circle cx="56.5" cy="314.05" r="0.9" fill="#C8C0C0"/>
<text x="20.8" y="323.3" font-size="5" fill="#222" text-anchor="end" >Ido1</text>
<circle cx="35.8" cy="321.5" r="0.9" fill="#C8C0C0"/>
<circle cx="56.5" cy="321.5" r="0.9" fill="#C8C0C0"/>
<text x="20.8" y="330.75" font-size="5" fill="#222" text-anchor="end" >Vcan</text>
<circle cx="35.8" cy="328.95" r="0.9" fill="#C8C0C0"/>
<circle cx="56.5" cy="328.95" r="1.13" fill="#C8B8B8"/>
<text x="20.8" y="338.2" font-size="5" fill="#222" text-anchor="end" >G0s2</text>
<circle cx="35.8" cy="336.4" r="0.9" fill="#C8C0C0"/>
<circle cx="56.5" cy="336.4" r="0.9" fill="#C8B8B8"/>
<text x="20.8" y="345.65" font-size="5" fill="#222" text-anchor="end" >Ereg</text>
<circle cx="35.8" cy="343.85" r="0.94" fill="#C8B8B8"/>
<circle cx="56.5" cy="343.85" r="0.94" fill="#C8B8B8"/>
<text x="20.8" y="353.1" font-size="5" fill="#222" text-anchor="end" >S100a9</text>
<circle cx="35.8" cy="351.3" r="0.9" fill="#C8B8B8"/>
<circle cx="56.5" cy="351.3" r="0.94" fill="#C8B8B8"/>
<text x="20.8" y="360.55" font-size="5" fill="#222" text-anchor="end" >Lgals3</text>
<circle cx="35.8" cy="358.75" r="0.9" fill="#C8B8B8"/>
<circle cx="56.5" cy="358.75" r="2.69" fill="#D8B0A8"/>
<text x="20.8" y="368" font-size="5" fill="#222" text-anchor="end" >Tuba1b</text>
<circle cx="35.8" cy="366.2" r="0.9" fill="#C8B8B8"/>
<circle cx="56.5" cy="366.2" r="2.32" fill="#E0A090"/>
<text x="20.8" y="375.45" font-size="5" fill="#222" text-anchor="end" >Mif</text>
<circle cx="35.8" cy="373.65" r="0.9" fill="#C8B8B8"/>
<circle cx="56.5" cy="373.65" r="2.6" fill="#F07458"/>
<text x="20.8" y="382.9" font-size="5" fill="#222" text-anchor="end" >Tenip</text>
<circle cx="35.8" cy="381.1" r="0.9" fill="#C8B8B8"/>
<circle cx="56.5" cy="381.1" r="2.05" fill="#E0A494"/>
<text x="20.8" y="390.35" font-size="5" fill="#222" text-anchor="end" >Apoe</text>
<circle cx="35.8" cy="388.55" r="0.9" fill="#C8B8B8"/>
<circle cx="56.5" cy="388.55" r="2.32" fill="#E09484"/>
<text x="20.8" y="397.8" font-size="5" fill="#222" text-anchor="end" >Cd63</text>
<circle cx="35.8" cy="396" r="0.9" fill="#C8B8B8"/>
<circle cx="56.5" cy="396" r="2.32" fill="#CCBDBD"/>
<text x="20.8" y="405.25" font-size="5" fill="#222" text-anchor="end" >Ccl3</text>
<circle cx="35.8" cy="403.45" r="1.59" fill="#D4B4AC"/>
<circle cx="56.5" cy="403.45" r="1.4" fill="#D8ACA4"/>
<text x="20.8" y="412.7" font-size="5" fill="#222" text-anchor="end" >Fosb</text>
<circle cx="35.8" cy="410.9" r="1.77" fill="#D4B4AC"/>
<circle cx="56.5" cy="410.9" r="2.14" fill="#E09484"/>
<text x="20.8" y="420.15" font-size="5" fill="#222" text-anchor="end" >Neat1</text>
<circle cx="35.8" cy="418.35" r="2.51" fill="#F08464"/>
<circle cx="56.5" cy="418.35" r="2.51" fill="#F07458"/>
<text x="20.8" y="427.6" font-size="5" fill="#222" text-anchor="end" >Cd83</text>
<circle cx="35.8" cy="425.8" r="1.77" fill="#E09484"/>
<circle cx="56.5" cy="425.8" r="1.68" fill="#CCBDBD"/>
<text x="20.8" y="435.05" font-size="5" fill="#222" text-anchor="end" >Ccl4</text>
<circle cx="35.8" cy="433.25" r="1.77" fill="#E09484"/>
<circle cx="56.5" cy="433.25" r="1.22" fill="#CCBDBD"/>
<text x="20.8" y="442.5" font-size="5" fill="#222" text-anchor="end" >Tnf</text>
<circle cx="35.8" cy="440.7" r="1.68" fill="#E09484"/>
<circle cx="56.5" cy="440.7" r="1.13" fill="#CCC0C0"/>
<text x="20.8" y="449.95" font-size="5" fill="#222" text-anchor="end" >Il1b</text>
<circle cx="35.8" cy="448.15" r="2.32" fill="#FF4020"/>
<circle cx="56.5" cy="448.15" r="2.42" fill="#FF4020"/>
<text x="20.8" y="457.4" font-size="5" fill="#222" text-anchor="end" >Cd68</text>
<circle cx="35.8" cy="455.6" r="2.51" fill="#F08464"/>
<circle cx="56.5" cy="455.6" r="2.23" fill="#E09484"/>
<text transform="translate(35.8 462.3) rotate(-90)" x="0" y="1.66" font-size="4.6" text-anchor="end" >cls2</text>
<text transform="translate(56.5 462.3) rotate(-90)" x="0" y="1.66" font-size="4.6" text-anchor="end" >cls7</text>
<text x="46" y="477.55" font-size="5.7" text-anchor="middle" >cluster</text>
<text x="74.7" y="347.25" font-size="5.7"  >% Expressing</text>
<circle cx="77.9" cy="353.5" r="0.45" fill="#000"/>
<text x="83.5" y="355.3" font-size="5"  >0</text>
<circle cx="77.9" cy="359.6" r="1.3" fill="#000"/>
<text x="83.5" y="361.4" font-size="5"  >25</text>
<circle cx="77.9" cy="366.2" r="1.8" fill="#000"/>
<text x="83.5" y="368" font-size="5"  >50</text>
<circle cx="77.9" cy="372.7" r="2.3" fill="#000"/>
<text x="83.5" y="374.5" font-size="5"  >75</text>
<text x="74.7" y="385.95" font-size="5.7"  >Average expression</text>
<rect x="74.7" y="389" width="6.1" height="31.4" fill="url(#gR)"/>
<text x="84" y="391.4" font-size="5"  >4</text>
<text x="84" y="398.8" font-size="5"  >3</text>
<text x="84" y="406.8" font-size="5"  >2</text>
<text x="84" y="414.7" font-size="5"  >1</text>
<text x="84" y="422.2" font-size="5"  >0</text>
<rect x="129.3" y="294.9" width="74.4" height="51.4" fill="#fff" stroke="#888" stroke-width="0.9"/>
<g transform="matrix(0.5 0 0 0.34 118.7 295.13)">
<path d="M96 80.2L99 80.6L103 81.5L104.5 84L104 90L106.5 93L107 96L105 95L102.5 91.5L102.6 83.5L99 82L96 81.6Z" fill="#C4C4C4" stroke="#C4C4C4" stroke-width="1.1" stroke-linejoin="round" vector-effect="non-scaling-stroke"/>
<path d="M115.5 87L118 88.5L122 92L125.8 97.5L124.8 99.3L121.5 96L117.5 92L115 90Z" fill="#C4C4C4" stroke="#C4C4C4" stroke-width="1.1" stroke-linejoin="round" vector-effect="non-scaling-stroke"/>
<path d="M104.2 78a7.8 7.4 0 1 0 15.6 0a7.8 7.4 0 1 0 -15.6 0z" fill="#B8B8D6" stroke="#B8B8D6" stroke-width="1.1" stroke-linejoin="round" vector-effect="non-scaling-stroke"/>
<path d="M108.5 71L110 68.3L111.5 71Z" fill="#B8B8D6" stroke="#B8B8D6" stroke-width="1.1" stroke-linejoin="round" vector-effect="non-scaling-stroke"/>
<path d="M104.8 84.2L110 85.8L118.6 84L117.8 89L115.5 92.5L113.5 96.5L111 97.4L108 96.8L106.3 92.5L105.5 88Z" fill="#B8B8D6" stroke="#B8B8D6" stroke-width="1.1" stroke-linejoin="round" vector-effect="non-scaling-stroke"/>
<path d="M128.3 44.2a8 6.9 0 1 0 16 0a8 6.9 0 1 0 -16 0z" fill="#BCBCD2" stroke="#BCBCD2" stroke-width="1.1" stroke-linejoin="round" vector-effect="non-scaling-stroke"/>
<path d="M136.2 47.5a4.3 4.2 0 1 0 8.6 0a4.3 4.2 0 1 0 -8.6 0z" fill="#BCBCD2" stroke="#BCBCD2" stroke-width="1.1" stroke-linejoin="round" vector-effect="non-scaling-stroke"/>
<path d="M88.8 48.5L92 47.2L95.5 47.4L98 48.6L100.8 51.2L99 53.5L97.6 55L97 58.3L95.6 57.8L95 55.5L92.5 54.2L89.5 53.2L88.6 51Z" fill="#BCBCD2" stroke="#BCBCD2" stroke-width="1.1" stroke-linejoin="round" vector-effect="non-scaling-stroke"/>
<path d="M104.5 38.5L107 37.6L110.5 38L111 41L108.5 42.5L106 42Z" fill="#B4B4D8" stroke="#B4B4D8" stroke-width="1.1" stroke-linejoin="round" vector-effect="non-scaling-stroke"/>
<path d="M105 41.5L108.5 41.8L109.5 46L110.5 49L107.5 49.5L106 46.5L104.2 44Z" fill="#C4C4C4" stroke="#C4C4C4" stroke-width="1.1" stroke-linejoin="round" vector-effect="non-scaling-stroke"/>
<path d="M107.2 47.8L111.5 47.6L113.2 49.8L112.5 52.2L108.8 52.3L107 50Z" fill="#B0B0D8" stroke="#B0B0D8" stroke-width="1.1" stroke-linejoin="round" vector-effect="non-scaling-stroke"/>
<path d="M112.5 49L118 48.6L124 47.8L128.5 47.5L128.8 51.2L124 52.5L118 53.5L115.5 55L113 53Z" fill="#B8B8D4" stroke="#B8B8D4" stroke-width="1.1" stroke-linejoin="round" vector-effect="non-scaling-stroke"/>
<path d="M127.5 48.2L133 48.5L135.8 50.3L134.5 53.3L130 54L127.3 52.5Z" fill="#C4C4C4" stroke="#C4C4C4" stroke-width="1.1" stroke-linejoin="round" vector-effect="non-scaling-stroke"/>
<path d="M120.3 57.2a1.1 1.2 0 1 0 2.2 0a1.1 1.2 0 1 0 -2.2 0z" fill="#C4C4C4" stroke="#C4C4C4" stroke-width="1.1" stroke-linejoin="round" vector-effect="non-scaling-stroke"/>
<path d="M98.6 37.2L101.2 36.4L101.6 38.3L99.2 38.6Z" fill="#C4C4C4" stroke="#C4C4C4" stroke-width="1.1" stroke-linejoin="round" vector-effect="non-scaling-stroke"/>
<path d="M78.2 1.4L80.8 2.6L80.6 3.4L78 2.3Z" fill="#C4C4C4" stroke="#C4C4C4" stroke-width="1.1" stroke-linejoin="round" vector-effect="non-scaling-stroke"/>
<path d="M51.6 56.8L53.6 55.6L56.5 56.2L59 57.8L61.5 60.2L61.8 62L59.8 61.8L56.5 60.5L53 59.8L51.5 58.5Z" fill="#B8B8D6" stroke="#B8B8D6" stroke-width="1.1" stroke-linejoin="round" vector-effect="non-scaling-stroke"/>
<path d="M59.6 62.5a1.2 1 0 1 0 2.4 0a1.2 1 0 1 0 -2.4 0z" fill="#C4C4C4" stroke="#C4C4C4" stroke-width="1.1" stroke-linejoin="round" vector-effect="non-scaling-stroke"/>
<path d="M27 80.6L30.5 80.2L34 81.4L38 83.4L42 83.6L46.5 83.4L46.5 84.6L42 85.6L39.5 87.2L37 88L34.5 86.5L31 84.5L27.5 82.5Z" fill="#B4B4DA" stroke="#B4B4DA" stroke-width="1.1" stroke-linejoin="round" vector-effect="non-scaling-stroke"/>
<path d="M80.4 127L85 125.6L90 126.2L93.8 127.6L93.5 131.5L93 134.5L89 136L85 136.6L82.5 134L82 130L80.3 128.8Z" fill="#A8A8E0" stroke="#A8A8E0" stroke-width="1.1" stroke-linejoin="round" vector-effect="non-scaling-stroke"/>
<path d="M91.6 129L96 126.8L101 126.2L104.5 124.5L105.5 122.8L108.5 122.3L112.2 122.8L110.5 124.8L108.5 126.5L108.8 130.5L106 133.5L101 135.6L96.5 135.3L92.5 133.5Z" fill="#A4A4E4" stroke="#A4A4E4" stroke-width="1.1" stroke-linejoin="round" vector-effect="non-scaling-stroke"/>
<path d="M93.8 123.5L97 122L100.5 122.6L100.3 126.2L96.5 127L93.9 126.2Z" fill="#B0B0D8" stroke="#B0B0D8" stroke-width="1.1" stroke-linejoin="round" vector-effect="non-scaling-stroke"/>
<path d="M88.2 121.5L91.5 120L93 118.2L95.6 118.3L95.8 121.5L95 125.5L91.5 126.2L88.5 125Z" fill="#B0B0D8" stroke="#B0B0D8" stroke-width="1.1" stroke-linejoin="round" vector-effect="non-scaling-stroke"/>
<path d="M106 119a1.8 2.4 0 1 0 3.6 0a1.8 2.4 0 1 0 -3.6 0z" fill="#C4C4C4" stroke="#C4C4C4" stroke-width="1.1" stroke-linejoin="round" vector-effect="non-scaling-stroke"/>
<path d="M86.2 116L86.9 115.8L89.3 118.8L88.7 119.3Z" fill="#C4C4C4" stroke="#C4C4C4" stroke-width="1.1" stroke-linejoin="round" vector-effect="non-scaling-stroke"/>
<path d="M136.8 81.2L141.5 80.4L141.7 81.6L137 82.2Z" fill="#C4C4C4" stroke="#C4C4C4" stroke-width="1.1" stroke-linejoin="round" vector-effect="non-scaling-stroke"/>
<path d="M128 132.1a0.9 0.8 0 1 0 1.8 0a0.9 0.8 0 1 0 -1.8 0z" fill="#B0B0D8" stroke="#B0B0D8" stroke-width="1.1" stroke-linejoin="round" vector-effect="non-scaling-stroke"/>
</g>
<path d="M170.8 323.5h0M170.1 324.7h0M171.4 326.2h0M171 325.8h0M171.9 327.6h0M178.9 327h0M180.1 327.2h0M180 327.4h0M180.9 327.8h0M178.5 326.8h0M171.3 319.9h0M173.8 321.6h0M172.6 321.5h0M170.7 320.8h0M177.7 320.9h0M174 318.9h0M176.2 325.4h0M175.7 325.3h0M175.2 325.9h0M172.9 324.5h0M174 327.9h0M172.7 324.6h0M174.3 328.1h0M172.9 327.9h0M173.2 325.4h0M175.4 324.5h0M175.3 325.5h0M172.8 324.3h0M173.2 326.4h0M185.1 309.3h0M186 312.2h0M184.9 310.5h0M189.7 310.2h0M186.7 308.8h0M187.6 308.9h0M190.1 309.2h0M187.4 309h0M185.3 310.6h0M188.6 309.2h0M191.3 311.6h0M191.6 310.6h0M186.9 311.2h0M188.6 311.6h0M189.5 310.4h0M163.5 311.5h0M163.9 313h0M166.5 313.2h0M164.9 312.4h0M164.5 313.1h0M172 309.5h0M171.2 309.1h0M174.1 310.5h0M171.9 310.3h0M174 312.4h0M180.4 312.8h0M179.7 313.3h0M184.1 312.8h0M185.5 312.6h0M185.3 312.4h0M184.2 313.1h0M145.5 314.1h0M147.3 316.1h0M146.7 315.6h0M135.3 323.6h0M136.1 324.4h0M136.7 324h0M134.5 322.7h0M165.6 340.8h0M170.5 340.6h0M170.1 340h0M171.6 338h0M171.5 340.2h0M171.6 337.3h0M171.6 337.7h0M171.2 338.1h0M163.5 337.7h0M172.6 335.5h0M161.8 335.1h0M188.2 323h0M189.9 323.2h0" stroke="#A8A8A8" stroke-width="0.64" stroke-linecap="round"/>
<path d="M170.2 325.1h0M167.9 322.9h0M179.7 328.3h0M175 323.9h0M174.6 320h0M172.6 320.3h0M173.7 324.3h0M174.6 320h0M173.4 323.3h0M175.1 320.4h0M173.4 322.4h0M175 320.2h0M175.8 320.2h0M173.5 322.5h0M174.2 322.8h0M172.3 321.8h0M171.7 322.2h0M174.5 323.5h0M174.4 325.5h0M172.7 326.1h0M177.8 324.4h0M177.5 323.8h0M172.7 324.3h0M189.3 309.6h0M184.3 311.8h0M186.9 312.4h0M191.4 310.1h0M185.4 310.2h0M186.4 309.8h0M187 309.5h0M189.1 312.2h0M185.3 308.6h0M186.1 308.3h0M188.2 311.5h0M189.6 312h0M187.6 310.2h0M166.2 311.9h0M163.6 312.7h0M164.1 312.8h0M167.2 312.7h0M165 312.2h0M166.3 312.3h0M171.6 308.6h0M171.5 309.1h0M171.5 307.9h0M172.6 310.3h0M173.9 312.5h0M174.2 311.3h0M174.2 311.4h0M179.5 312.4h0M182.4 311.7h0M177.6 312.3h0M181.6 312.7h0M149.8 316.3h0M135.8 323h0M137.3 324.5h0M139.9 324.1h0M139 324.1h0M161.2 339.1h0M162.2 338.6h0M160.5 339.3h0M165.3 339.2h0M165.3 340.5h0M169.3 339.1h0M173.8 337.9h0M172 338.8h0M169.9 338.6h0M167.5 338.9h0M166.4 340h0M167.8 338.3h0M167.5 337.6h0M166 336.4h0M162.9 337.2h0M173.1 336.3h0M173.7 335.4h0" stroke="#B4B4B4" stroke-width="0.64" stroke-linecap="round"/>
<path d="M170 323.4h0M170.4 326.8h0M180.8 328.4h0M180.6 327.4h0M178.2 326.2h0M172.9 322h0M177.2 322.2h0M174.8 322.2h0M174.7 323.2h0M175.8 320.2h0M176.3 323.6h0M173.5 321.9h0M174.6 324.6h0M174.3 323.4h0M172.2 320.9h0M178.1 323.8h0M173.8 319.9h0M175.9 322.6h0M172.7 323h0M177.3 320.3h0M173.3 327.3h0M174.9 327.5h0M174.9 328h0M172.9 326.9h0M177 325h0M174.7 326.4h0M176.3 324.5h0M171.6 326.1h0M184.5 311.9h0M189.6 312h0M184.3 310.3h0M184.2 310h0M183.8 309.9h0M189.3 312.2h0M187.3 309.7h0M189.6 311.5h0M184.2 310.5h0M187.4 310.9h0M187.8 308.5h0M188.1 308.3h0M188.8 311.8h0M190.3 310.7h0M164 313h0M165.3 312.8h0M165.9 313.4h0M163.2 312.7h0M162.6 312.5h0M172.1 308.4h0M171.6 310h0M172.7 311.3h0M172.8 311.7h0M171.7 312.1h0M176.7 312.1h0M177.9 312.8h0M177.8 313h0M174.6 312.2h0M179.3 312h0M185.8 311.9h0M183.1 312.2h0M185.4 312.4h0M186.2 312.1h0M185.2 312.3h0M178.8 314.9h0M168.5 307.7h0M157.7 295.6h0M146.4 315.8h0M145.6 315.1h0M144.5 315.5h0M147.8 315.1h0M146.2 315h0M136.1 322.8h0M134.6 324h0M137.8 324.7h0M140.9 323.2h0M162.3 338.7h0M165.3 340h0M164.8 338.4h0M162.4 338.7h0M159.4 339.6h0M164.7 339.7h0M161.3 339.4h0M159.7 339.7h0M162.7 340.3h0M161.3 338.1h0M161.5 341.7h0M164.8 339.3h0M172.1 338.4h0M170.8 338.4h0M171.6 339.8h0M167.7 338.1h0M168.8 340.1h0M168.7 340.2h0M166.7 339.5h0M170.2 340h0M168.5 338.1h0M172.7 340h0M167 341.2h0M165.8 339.2h0M169.3 337.4h0M166.5 336.7h0M168.3 336.9h0M165.5 337.3h0M165.4 337.2h0M165.4 336.6h0M164 336.8h0M183.3 340.6h0" stroke="#FFFFFF" stroke-width="0.64" stroke-linecap="round"/>
<path d="M171.4 320.1h0M173.4 323.3h0M190.4 310.9h0M185.1 311.2h0M185.8 310.5h0M189.7 311.9h0M189.5 311.3h0M173.4 313.2h0M173.5 312h0M178.6 313.1h0M181.8 312.8h0M179.2 311.9h0M137 323.7h0M164.2 341h0M161.9 340h0M160.9 338h0M162.3 338.9h0M173 338h0M172.8 338.1h0M169.3 339.9h0M170.5 340h0M167.7 338.9h0" stroke="#5a5af0" stroke-width="0.64" stroke-linecap="round"/>
<path d="M173.7 321.3h0M178.9 322h0M175.6 323h0M173.8 327.3h0M188.8 312.1h0M187.3 311.5h0M187.7 308.5h0M187.6 311.5h0M188.3 312.3h0M163.5 313.3h0M179.5 313.4h0M181 312.3h0M177.7 311.5h0M137.9 324.6h0M136.6 323.7h0M163.8 340.8h0M160.4 339.8h0M161.5 339.9h0M164.3 338.1h0M166.5 339.4h0M167 339.3h0M172.1 338.6h0M166.3 338.6h0M164.2 338.2h0M164.8 336.9h0M166.9 336.1h0" stroke="#7c7cf0" stroke-width="0.64" stroke-linecap="round"/>
<text x="167.6" y="301.83" font-size="6.2" font-weight="bold" font-style="italic" text-anchor="middle" >Cxcl9</text>
<rect x="196.1" y="316.8" width="2.8" height="15.1" fill="url(#gB)"/>
<line x1="199.5" y1="317.8" x2="200.5" y2="317.8" stroke="#666" stroke-width="0.4"/>
<line x1="199.5" y1="321.07" x2="200.5" y2="321.07" stroke="#666" stroke-width="0.4"/>
<line x1="199.5" y1="324.35" x2="200.5" y2="324.35" stroke="#666" stroke-width="0.4"/>
<line x1="199.5" y1="327.62" x2="200.5" y2="327.62" stroke="#666" stroke-width="0.4"/>
<line x1="199.5" y1="330.9" x2="200.5" y2="330.9" stroke="#666" stroke-width="0.4"/>
<rect x="128.6" y="350.6" width="74.8" height="51.9" fill="#fff" stroke="#888" stroke-width="0.9"/>
<g transform="matrix(0.5 0 0 0.35 116.7 350.09)">
<path d="M96 80.2L99 80.6L103 81.5L104.5 84L104 90L106.5 93L107 96L105 95L102.5 91.5L102.6 83.5L99 82L96 81.6Z" fill="#C4C4C4" stroke="#C4C4C4" stroke-width="1.1" stroke-linejoin="round" vector-effect="non-scaling-stroke"/>
<path d="M115.5 87L118 88.5L122 92L125.8 97.5L124.8 99.3L121.5 96L117.5 92L115 90Z" fill="#C4C4C4" stroke="#C4C4C4" stroke-width="1.1" stroke-linejoin="round" vector-effect="non-scaling-stroke"/>
<path d="M104.2 78a7.8 7.4 0 1 0 15.6 0a7.8 7.4 0 1 0 -15.6 0z" fill="#B4B4D8" stroke="#B4B4D8" stroke-width="1.1" stroke-linejoin="round" vector-effect="non-scaling-stroke"/>
<path d="M108.5 71L110 68.3L111.5 71Z" fill="#B4B4D8" stroke="#B4B4D8" stroke-width="1.1" stroke-linejoin="round" vector-effect="non-scaling-stroke"/>
<path d="M104.8 84.2L110 85.8L118.6 84L117.8 89L115.5 92.5L113.5 96.5L111 97.4L108 96.8L106.3 92.5L105.5 88Z" fill="#B4B4D8" stroke="#B4B4D8" stroke-width="1.1" stroke-linejoin="round" vector-effect="non-scaling-stroke"/>
<path d="M128.3 44.2a8 6.9 0 1 0 16 0a8 6.9 0 1 0 -16 0z" fill="#BCBCD2" stroke="#BCBCD2" stroke-width="1.1" stroke-linejoin="round" vector-effect="non-scaling-stroke"/>
<path d="M136.2 47.5a4.3 4.2 0 1 0 8.6 0a4.3 4.2 0 1 0 -8.6 0z" fill="#BCBCD2" stroke="#BCBCD2" stroke-width="1.1" stroke-linejoin="round" vector-effect="non-scaling-stroke"/>
<path d="M88.8 48.5L92 47.2L95.5 47.4L98 48.6L100.8 51.2L99 53.5L97.6 55L97 58.3L95.6 57.8L95 55.5L92.5 54.2L89.5 53.2L88.6 51Z" fill="#C4C4C4" stroke="#C4C4C4" stroke-width="1.1" stroke-linejoin="round" vector-effect="non-scaling-stroke"/>
<path d="M104.5 38.5L107 37.6L110.5 38L111 41L108.5 42.5L106 42Z" fill="#B8B8D6" stroke="#B8B8D6" stroke-width="1.1" stroke-linejoin="round" vector-effect="non-scaling-stroke"/>
<path d="M105 41.5L108.5 41.8L109.5 46L110.5 49L107.5 49.5L106 46.5L104.2 44Z" fill="#C4C4C4" stroke="#C4C4C4" stroke-width="1.1" stroke-linejoin="round" vector-effect="non-scaling-stroke"/>
<path d="M107.2 47.8L111.5 47.6L113.2 49.8L112.5 52.2L108.8 52.3L107 50Z" fill="#C4C4C4" stroke="#C4C4C4" stroke-width="1.1" stroke-linejoin="round" vector-effect="non-scaling-stroke"/>
<path d="M112.5 49L118 48.6L124 47.8L128.5 47.5L128.8 51.2L124 52.5L118 53.5L115.5 55L113 53Z" fill="#C4C4C4" stroke="#C4C4C4" stroke-width="1.1" stroke-linejoin="round" vector-effect="non-scaling-stroke"/>
<path d="M127.5 48.2L133 48.5L135.8 50.3L134.5 53.3L130 54L127.3 52.5Z" fill="#C4C4C4" stroke="#C4C4C4" stroke-width="1.1" stroke-linejoin="round" vector-effect="non-scaling-stroke"/>
<path d="M120.3 57.2a1.1 1.2 0 1 0 2.2 0a1.1 1.2 0 1 0 -2.2 0z" fill="#C4C4C4" stroke="#C4C4C4" stroke-width="1.1" stroke-linejoin="round" vector-effect="non-scaling-stroke"/>
<path d="M98.6 37.2L101.2 36.4L101.6 38.3L99.2 38.6Z" fill="#C4C4C4" stroke="#C4C4C4" stroke-width="1.1" stroke-linejoin="round" vector-effect="non-scaling-stroke"/>
<path d="M78.2 1.4L80.8 2.6L80.6 3.4L78 2.3Z" fill="#C4C4C4" stroke="#C4C4C4" stroke-width="1.1" stroke-linejoin="round" vector-effect="non-scaling-stroke"/>
<path d="M51.6 56.8L53.6 55.6L56.5 56.2L59 57.8L61.5 60.2L61.8 62L59.8 61.8L56.5 60.5L53 59.8L51.5 58.5Z" fill="#B4B4D8" stroke="#B4B4D8" stroke-width="1.1" stroke-linejoin="round" vector-effect="non-scaling-stroke"/>
<path d="M59.6 62.5a1.2 1 0 1 0 2.4 0a1.2 1 0 1 0 -2.4 0z" fill="#C4C4C4" stroke="#C4C4C4" stroke-width="1.1" stroke-linejoin="round" vector-effect="non-scaling-stroke"/>
<path d="M27 80.6L30.5 80.2L34 81.4L38 83.4L42 83.6L46.5 83.4L46.5 84.6L42 85.6L39.5 87.2L37 88L34.5 86.5L31 84.5L27.5 82.5Z" fill="#9C9CE4" stroke="#9C9CE4" stroke-width="1.1" stroke-linejoin="round" vector-effect="non-scaling-stroke"/>
<path d="M80.4 127L85 125.6L90 126.2L93.8 127.6L93.5 131.5L93 134.5L89 136L85 136.6L82.5 134L82 130L80.3 128.8Z" fill="#A4A4E0" stroke="#A4A4E0" stroke-width="1.1" stroke-linejoin="round" vector-effect="non-scaling-stroke"/>
<path d="M91.6 129L96 126.8L101 126.2L104.5 124.5L105.5 122.8L108.5 122.3L112.2 122.8L110.5 124.8L108.5 126.5L108.8 130.5L106 133.5L101 135.6L96.5 135.3L92.5 133.5Z" fill="#9C9CE2" stroke="#9C9CE2" stroke-width="1.1" stroke-linejoin="round" vector-effect="non-scaling-stroke"/>
<path d="M93.8 123.5L97 122L100.5 122.6L100.3 126.2L96.5 127L93.9 126.2Z" fill="#C4C4C4" stroke="#C4C4C4" stroke-width="1.1" stroke-linejoin="round" vector-effect="non-scaling-stroke"/>
<path d="M88.2 121.5L91.5 120L93 118.2L95.6 118.3L95.8 121.5L95 125.5L91.5 126.2L88.5 125Z" fill="#C4C4C4" stroke="#C4C4C4" stroke-width="1.1" stroke-linejoin="round" vector-effect="non-scaling-stroke"/>
<path d="M106 119a1.8 2.4 0 1 0 3.6 0a1.8 2.4 0 1 0 -3.6 0z" fill="#C4C4C4" stroke="#C4C4C4" stroke-width="1.1" stroke-linejoin="round" vector-effect="non-scaling-stroke"/>
<path d="M86.2 116L86.9 115.8L89.3 118.8L88.7 119.3Z" fill="#C4C4C4" stroke="#C4C4C4" stroke-width="1.1" stroke-linejoin="round" vector-effect="non-scaling-stroke"/>
<path d="M136.8 81.2L141.5 80.4L141.7 81.6L137 82.2Z" fill="#C4C4C4" stroke="#C4C4C4" stroke-width="1.1" stroke-linejoin="round" vector-effect="non-scaling-stroke"/>
<path d="M128 132.1a0.9 0.8 0 1 0 1.8 0a0.9 0.8 0 1 0 -1.8 0z" fill="#C4C4C4" stroke="#C4C4C4" stroke-width="1.1" stroke-linejoin="round" vector-effect="non-scaling-stroke"/>
</g>
<path d="M170.1 382.3h0M169.1 383.4h0M169.1 380.1h0M168.1 380h0M167.5 379.5h0M178.8 384.7h0M178.6 383.6h0M175.4 382h0M174.2 382.2h0M173.4 378h0M170.9 378.5h0M169.4 377.9h0M173.6 376.8h0M169.6 377.7h0M174.9 376.4h0M169.3 378.2h0M172.4 377.3h0M173.8 377.8h0M170.1 379.9h0M172.6 378.9h0M171.6 374.4h0M174 381.2h0M174.9 381.4h0M174.4 380.7h0M172.8 380.7h0M173.3 381.2h0M170.3 380.5h0M176.4 380.9h0M174.7 380.8h0M173.4 381.9h0M184 364.9h0M185.6 365.9h0M184.4 367.6h0M182 365.1h0M183.5 365h0M182.5 363.8h0M183.1 364.8h0M188 366.6h0M183.4 365.5h0M181.7 364.5h0M185.2 367.3h0M186.3 366.9h0M188.3 367.1h0M187 366.1h0M188.5 366.2h0M162.7 367.4h0M165.4 369.3h0M162.1 367.9h0M164.8 369.5h0M166 367.6h0M164.8 369.3h0M166 367.5h0M164.3 368.6h0M170.9 364.8h0M172.7 367.3h0M170 367.6h0M170.1 365.8h0M171.9 365.1h0M169.1 365.4h0M171.2 367.7h0M177.6 367.8h0M181 368.5h0M176.7 367.7h0M175.2 368.7h0M173.6 368.2h0M174.6 367.6h0M182.6 367.2h0M181.3 368h0M180.5 366.9h0M181.5 368.1h0M178.6 370.5h0M146.7 370.6h0M143.5 370.4h0M132.2 378.6h0M132.4 378.7h0M159.3 395.3h0M163 396.6h0M161.5 395.6h0M161.2 396.6h0M157.4 394.8h0M160.1 396.6h0M169.3 394.8h0M169.8 396.4h0M163.4 396h0M166.8 396.2h0M164.2 397.1h0M168 397.1h0M167.9 394.9h0M165.3 393.7h0M163.5 393.4h0M186.2 379.1h0" stroke="#B4B4B4" stroke-width="0.64" stroke-linecap="round"/>
<path d="M169.8 383.4h0M177.3 381.8h0M174.9 381.8h0M176 382.9h0M173.8 375.7h0M173.5 378.9h0M172.8 379.4h0M173.6 376.7h0M175 377.2h0M169.5 375.7h0M173.4 376.4h0M174.1 376.7h0M174.9 379h0M170.4 382.2h0M171.6 382.4h0M172.1 382.7h0M174.5 383.5h0M169.9 382.1h0M185.6 367.3h0M182.3 365.9h0M183.1 364.2h0M185.2 363.9h0M185.1 363.5h0M184.3 364.1h0M183.7 368.2h0M184.1 363.5h0M185.5 365.9h0M189.9 366.9h0M187.1 367.2h0M187.7 367.4h0M186.1 366.5h0M163.6 368.9h0M163.7 368.2h0M164.5 370.1h0M166.5 368.3h0M162.2 367.3h0M171.5 363.4h0M171.2 367.3h0M169.8 365.3h0M172.6 367.5h0M171.9 367.2h0M172.1 366.8h0M173 368.3h0M176.3 368.3h0M179.8 367.3h0M179.4 367.6h0M183 367.6h0M180.2 367.7h0M184.1 368.1h0M155.4 350.8h0M145.4 369.9h0M147.5 371.3h0M134.1 380.2h0M137 381.3h0M160 395.2h0M157.9 396.9h0M169.8 393.3h0M169.1 394.8h0M169.8 394.4h0M169.5 396.6h0M166.1 392.9h0M164.7 395.2h0M163.7 392.6h0M163.9 392.9h0M162.2 394.1h0M163.3 394.2h0M164.3 392.4h0M171.1 393.2h0M186.5 378.8h0" stroke="#A8A8A8" stroke-width="0.64" stroke-linecap="round"/>
<path d="M168.8 379.5h0M166.8 378.6h0M169.6 382.5h0M176.7 382.1h0M176.7 381.9h0M173.1 378.4h0M171.9 377.1h0M173.3 377.2h0M172.3 376.8h0M170.3 376.3h0M169.1 375.8h0M172 379.4h0M174 378.3h0M173.4 377h0M169.2 378.9h0M172.4 375.3h0M171.7 379.4h0M175.7 376.5h0M172.7 377.6h0M169.2 378h0M173.6 382.7h0M169.3 381h0M172.3 382.1h0M174.6 381.5h0M170.7 381.5h0M173.6 381.3h0M182.3 364h0M185.9 363.8h0M185.1 365.8h0M185.2 367.4h0M184.8 363.8h0M186.5 364.5h0M185.5 365.3h0M182 366.4h0M185 365.3h0M182.7 366.8h0M182.5 366.6h0M186.2 366h0M184.8 367.1h0M183.7 367.5h0M185.1 367.1h0M182.6 367.4h0M186.6 364.3h0M186.4 366.2h0M187.3 367.8h0M185.6 366.7h0M185.8 366.2h0M164 368.7h0M163.9 368.3h0M164.8 369.9h0M164.3 369.7h0M171.3 363.8h0M170.8 363.9h0M173 367.5h0M170.8 367h0M178.7 367.7h0M176.5 367.3h0M177.6 368.3h0M175.1 368.3h0M179.6 368.2h0M180.1 367.5h0M173.6 367.1h0M181.4 367.7h0M183.2 367.8h0M167.4 363.5h0M144.9 370.9h0M142.8 371h0M147.5 371.1h0M132.5 378.9h0M138.8 380.3h0M135.1 379.4h0M158.2 395.3h0M160.9 395.5h0M159.4 394h0M158.3 395.1h0M163.4 395.1h0M160.1 395h0M161.3 397.5h0M170.3 393.1h0M171.1 394.2h0M170.8 393.5h0M166.7 396.5h0M168.2 395.7h0M170.4 395.1h0M165 396.1h0M167 394.6h0M169.3 397.1h0M170.4 394.3h0M168 395.1h0M163.8 393.3h0M164.7 394.3h0M165 393h0M162 392.7h0M163.5 392h0M162.6 393.9h0M163.4 393.9h0M169.6 393.1h0M170.4 391.8h0M159.6 391.5h0M181.2 396.7h0" stroke="#FFFFFF" stroke-width="0.64" stroke-linecap="round"/>
<path d="M176.2 376.7h0M172.9 380.2h0M170 379.4h0M171.6 380.5h0M171.1 382.4h0M173 383h0M186.2 367.4h0M184 364.1h0M183.7 367.5h0M169.4 363.6h0M169.7 363.8h0M145.2 371.5h0M134.8 380.1h0M134.8 380.1h0M135.7 379.5h0M132.1 378.3h0M133.8 379.5h0M134.2 379.8h0M130.8 378.9h0M160.3 397.3h0M157.6 397.4h0M159.4 395.8h0M160.7 395.7h0M160.4 396.2h0M159.2 396.2h0M162.8 396.3h0M168.4 395h0M168.6 396.8h0M167.5 395.6h0M168.9 396h0M163.9 395.6h0" stroke="#7c7cf0" stroke-width="0.64" stroke-linecap="round"/>
<path d="M172.9 378.2h0M175.2 377.7h0M170.5 380.1h0M173.8 381.8h0M174.3 380.3h0M172.7 382.1h0M146 372.1h0M135.7 379.9h0M160.8 395.8h0M161.5 396.7h0M159 397.7h0M167.2 396.7h0M165.1 394.7h0M164.5 396.6h0M169.1 395.4h0M169.2 396.4h0M167.9 395.4h0M164.5 395.2h0" stroke="#5a5af0" stroke-width="0.64" stroke-linecap="round"/>
<text x="169.4" y="358.63" font-size="6.2" font-weight="bold" font-style="italic" text-anchor="middle" >Cxcl10</text>
<rect x="194.2" y="369.5" width="2.7" height="14.7" fill="url(#gB)"/>
<line x1="197.5" y1="370.5" x2="198.5" y2="370.5" stroke="#666" stroke-width="0.4"/>
<line x1="197.5" y1="373.68" x2="198.5" y2="373.68" stroke="#666" stroke-width="0.4"/>
<line x1="197.5" y1="376.85" x2="198.5" y2="376.85" stroke="#666" stroke-width="0.4"/>
<line x1="197.5" y1="380.02" x2="198.5" y2="380.02" stroke="#666" stroke-width="0.4"/>
<line x1="197.5" y1="383.2" x2="198.5" y2="383.2" stroke="#666" stroke-width="0.4"/>
<rect x="128.6" y="406.6" width="74.8" height="51.9" fill="#fff" stroke="#888" stroke-width="0.9"/>
<g transform="matrix(0.47 0 0 0.32 116.68 408.06)">
<path d="M96 80.2L99 80.6L103 81.5L104.5 84L104 90L106.5 93L107 96L105 95L102.5 91.5L102.6 83.5L99 82L96 81.6Z" fill="#C4C4C4" stroke="#C4C4C4" stroke-width="1.1" stroke-linejoin="round" vector-effect="non-scaling-stroke"/>
<path d="M115.5 87L118 88.5L122 92L125.8 97.5L124.8 99.3L121.5 96L117.5 92L115 90Z" fill="#C4C4C4" stroke="#C4C4C4" stroke-width="1.1" stroke-linejoin="round" vector-effect="non-scaling-stroke"/>
<path d="M104.2 78a7.8 7.4 0 1 0 15.6 0a7.8 7.4 0 1 0 -15.6 0z" fill="#B8B8D6" stroke="#B8B8D6" stroke-width="1.1" stroke-linejoin="round" vector-effect="non-scaling-stroke"/>
<path d="M108.5 71L110 68.3L111.5 71Z" fill="#B8B8D6" stroke="#B8B8D6" stroke-width="1.1" stroke-linejoin="round" vector-effect="non-scaling-stroke"/>
<path d="M104.8 84.2L110 85.8L118.6 84L117.8 89L115.5 92.5L113.5 96.5L111 97.4L108 96.8L106.3 92.5L105.5 88Z" fill="#B8B8D6" stroke="#B8B8D6" stroke-width="1.1" stroke-linejoin="round" vector-effect="non-scaling-stroke"/>
<path d="M128.3 44.2a8 6.9 0 1 0 16 0a8 6.9 0 1 0 -16 0z" fill="#BEBED0" stroke="#BEBED0" stroke-width="1.1" stroke-linejoin="round" vector-effect="non-scaling-stroke"/>
<path d="M136.2 47.5a4.3 4.2 0 1 0 8.6 0a4.3 4.2 0 1 0 -8.6 0z" fill="#BEBED0" stroke="#BEBED0" stroke-width="1.1" stroke-linejoin="round" vector-effect="non-scaling-stroke"/>
<path d="M88.8 48.5L92 47.2L95.5 47.4L98 48.6L100.8 51.2L99 53.5L97.6 55L97 58.3L95.6 57.8L95 55.5L92.5 54.2L89.5 53.2L88.6 51Z" fill="#C4C4C4" stroke="#C4C4C4" stroke-width="1.1" stroke-linejoin="round" vector-effect="non-scaling-stroke"/>
<path d="M104.5 38.5L107 37.6L110.5 38L111 41L108.5 42.5L106 42Z" fill="#C4C4C4" stroke="#C4C4C4" stroke-width="1.1" stroke-linejoin="round" vector-effect="non-scaling-stroke"/>
<path d="M105 41.5L108.5 41.8L109.5 46L110.5 49L107.5 49.5L106 46.5L104.2 44Z" fill="#C4C4C4" stroke="#C4C4C4" stroke-width="1.1" stroke-linejoin="round" vector-effect="non-scaling-stroke"/>
<path d="M107.2 47.8L111.5 47.6L113.2 49.8L112.5 52.2L108.8 52.3L107 50Z" fill="#C4C4C4" stroke="#C4C4C4" stroke-width="1.1" stroke-linejoin="round" vector-effect="non-scaling-stroke"/>
<path d="M112.5 49L118 48.6L124 47.8L128.5 47.5L128.8 51.2L124 52.5L118 53.5L115.5 55L113 53Z" fill="#C4C4C4" stroke="#C4C4C4" stroke-width="1.1" stroke-linejoin="round" vector-effect="non-scaling-stroke"/>
<path d="M127.5 48.2L133 48.5L135.8 50.3L134.5 53.3L130 54L127.3 52.5Z" fill="#C4C4C4" stroke="#C4C4C4" stroke-width="1.1" stroke-linejoin="round" vector-effect="non-scaling-stroke"/>
<path d="M120.3 57.2a1.1 1.2 0 1 0 2.2 0a1.1 1.2 0 1 0 -2.2 0z" fill="#C4C4C4" stroke="#C4C4C4" stroke-width="1.1" stroke-linejoin="round" vector-effect="non-scaling-stroke"/>
<path d="M98.6 37.2L101.2 36.4L101.6 38.3L99.2 38.6Z" fill="#C4C4C4" stroke="#C4C4C4" stroke-width="1.1" stroke-linejoin="round" vector-effect="non-scaling-stroke"/>
<path d="M78.2 1.4L80.8 2.6L80.6 3.4L78 2.3Z" fill="#C4C4C4" stroke="#C4C4C4" stroke-width="1.1" stroke-linejoin="round" vector-effect="non-scaling-stroke"/>
<path d="M51.6 56.8L53.6 55.6L56.5 56.2L59 57.8L61.5 60.2L61.8 62L59.8 61.8L56.5 60.5L53 59.8L51.5 58.5Z" fill="#C4C4C4" stroke="#C4C4C4" stroke-width="1.1" stroke-linejoin="round" vector-effect="non-scaling-stroke"/>
<path d="M59.6 62.5a1.2 1 0 1 0 2.4 0a1.2 1 0 1 0 -2.4 0z" fill="#C4C4C4" stroke="#C4C4C4" stroke-width="1.1" stroke-linejoin="round" vector-effect="non-scaling-stroke"/>
<path d="M27 80.6L30.5 80.2L34 81.4L38 83.4L42 83.6L46.5 83.4L46.5 84.6L42 85.6L39.5 87.2L37 88L34.5 86.5L31 84.5L27.5 82.5Z" fill="#7474F0" stroke="#7474F0" stroke-width="1.1" stroke-linejoin="round" vector-effect="non-scaling-stroke"/>
<path d="M80.4 127L85 125.6L90 126.2L93.8 127.6L93.5 131.5L93 134.5L89 136L85 136.6L82.5 134L82 130L80.3 128.8Z" fill="#ACACDC" stroke="#ACACDC" stroke-width="1.1" stroke-linejoin="round" vector-effect="non-scaling-stroke"/>
<path d="M91.6 129L96 126.8L101 126.2L104.5 124.5L105.5 122.8L108.5 122.3L112.2 122.8L110.5 124.8L108.5 126.5L108.8 130.5L106 133.5L101 135.6L96.5 135.3L92.5 133.5Z" fill="#ACACDC" stroke="#ACACDC" stroke-width="1.1" stroke-linejoin="round" vector-effect="non-scaling-stroke"/>
<path d="M93.8 123.5L97 122L100.5 122.6L100.3 126.2L96.5 127L93.9 126.2Z" fill="#C4C4C4" stroke="#C4C4C4" stroke-width="1.1" stroke-linejoin="round" vector-effect="non-scaling-stroke"/>
<path d="M88.2 121.5L91.5 120L93 118.2L95.6 118.3L95.8 121.5L95 125.5L91.5 126.2L88.5 125Z" fill="#C4C4C4" stroke="#C4C4C4" stroke-width="1.1" stroke-linejoin="round" vector-effect="non-scaling-stroke"/>
<path d="M106 119a1.8 2.4 0 1 0 3.6 0a1.8 2.4 0 1 0 -3.6 0z" fill="#C4C4C4" stroke="#C4C4C4" stroke-width="1.1" stroke-linejoin="round" vector-effect="non-scaling-stroke"/>
<path d="M86.2 116L86.9 115.8L89.3 118.8L88.7 119.3Z" fill="#C4C4C4" stroke="#C4C4C4" stroke-width="1.1" stroke-linejoin="round" vector-effect="non-scaling-stroke"/>
<path d="M136.8 81.2L141.5 80.4L141.7 81.6L137 82.2Z" fill="#C4C4C4" stroke="#C4C4C4" stroke-width="1.1" stroke-linejoin="round" vector-effect="non-scaling-stroke"/>
<path d="M128 132.1a0.9 0.8 0 1 0 1.8 0a0.9 0.8 0 1 0 -1.8 0z" fill="#C4C4C4" stroke="#C4C4C4" stroke-width="1.1" stroke-linejoin="round" vector-effect="non-scaling-stroke"/>
</g>
<path d="M164.9 435h0M163.2 434.1h0M165.6 436.4h0M164 434.4h0M165.1 434.4h0M165.4 437.6h0M164.8 435.8h0M175.3 438.6h0M165.1 432.9h0M169.7 434.3h0M167.9 434.3h0M167.9 434.7h0M170.9 434h0M170 430.5h0M167 432.7h0M172.1 431.8h0M168.6 430.6h0M168.1 436.9h0M169.5 437.2h0M171 435.2h0M171 436.8h0M167.1 437.7h0M169 437.1h0M171.3 436.4h0M167.9 438.1h0M178.2 422.9h0M181.7 421.4h0M177.2 423.6h0M179.6 420.4h0M177.1 420.7h0M179.6 421.3h0M181.7 421.1h0M179.2 424.1h0M183.2 421.9h0M182.5 422h0M178.1 423.5h0M182.1 423.5h0M178.7 422.6h0M182.1 423.6h0M183.2 422.7h0M183.5 424.1h0M183 422.8h0M159.2 425.5h0M163.9 424.2h0M158.6 424h0M161.3 423.3h0M168.6 421.3h0M168.3 420.3h0M168.7 421.1h0M166.9 422h0M166.6 422.6h0M169.9 424h0M168.3 423.5h0M168.5 424.8h0M167.2 424.7h0M172.4 424.3h0M169.8 424.3h0M169.9 425.4h0M170.9 424.4h0M171.6 424.7h0M177.7 424.5h0M176 423.8h0M162.7 419.9h0M142.3 427.2h0M143.7 427.7h0M144.7 427.5h0M159.1 450.4h0M159.5 449.5h0M159.1 450.3h0M162.3 449.6h0M163.2 451.6h0M163.8 450.8h0M163.1 448.8h0M163.8 449.9h0M163.1 448.2h0M161.6 446.9h0M161.2 448.5h0M159 446.7h0M161.9 446.3h0M157.7 446.8h0M166.7 446.5h0M167.7 446.3h0M158 445.9h0M181.7 434.1h0M181.3 434.1h0M176.1 450.5h0" stroke="#B4B4B4" stroke-width="0.64" stroke-linecap="round"/>
<path d="M164.1 434h0M166.2 438.9h0M171.5 437.5h0M173.3 437.3h0M170.3 436.6h0M172.4 436.7h0M171.2 437h0M173.3 438.2h0M170.9 432.2h0M170.8 433.4h0M170.5 432.5h0M169.9 434.6h0M169.5 430.5h0M171 432.7h0M166.6 432.1h0M168.6 432.5h0M169.7 435.1h0M167.6 433.9h0M172.6 433.3h0M166.7 432.1h0M169.3 431.9h0M168.5 438.5h0M167.5 436.7h0M170.4 436.3h0M167.6 435.7h0M169.4 436.9h0M166.1 435.7h0M170.3 435.2h0M178.2 422.2h0M181 421h0M177.4 423.4h0M184.2 422.1h0M181 420.6h0M178.2 422.6h0M179.1 423.8h0M180.5 422.4h0M178.8 423.5h0M177.1 422h0M182 420.1h0M180.3 420.5h0M182.1 423.5h0M181.9 423.7h0M184.1 422.6h0M183.1 423.4h0M162.6 426h0M160.5 424.5h0M160.6 424.4h0M162 424.6h0M169 420.4h0M167.6 423.3h0M167.4 422.6h0M168.4 423.2h0M167.4 422.3h0M174.5 424.4h0M175.3 425.1h0M176.2 424.5h0M171.3 422.9h0M171.3 425.2h0M175.2 423.3h0M175.8 424h0M177.6 424.5h0M176.7 423.7h0M178.1 423.9h0M179.7 425h0M144.2 427.3h0M141.5 426.4h0M143.1 426.7h0M158.2 449.9h0M156 450.8h0M160.5 449h0M159.1 448h0M166.2 449.3h0M162.8 450.2h0M167.4 448.4h0M163.6 449.8h0M165.2 450.5h0M164 450.4h0M162 451.4h0M161.2 447.5h0M160.1 447.2h0M160.9 445.9h0M159 446.6h0M159.9 447.5h0M160.3 447h0M166.4 446.4h0" stroke="#A8A8A8" stroke-width="0.64" stroke-linecap="round"/>
<path d="M173 437.6h0M175.2 439.3h0M168 433.8h0M171.9 432.4h0M167.9 431.7h0M168.6 435.3h0M170.6 432h0M171.7 432.8h0M170.7 433.5h0M172.2 433.8h0M168.5 431.6h0M167.3 432.1h0M170.1 434.9h0M165.9 431.7h0M171 432.8h0M166.8 433.5h0M171.9 433.3h0M167.2 437.2h0M166.7 437.5h0M166.7 436.7h0M169.4 436.5h0M167 435.5h0M166.9 435.6h0M169.3 436.7h0M180.8 421.6h0M179 421.1h0M181.3 421.6h0M180.4 423.3h0M183.1 421.3h0M180.6 423.1h0M179 424.4h0M178.6 423.6h0M179.4 421.9h0M178.6 422.5h0M182.7 423.5h0M180.1 423.4h0M184.4 422.6h0M159.8 424.7h0M160.2 424.9h0M159.8 425h0M161.6 424.9h0M158.9 423.6h0M161.5 423.8h0M161.7 425.7h0M160.6 423.4h0M161.9 424.4h0M165.7 421h0M167.2 420.8h0M167.4 421.7h0M167.3 423.9h0M169.2 424.3h0M170.6 426h0M176.8 423.7h0M170.6 423.5h0M171.2 423.3h0M175.5 423.2h0M179.1 425.4h0M177.8 423.8h0M176.8 424.5h0M173.7 426.7h0M153 408.6h0M143.4 426h0M141.7 427.3h0M144.1 427.8h0M132.4 434.6h0M134 435.8h0M135.5 434.9h0M130.8 434.5h0M132.7 434.7h0M133.1 436.2h0M155.2 451.4h0M156.8 449h0M159.8 449h0M159.1 450.8h0M157.5 450.8h0M157.6 449.6h0M155.3 448.6h0M159.5 450.5h0M157.1 449.6h0M164 448.4h0M167.5 449.4h0M165.9 450.4h0M163.2 450h0M159.8 450h0M164.2 450.1h0M167.2 448h0M166.1 448.8h0M164.3 450h0M162.9 448.6h0M164.6 448.6h0M163.7 447.8h0M162.5 447.8h0M160.7 447.8h0M161.1 446.8h0" stroke="#FFFFFF" stroke-width="0.64" stroke-linecap="round"/>
<path d="M171.7 431.8h0M170.3 434.3h0M168.7 431.9h0M170.8 436.3h0M169.1 438.9h0M166.5 436.1h0M180.5 423.4h0M181.4 424.1h0M137.3 434.8h0M131.7 434.8h0M132 435.2h0M134.8 434.3h0M157.1 449.4h0M158.4 448.5h0M156.3 449.6h0M167.2 449.2h0M168.2 447.5h0M166.9 449.2h0M160.2 449.2h0M162.2 451.3h0M163.9 449.9h0M159.4 450.5h0" stroke="#7c7cf0" stroke-width="0.64" stroke-linecap="round"/>
<path d="M170.2 434.8h0M169.3 435.8h0M167 437.1h0M182.8 422.7h0M179.3 422.1h0M181.7 423.9h0M183.1 422.6h0M133.7 435.8h0M136.5 435.6h0M134.2 434.7h0M135.6 435h0M134.6 434.8h0M159 449.6h0M157 449.7h0M158.5 450.4h0M156.6 450.2h0M156.8 448.4h0M156.4 450.3h0M165.7 450.6h0M164.9 451h0M164.6 448.8h0M166.4 448.5h0" stroke="#5a5af0" stroke-width="0.64" stroke-linecap="round"/>
<text x="163.4" y="414.63" font-size="6.2" font-weight="bold" font-style="italic" text-anchor="middle" >Il15</text>
<rect x="193.6" y="424.7" width="3" height="15.3" fill="url(#gB)"/>
<line x1="197.2" y1="425.7" x2="198.2" y2="425.7" stroke="#666" stroke-width="0.4"/>
<line x1="197.2" y1="429.02" x2="198.2" y2="429.02" stroke="#666" stroke-width="0.4"/>
<line x1="197.2" y1="432.35" x2="198.2" y2="432.35" stroke="#666" stroke-width="0.4"/>
<line x1="197.2" y1="435.68" x2="198.2" y2="435.68" stroke="#666" stroke-width="0.4"/>
<line x1="197.2" y1="439" x2="198.2" y2="439" stroke="#666" stroke-width="0.4"/>
<line x1="119.5" y1="473.2" x2="119.5" y2="457.8" stroke="#444" stroke-width="0.9"/>
<line x1="119.05" y1="473.2" x2="135.8" y2="473.2" stroke="#444" stroke-width="0.9"/>
<path d="M115.8 458.3L119.5 449.8L123.2 458.3Z" fill="#000"/>
<path d="M135.3 469.5L143.8 473.2L135.3 476.9Z" fill="#000"/>
<text x="115.1" y="479.48" font-size="5.5" fill="#222" >UMAP1</text>
<text transform="translate(111 462.4) rotate(-90)" x="0" y="2" font-size="5.55" fill="#222" text-anchor="middle" >UMAP2</text>
<rect x="374.5" y="299.3" width="75.2" height="52" fill="#fff" stroke="#444" stroke-width="0.9"/>
<g transform="matrix(0.4 0 0 0.37 373 295.96)">
<path d="M96 80.2L99 80.6L103 81.5L104.5 84L104 90L106.5 93L107 96L105 95L102.5 91.5L102.6 83.5L99 82L96 81.6Z" fill="#C4C4C4" stroke="#C4C4C4" stroke-width="1.1" stroke-linejoin="round" vector-effect="non-scaling-stroke"/>
<path d="M115.5 87L118 88.5L122 92L125.8 97.5L124.8 99.3L121.5 96L117.5 92L115 90Z" fill="#C4C4C4" stroke="#C4C4C4" stroke-width="1.1" stroke-linejoin="round" vector-effect="non-scaling-stroke"/>
<path d="M104.2 78a7.8 7.4 0 1 0 15.6 0a7.8 7.4 0 1 0 -15.6 0z" fill="#C4C4C4" stroke="#C4C4C4" stroke-width="1.1" stroke-linejoin="round" vector-effect="non-scaling-stroke"/>
<path d="M108.5 71L110 68.3L111.5 71Z" fill="#C4C4C4" stroke="#C4C4C4" stroke-width="1.1" stroke-linejoin="round" vector-effect="non-scaling-stroke"/>
<path d="M104.8 84.2L110 85.8L118.6 84L117.8 89L115.5 92.5L113.5 96.5L111 97.4L108 96.8L106.3 92.5L105.5 88Z" fill="#C4C4C4" stroke="#C4C4C4" stroke-width="1.1" stroke-linejoin="round" vector-effect="non-scaling-stroke"/>
<path d="M128.3 44.2a8 6.9 0 1 0 16 0a8 6.9 0 1 0 -16 0z" fill="#7474F0" stroke="#7474F0" stroke-width="1.1" stroke-linejoin="round" vector-effect="non-scaling-stroke"/>
<path d="M136.2 47.5a4.3 4.2 0 1 0 8.6 0a4.3 4.2 0 1 0 -8.6 0z" fill="#7474F0" stroke="#7474F0" stroke-width="1.1" stroke-linejoin="round" vector-effect="non-scaling-stroke"/>
<path d="M88.8 48.5L92 47.2L95.5 47.4L98 48.6L100.8 51.2L99 53.5L97.6 55L97 58.3L95.6 57.8L95 55.5L92.5 54.2L89.5 53.2L88.6 51Z" fill="#C4C4C4" stroke="#C4C4C4" stroke-width="1.1" stroke-linejoin="round" vector-effect="non-scaling-stroke"/>
<path d="M104.5 38.5L107 37.6L110.5 38L111 41L108.5 42.5L106 42Z" fill="#7C7CF0" stroke="#7C7CF0" stroke-width="1.1" stroke-linejoin="round" vector-effect="non-scaling-stroke"/>
<path d="M105 41.5L108.5 41.8L109.5 46L110.5 49L107.5 49.5L106 46.5L104.2 44Z" fill="#B8B8D8" stroke="#B8B8D8" stroke-width="1.1" stroke-linejoin="round" vector-effect="non-scaling-stroke"/>
<path d="M107.2 47.8L111.5 47.6L113.2 49.8L112.5 52.2L108.8 52.3L107 50Z" fill="#C4C4C4" stroke="#C4C4C4" stroke-width="1.1" stroke-linejoin="round" vector-effect="non-scaling-stroke"/>
<path d="M112.5 49L118 48.6L124 47.8L128.5 47.5L128.8 51.2L124 52.5L118 53.5L115.5 55L113 53Z" fill="#C0C0D4" stroke="#C0C0D4" stroke-width="1.1" stroke-linejoin="round" vector-effect="non-scaling-stroke"/>
<path d="M127.5 48.2L133 48.5L135.8 50.3L134.5 53.3L130 54L127.3 52.5Z" fill="#A0A0E0" stroke="#A0A0E0" stroke-width="1.1" stroke-linejoin="round" vector-effect="non-scaling-stroke"/>
<path d="M120.3 57.2a1.1 1.2 0 1 0 2.2 0a1.1 1.2 0 1 0 -2.2 0z" fill="#8080F0" stroke="#8080F0" stroke-width="1.1" stroke-linejoin="round" vector-effect="non-scaling-stroke"/>
<path d="M98.6 37.2L101.2 36.4L101.6 38.3L99.2 38.6Z" fill="#C4C4C4" stroke="#C4C4C4" stroke-width="1.1" stroke-linejoin="round" vector-effect="non-scaling-stroke"/>
<path d="M78.2 1.4L80.8 2.6L80.6 3.4L78 2.3Z" fill="#C4C4C4" stroke="#C4C4C4" stroke-width="1.1" stroke-linejoin="round" vector-effect="non-scaling-stroke"/>
<path d="M51.6 56.8L53.6 55.6L56.5 56.2L59 57.8L61.5 60.2L61.8 62L59.8 61.8L56.5 60.5L53 59.8L51.5 58.5Z" fill="#C4C4C4" stroke="#C4C4C4" stroke-width="1.1" stroke-linejoin="round" vector-effect="non-scaling-stroke"/>
<path d="M59.6 62.5a1.2 1 0 1 0 2.4 0a1.2 1 0 1 0 -2.4 0z" fill="#C4C4C4" stroke="#C4C4C4" stroke-width="1.1" stroke-linejoin="round" vector-effect="non-scaling-stroke"/>
<path d="M27 80.6L30.5 80.2L34 81.4L38 83.4L42 83.6L46.5 83.4L46.5 84.6L42 85.6L39.5 87.2L37 88L34.5 86.5L31 84.5L27.5 82.5Z" fill="#C4C4C4" stroke="#C4C4C4" stroke-width="1.1" stroke-linejoin="round" vector-effect="non-scaling-stroke"/>
<path d="M80.4 127L85 125.6L90 126.2L93.8 127.6L93.5 131.5L93 134.5L89 136L85 136.6L82.5 134L82 130L80.3 128.8Z" fill="#C4C4C4" stroke="#C4C4C4" stroke-width="1.1" stroke-linejoin="round" vector-effect="non-scaling-stroke"/>
<path d="M91.6 129L96 126.8L101 126.2L104.5 124.5L105.5 122.8L108.5 122.3L112.2 122.8L110.5 124.8L108.5 126.5L108.8 130.5L106 133.5L101 135.6L96.5 135.3L92.5 133.5Z" fill="#C4C4C4" stroke="#C4C4C4" stroke-width="1.1" stroke-linejoin="round" vector-effect="non-scaling-stroke"/>
<path d="M93.8 123.5L97 122L100.5 122.6L100.3 126.2L96.5 127L93.9 126.2Z" fill="#C4C4C4" stroke="#C4C4C4" stroke-width="1.1" stroke-linejoin="round" vector-effect="non-scaling-stroke"/>
<path d="M88.2 121.5L91.5 120L93 118.2L95.6 118.3L95.8 121.5L95 125.5L91.5 126.2L88.5 125Z" fill="#C4C4C4" stroke="#C4C4C4" stroke-width="1.1" stroke-linejoin="round" vector-effect="non-scaling-stroke"/>
<path d="M106 119a1.8 2.4 0 1 0 3.6 0a1.8 2.4 0 1 0 -3.6 0z" fill="#C4C4C4" stroke="#C4C4C4" stroke-width="1.1" stroke-linejoin="round" vector-effect="non-scaling-stroke"/>
<path d="M86.2 116L86.9 115.8L89.3 118.8L88.7 119.3Z" fill="#C4C4C4" stroke="#C4C4C4" stroke-width="1.1" stroke-linejoin="round" vector-effect="non-scaling-stroke"/>
<path d="M136.8 81.2L141.5 80.4L141.7 81.6L137 82.2Z" fill="#C4C4C4" stroke="#C4C4C4" stroke-width="1.1" stroke-linejoin="round" vector-effect="non-scaling-stroke"/>
<path d="M128 132.1a0.9 0.8 0 1 0 1.8 0a0.9 0.8 0 1 0 -1.8 0z" fill="#C4C4C4" stroke="#C4C4C4" stroke-width="1.1" stroke-linejoin="round" vector-effect="non-scaling-stroke"/>
</g>
<path d="M430.1 313.1h0M430 311.7h0M426 314.3h0M427.6 312.5h0M427.5 311h0M427.5 314.5h0M427.2 311.9h0M425.4 311.2h0M428.3 313.6h0M427.2 314h0M429.8 312.2h0M428.4 310.3h0M426 313.1h0M427 313.2h0M425 312.1h0M428 312.9h0M428.3 313.7h0M427.7 314h0M428.2 312.4h0M430.4 314.9h0M430.7 315.1h0M415 310.8h0M414.6 310.2h0M416 313.3h0M424.7 314h0M424.5 314.5h0M426.4 315.1h0M424.3 314.2h0" stroke="#5a5af0" stroke-width="0.64" stroke-linecap="round"/>
<path d="M429 310.4h0M428.7 313.5h0M425.9 314.6h0M427.3 311.2h0M429.4 313.2h0M430.3 314h0M425.6 310.8h0M425.8 312.9h0M427.5 313.7h0M426.4 314.2h0M428.6 314.8h0M428.8 314.3h0M427.6 314h0M415.8 310.9h0M417.4 310.5h0M415.7 311.6h0" stroke="#FFFFFF" stroke-width="0.64" stroke-linecap="round"/>
<path d="M429 313h0M426.4 313.9h0M429.7 313.9h0M427.4 311.3h0M429.9 313h0M426.7 312.3h0M424.9 311.6h0M425.3 310.8h0M426.9 310.7h0M428.2 311.8h0M428.2 311.2h0M427 312.5h0M427.1 313.9h0M429.4 311h0M430.1 315h0M428.3 314.6h0M430.1 313.4h0M427.8 312.2h0M416.3 310.1h0M421.9 314.5h0M420.9 315.9h0M424.4 314.9h0M423.8 315.4h0M421.9 317.2h0" stroke="#7c7cf0" stroke-width="0.64" stroke-linecap="round"/>
<text x="413.5" y="305.03" font-size="6.2" font-weight="bold" font-style="italic" text-anchor="middle" >Ccl5</text>
<rect x="437.4" y="316.9" width="2.6" height="12.2" fill="url(#gB)"/>
<line x1="440.6" y1="317.9" x2="441.6" y2="317.9" stroke="#666" stroke-width="0.4"/>
<line x1="440.6" y1="320.45" x2="441.6" y2="320.45" stroke="#666" stroke-width="0.4"/>
<line x1="440.6" y1="323" x2="441.6" y2="323" stroke="#666" stroke-width="0.4"/>
<line x1="440.6" y1="325.55" x2="441.6" y2="325.55" stroke="#666" stroke-width="0.4"/>
<line x1="440.6" y1="328.1" x2="441.6" y2="328.1" stroke="#666" stroke-width="0.4"/>
<rect x="374.6" y="354.6" width="74.8" height="51.9" fill="#fff" stroke="#444" stroke-width="0.9"/>
<g transform="matrix(0.42 0 0 0.39 370.77 350.29)">
<path d="M96 80.2L99 80.6L103 81.5L104.5 84L104 90L106.5 93L107 96L105 95L102.5 91.5L102.6 83.5L99 82L96 81.6Z" fill="#C4C4C4" stroke="#C4C4C4" stroke-width="1.1" stroke-linejoin="round" vector-effect="non-scaling-stroke"/>
<path d="M115.5 87L118 88.5L122 92L125.8 97.5L124.8 99.3L121.5 96L117.5 92L115 90Z" fill="#C4C4C4" stroke="#C4C4C4" stroke-width="1.1" stroke-linejoin="round" vector-effect="non-scaling-stroke"/>
<path d="M104.2 78a7.8 7.4 0 1 0 15.6 0a7.8 7.4 0 1 0 -15.6 0z" fill="#C4C4C4" stroke="#C4C4C4" stroke-width="1.1" stroke-linejoin="round" vector-effect="non-scaling-stroke"/>
<path d="M108.5 71L110 68.3L111.5 71Z" fill="#C4C4C4" stroke="#C4C4C4" stroke-width="1.1" stroke-linejoin="round" vector-effect="non-scaling-stroke"/>
<path d="M104.8 84.2L110 85.8L118.6 84L117.8 89L115.5 92.5L113.5 96.5L111 97.4L108 96.8L106.3 92.5L105.5 88Z" fill="#C4C4C4" stroke="#C4C4C4" stroke-width="1.1" stroke-linejoin="round" vector-effect="non-scaling-stroke"/>
<path d="M128.3 44.2a8 6.9 0 1 0 16 0a8 6.9 0 1 0 -16 0z" fill="#9494E8" stroke="#9494E8" stroke-width="1.1" stroke-linejoin="round" vector-effect="non-scaling-stroke"/>
<path d="M136.2 47.5a4.3 4.2 0 1 0 8.6 0a4.3 4.2 0 1 0 -8.6 0z" fill="#9494E8" stroke="#9494E8" stroke-width="1.1" stroke-linejoin="round" vector-effect="non-scaling-stroke"/>
<path d="M88.8 48.5L92 47.2L95.5 47.4L98 48.6L100.8 51.2L99 53.5L97.6 55L97 58.3L95.6 57.8L95 55.5L92.5 54.2L89.5 53.2L88.6 51Z" fill="#C4C4C4" stroke="#C4C4C4" stroke-width="1.1" stroke-linejoin="round" vector-effect="non-scaling-stroke"/>
<path d="M104.5 38.5L107 37.6L110.5 38L111 41L108.5 42.5L106 42Z" fill="#8484F0" stroke="#8484F0" stroke-width="1.1" stroke-linejoin="round" vector-effect="non-scaling-stroke"/>
<path d="M105 41.5L108.5 41.8L109.5 46L110.5 49L107.5 49.5L106 46.5L104.2 44Z" fill="#C4C4C4" stroke="#C4C4C4" stroke-width="1.1" stroke-linejoin="round" vector-effect="non-scaling-stroke"/>
<path d="M107.2 47.8L111.5 47.6L113.2 49.8L112.5 52.2L108.8 52.3L107 50Z" fill="#C4C4C4" stroke="#C4C4C4" stroke-width="1.1" stroke-linejoin="round" vector-effect="non-scaling-stroke"/>
<path d="M112.5 49L118 48.6L124 47.8L128.5 47.5L128.8 51.2L124 52.5L118 53.5L115.5 55L113 53Z" fill="#C0C0D4" stroke="#C0C0D4" stroke-width="1.1" stroke-linejoin="round" vector-effect="non-scaling-stroke"/>
<path d="M127.5 48.2L133 48.5L135.8 50.3L134.5 53.3L130 54L127.3 52.5Z" fill="#ACACDC" stroke="#ACACDC" stroke-width="1.1" stroke-linejoin="round" vector-effect="non-scaling-stroke"/>
<path d="M120.3 57.2a1.1 1.2 0 1 0 2.2 0a1.1 1.2 0 1 0 -2.2 0z" fill="#C4C4C4" stroke="#C4C4C4" stroke-width="1.1" stroke-linejoin="round" vector-effect="non-scaling-stroke"/>
<path d="M98.6 37.2L101.2 36.4L101.6 38.3L99.2 38.6Z" fill="#C4C4C4" stroke="#C4C4C4" stroke-width="1.1" stroke-linejoin="round" vector-effect="non-scaling-stroke"/>
<path d="M78.2 1.4L80.8 2.6L80.6 3.4L78 2.3Z" fill="#C4C4C4" stroke="#C4C4C4" stroke-width="1.1" stroke-linejoin="round" vector-effect="non-scaling-stroke"/>
<path d="M51.6 56.8L53.6 55.6L56.5 56.2L59 57.8L61.5 60.2L61.8 62L59.8 61.8L56.5 60.5L53 59.8L51.5 58.5Z" fill="#C4C4C4" stroke="#C4C4C4" stroke-width="1.1" stroke-linejoin="round" vector-effect="non-scaling-stroke"/>
<path d="M59.6 62.5a1.2 1 0 1 0 2.4 0a1.2 1 0 1 0 -2.4 0z" fill="#C4C4C4" stroke="#C4C4C4" stroke-width="1.1" stroke-linejoin="round" vector-effect="non-scaling-stroke"/>
<path d="M27 80.6L30.5 80.2L34 81.4L38 83.4L42 83.6L46.5 83.4L46.5 84.6L42 85.6L39.5 87.2L37 88L34.5 86.5L31 84.5L27.5 82.5Z" fill="#9494E8" stroke="#9494E8" stroke-width="1.1" stroke-linejoin="round" vector-effect="non-scaling-stroke"/>
<path d="M80.4 127L85 125.6L90 126.2L93.8 127.6L93.5 131.5L93 134.5L89 136L85 136.6L82.5 134L82 130L80.3 128.8Z" fill="#C4C4C4" stroke="#C4C4C4" stroke-width="1.1" stroke-linejoin="round" vector-effect="non-scaling-stroke"/>
<path d="M91.6 129L96 126.8L101 126.2L104.5 124.5L105.5 122.8L108.5 122.3L112.2 122.8L110.5 124.8L108.5 126.5L108.8 130.5L106 133.5L101 135.6L96.5 135.3L92.5 133.5Z" fill="#C4C4C4" stroke="#C4C4C4" stroke-width="1.1" stroke-linejoin="round" vector-effect="non-scaling-stroke"/>
<path d="M93.8 123.5L97 122L100.5 122.6L100.3 126.2L96.5 127L93.9 126.2Z" fill="#C4C4C4" stroke="#C4C4C4" stroke-width="1.1" stroke-linejoin="round" vector-effect="non-scaling-stroke"/>
<path d="M88.2 121.5L91.5 120L93 118.2L95.6 118.3L95.8 121.5L95 125.5L91.5 126.2L88.5 125Z" fill="#C4C4C4" stroke="#C4C4C4" stroke-width="1.1" stroke-linejoin="round" vector-effect="non-scaling-stroke"/>
<path d="M106 119a1.8 2.4 0 1 0 3.6 0a1.8 2.4 0 1 0 -3.6 0z" fill="#C4C4C4" stroke="#C4C4C4" stroke-width="1.1" stroke-linejoin="round" vector-effect="non-scaling-stroke"/>
<path d="M86.2 116L86.9 115.8L89.3 118.8L88.7 119.3Z" fill="#C4C4C4" stroke="#C4C4C4" stroke-width="1.1" stroke-linejoin="round" vector-effect="non-scaling-stroke"/>
<path d="M136.8 81.2L141.5 80.4L141.7 81.6L137 82.2Z" fill="#C4C4C4" stroke="#C4C4C4" stroke-width="1.1" stroke-linejoin="round" vector-effect="non-scaling-stroke"/>
<path d="M128 132.1a0.9 0.8 0 1 0 1.8 0a0.9 0.8 0 1 0 -1.8 0z" fill="#C4C4C4" stroke="#C4C4C4" stroke-width="1.1" stroke-linejoin="round" vector-effect="non-scaling-stroke"/>
</g>
<path d="M431.1 369.4h0M429.6 366h0M431.5 365.6h0M426.4 368.2h0M427.3 370h0M431.4 370.3h0M431.1 370.1h0M431.6 369.2h0M416.3 365.6h0M419.2 370.2h0M419.7 370.2h0M383 382.6h0M387.3 383.9h0M385.8 384h0M384 382.8h0M385.9 384h0M387.2 382.7h0M384.1 382.9h0" stroke="#FFFFFF" stroke-width="0.64" stroke-linecap="round"/>
<path d="M427.5 370h0M430.6 368.8h0M430 369.8h0M429.8 366.5h0M426.3 367h0M429.9 367.7h0M430 366.6h0M431.2 366h0M430.9 368.3h0M431.3 369h0M432.3 368.4h0M429.4 367.2h0M430 367.1h0M430.7 369.6h0M431.7 367.8h0M415.4 365.9h0M417.3 365.9h0M416.3 366.7h0M423.1 370.1h0M427.2 371.1h0M425.6 370.9h0M386.3 385h0M383.6 382.7h0" stroke="#5a5af0" stroke-width="0.64" stroke-linecap="round"/>
<path d="M430.9 366.2h0M428.4 368.9h0M430.3 369.2h0M430.3 369.2h0M428.1 365.8h0M430.2 367.6h0M430.6 365.4h0M428.9 366.5h0M429.3 365.9h0M431.4 369.2h0M431.4 369.6h0M416.8 365.4h0M428.2 370.4h0M425.9 370.1h0M427 371.9h0M382.6 382.3h0M387.3 383.1h0M383.9 383.7h0M390.9 383.5h0M385.5 383.7h0" stroke="#7c7cf0" stroke-width="0.64" stroke-linecap="round"/>
<text x="411.2" y="360.83" font-size="6.2" font-weight="bold" font-style="italic" text-anchor="middle" >Ccl4</text>
<rect x="438.9" y="371.9" width="2.8" height="13.3" fill="url(#gB)"/>
<line x1="442.3" y1="372.9" x2="443.3" y2="372.9" stroke="#666" stroke-width="0.4"/>
<line x1="442.3" y1="375.72" x2="443.3" y2="375.72" stroke="#666" stroke-width="0.4"/>
<line x1="442.3" y1="378.55" x2="443.3" y2="378.55" stroke="#666" stroke-width="0.4"/>
<line x1="442.3" y1="381.38" x2="443.3" y2="381.38" stroke="#666" stroke-width="0.4"/>
<line x1="442.3" y1="384.2" x2="443.3" y2="384.2" stroke="#666" stroke-width="0.4"/>
<rect x="375.1" y="413.2" width="74.7" height="52.3" fill="#fff" stroke="#444" stroke-width="0.9"/>
<g transform="matrix(0.37 0 0 0.34 373.41 412.9)">
<path d="M96 80.2L99 80.6L103 81.5L104.5 84L104 90L106.5 93L107 96L105 95L102.5 91.5L102.6 83.5L99 82L96 81.6Z" fill="#C4C4C4" stroke="#C4C4C4" stroke-width="1.1" stroke-linejoin="round" vector-effect="non-scaling-stroke"/>
<path d="M115.5 87L118 88.5L122 92L125.8 97.5L124.8 99.3L121.5 96L117.5 92L115 90Z" fill="#C4C4C4" stroke="#C4C4C4" stroke-width="1.1" stroke-linejoin="round" vector-effect="non-scaling-stroke"/>
<path d="M104.2 78a7.8 7.4 0 1 0 15.6 0a7.8 7.4 0 1 0 -15.6 0z" fill="#C4C4C4" stroke="#C4C4C4" stroke-width="1.1" stroke-linejoin="round" vector-effect="non-scaling-stroke"/>
<path d="M108.5 71L110 68.3L111.5 71Z" fill="#C4C4C4" stroke="#C4C4C4" stroke-width="1.1" stroke-linejoin="round" vector-effect="non-scaling-stroke"/>
<path d="M104.8 84.2L110 85.8L118.6 84L117.8 89L115.5 92.5L113.5 96.5L111 97.4L108 96.8L106.3 92.5L105.5 88Z" fill="#C4C4C4" stroke="#C4C4C4" stroke-width="1.1" stroke-linejoin="round" vector-effect="non-scaling-stroke"/>
<path d="M128.3 44.2a8 6.9 0 1 0 16 0a8 6.9 0 1 0 -16 0z" fill="#9494E8" stroke="#9494E8" stroke-width="1.1" stroke-linejoin="round" vector-effect="non-scaling-stroke"/>
<path d="M136.2 47.5a4.3 4.2 0 1 0 8.6 0a4.3 4.2 0 1 0 -8.6 0z" fill="#9494E8" stroke="#9494E8" stroke-width="1.1" stroke-linejoin="round" vector-effect="non-scaling-stroke"/>
<path d="M88.8 48.5L92 47.2L95.5 47.4L98 48.6L100.8 51.2L99 53.5L97.6 55L97 58.3L95.6 57.8L95 55.5L92.5 54.2L89.5 53.2L88.6 51Z" fill="#C4C4C4" stroke="#C4C4C4" stroke-width="1.1" stroke-linejoin="round" vector-effect="non-scaling-stroke"/>
<path d="M104.5 38.5L107 37.6L110.5 38L111 41L108.5 42.5L106 42Z" fill="#B8B8D8" stroke="#B8B8D8" stroke-width="1.1" stroke-linejoin="round" vector-effect="non-scaling-stroke"/>
<path d="M105 41.5L108.5 41.8L109.5 46L110.5 49L107.5 49.5L106 46.5L104.2 44Z" fill="#C4C4C4" stroke="#C4C4C4" stroke-width="1.1" stroke-linejoin="round" vector-effect="non-scaling-stroke"/>
<path d="M107.2 47.8L111.5 47.6L113.2 49.8L112.5 52.2L108.8 52.3L107 50Z" fill="#C4C4C4" stroke="#C4C4C4" stroke-width="1.1" stroke-linejoin="round" vector-effect="non-scaling-stroke"/>
<path d="M112.5 49L118 48.6L124 47.8L128.5 47.5L128.8 51.2L124 52.5L118 53.5L115.5 55L113 53Z" fill="#C4C4C4" stroke="#C4C4C4" stroke-width="1.1" stroke-linejoin="round" vector-effect="non-scaling-stroke"/>
<path d="M127.5 48.2L133 48.5L135.8 50.3L134.5 53.3L130 54L127.3 52.5Z" fill="#B0B0DC" stroke="#B0B0DC" stroke-width="1.1" stroke-linejoin="round" vector-effect="non-scaling-stroke"/>
<path d="M120.3 57.2a1.1 1.2 0 1 0 2.2 0a1.1 1.2 0 1 0 -2.2 0z" fill="#C4C4C4" stroke="#C4C4C4" stroke-width="1.1" stroke-linejoin="round" vector-effect="non-scaling-stroke"/>
<path d="M98.6 37.2L101.2 36.4L101.6 38.3L99.2 38.6Z" fill="#C4C4C4" stroke="#C4C4C4" stroke-width="1.1" stroke-linejoin="round" vector-effect="non-scaling-stroke"/>
<path d="M78.2 1.4L80.8 2.6L80.6 3.4L78 2.3Z" fill="#C4C4C4" stroke="#C4C4C4" stroke-width="1.1" stroke-linejoin="round" vector-effect="non-scaling-stroke"/>
<path d="M51.6 56.8L53.6 55.6L56.5 56.2L59 57.8L61.5 60.2L61.8 62L59.8 61.8L56.5 60.5L53 59.8L51.5 58.5Z" fill="#C4C4C4" stroke="#C4C4C4" stroke-width="1.1" stroke-linejoin="round" vector-effect="non-scaling-stroke"/>
<path d="M59.6 62.5a1.2 1 0 1 0 2.4 0a1.2 1 0 1 0 -2.4 0z" fill="#C4C4C4" stroke="#C4C4C4" stroke-width="1.1" stroke-linejoin="round" vector-effect="non-scaling-stroke"/>
<path d="M27 80.6L30.5 80.2L34 81.4L38 83.4L42 83.6L46.5 83.4L46.5 84.6L42 85.6L39.5 87.2L37 88L34.5 86.5L31 84.5L27.5 82.5Z" fill="#C4C4C4" stroke="#C4C4C4" stroke-width="1.1" stroke-linejoin="round" vector-effect="non-scaling-stroke"/>
<path d="M80.4 127L85 125.6L90 126.2L93.8 127.6L93.5 131.5L93 134.5L89 136L85 136.6L82.5 134L82 130L80.3 128.8Z" fill="#C4C4C4" stroke="#C4C4C4" stroke-width="1.1" stroke-linejoin="round" vector-effect="non-scaling-stroke"/>
<path d="M91.6 129L96 126.8L101 126.2L104.5 124.5L105.5 122.8L108.5 122.3L112.2 122.8L110.5 124.8L108.5 126.5L108.8 130.5L106 133.5L101 135.6L96.5 135.3L92.5 133.5Z" fill="#C4C4C4" stroke="#C4C4C4" stroke-width="1.1" stroke-linejoin="round" vector-effect="non-scaling-stroke"/>
<path d="M93.8 123.5L97 122L100.5 122.6L100.3 126.2L96.5 127L93.9 126.2Z" fill="#C4C4C4" stroke="#C4C4C4" stroke-width="1.1" stroke-linejoin="round" vector-effect="non-scaling-stroke"/>
<path d="M88.2 121.5L91.5 120L93 118.2L95.6 118.3L95.8 121.5L95 125.5L91.5 126.2L88.5 125Z" fill="#C4C4C4" stroke="#C4C4C4" stroke-width="1.1" stroke-linejoin="round" vector-effect="non-scaling-stroke"/>
<path d="M106 119a1.8 2.4 0 1 0 3.6 0a1.8 2.4 0 1 0 -3.6 0z" fill="#C4C4C4" stroke="#C4C4C4" stroke-width="1.1" stroke-linejoin="round" vector-effect="non-scaling-stroke"/>
<path d="M86.2 116L86.9 115.8L89.3 118.8L88.7 119.3Z" fill="#C4C4C4" stroke="#C4C4C4" stroke-width="1.1" stroke-linejoin="round" vector-effect="non-scaling-stroke"/>
<path d="M136.8 81.2L141.5 80.4L141.7 81.6L137 82.2Z" fill="#C4C4C4" stroke="#C4C4C4" stroke-width="1.1" stroke-linejoin="round" vector-effect="non-scaling-stroke"/>
<path d="M128 132.1a0.9 0.8 0 1 0 1.8 0a0.9 0.8 0 1 0 -1.8 0z" fill="#C4C4C4" stroke="#C4C4C4" stroke-width="1.1" stroke-linejoin="round" vector-effect="non-scaling-stroke"/>
</g>
<path d="M424.2 428h0M426 427h0M422.7 428.6h0M422.2 427.8h0M424.3 427.7h0M424.5 426.6h0M425.2 426.8h0M424.3 425.8h0M424.8 428.7h0M424.7 429.4h0M424.7 429.6h0M413.9 426.3h0M421.1 429.4h0" stroke="#5a5af0" stroke-width="0.64" stroke-linecap="round"/>
<path d="M422.7 427.4h0M423.6 427.2h0M424.8 426.7h0M426.6 429.6h0M422.5 427.5h0M421.4 428.5h0M425.8 429.2h0M425.5 428h0M425.4 427.3h0M423.6 427.8h0M424.9 426.7h0M420.7 427h0M423.5 429.3h0M427 429.2h0M413.4 426.4h0M422.8 431h0" stroke="#FFFFFF" stroke-width="0.64" stroke-linecap="round"/>
<path d="M426.5 428.9h0M425.6 429.3h0M423.1 426.4h0M420.9 429h0M422 427.3h0M424 429.8h0M424.8 426.4h0M426.3 428.8h0M423.9 428.8h0M425.4 429.1h0M425 430.9h0M425.5 430.3h0M425.9 430.4h0M422.6 430.5h0M422.2 430.5h0M421.2 431.4h0" stroke="#7c7cf0" stroke-width="0.64" stroke-linecap="round"/>
<text x="411.2" y="418.83" font-size="6.2" font-weight="bold" font-style="italic" text-anchor="middle" >Xcl1</text>
<rect x="433.3" y="431.7" width="2" height="11.5" fill="url(#gB)"/>
<line x1="435.9" y1="432.7" x2="436.9" y2="432.7" stroke="#666" stroke-width="0.4"/>
<line x1="435.9" y1="435.07" x2="436.9" y2="435.07" stroke="#666" stroke-width="0.4"/>
<line x1="435.9" y1="437.45" x2="436.9" y2="437.45" stroke="#666" stroke-width="0.4"/>
<line x1="435.9" y1="439.82" x2="436.9" y2="439.82" stroke="#666" stroke-width="0.4"/>
<line x1="435.9" y1="442.2" x2="436.9" y2="442.2" stroke="#666" stroke-width="0.4"/>
<line x1="347.8" y1="473.6" x2="347.8" y2="458.2" stroke="#999" stroke-width="0.9"/>
<line x1="347.35" y1="473.6" x2="364.5" y2="473.6" stroke="#999" stroke-width="0.9"/>
<path d="M344.3 458.7L347.8 450.6L351.3 458.7Z" fill="#000"/>
<path d="M364 470.1L372.1 473.6L364 477.1Z" fill="#000"/>
<text x="343.5" y="480.16" font-size="5.45" fill="#222" >UMAP1</text>
<text transform="translate(341.6 463.2) rotate(-90)" x="0" y="2.02" font-size="5.6" fill="#222" text-anchor="middle" >UMAP2</text>
<text x="322.2" y="350.85" font-size="5.7"  >% Expressing</text>
<circle cx="326" cy="356.2" r="1.4" fill="#000"/>
<text x="330.8" y="358" font-size="5"  >25</text>
<circle cx="326" cy="362.6" r="1.85" fill="#000"/>
<text x="330.8" y="364.4" font-size="5"  >50</text>
<circle cx="326" cy="368.6" r="2.3" fill="#000"/>
<text x="330.8" y="370.4" font-size="5"  >75</text>
<text x="322.3" y="381.95" font-size="5.7"  >Average expression</text>
<rect x="322.3" y="385" width="6.2" height="29.3" fill="url(#gR)"/>
<text x="331.5" y="387.5" font-size="5"  >4</text>
<text x="331.5" y="394.4" font-size="5"  >3</text>
<text x="331.5" y="401.8" font-size="5"  >2</text>
<text x="331.5" y="409.2" font-size="5"  >1</text>
<text x="331.5" y="416.8" font-size="5"  >0</text>
<rect x="609.8" y="304.5" width="74.9" height="51.6" fill="#fff" stroke="#333" stroke-width="0.9"/>
<g transform="matrix(0.52 0 0 0.29 596.56 311.97)">
<path d="M96 80.2L99 80.6L103 81.5L104.5 84L104 90L106.5 93L107 96L105 95L102.5 91.5L102.6 83.5L99 82L96 81.6Z" fill="#C4C4C4" stroke="#C4C4C4" stroke-width="1.1" stroke-linejoin="round" vector-effect="non-scaling-stroke"/>
<path d="M115.5 87L118 88.5L122 92L125.8 97.5L124.8 99.3L121.5 96L117.5 92L115 90Z" fill="#C4C4C4" stroke="#C4C4C4" stroke-width="1.1" stroke-linejoin="round" vector-effect="non-scaling-stroke"/>
<path d="M104.2 78a7.8 7.4 0 1 0 15.6 0a7.8 7.4 0 1 0 -15.6 0z" fill="#C4C4C4" stroke="#C4C4C4" stroke-width="1.1" stroke-linejoin="round" vector-effect="non-scaling-stroke"/>
<path d="M108.5 71L110 68.3L111.5 71Z" fill="#C4C4C4" stroke="#C4C4C4" stroke-width="1.1" stroke-linejoin="round" vector-effect="non-scaling-stroke"/>
<path d="M104.8 84.2L110 85.8L118.6 84L117.8 89L115.5 92.5L113.5 96.5L111 97.4L108 96.8L106.3 92.5L105.5 88Z" fill="#C4C4C4" stroke="#C4C4C4" stroke-width="1.1" stroke-linejoin="round" vector-effect="non-scaling-stroke"/>
<path d="M128.3 44.2a8 6.9 0 1 0 16 0a8 6.9 0 1 0 -16 0z" fill="#C4C4C4" stroke="#C4C4C4" stroke-width="1.1" stroke-linejoin="round" vector-effect="non-scaling-stroke"/>
<path d="M136.2 47.5a4.3 4.2 0 1 0 8.6 0a4.3 4.2 0 1 0 -8.6 0z" fill="#C4C4C4" stroke="#C4C4C4" stroke-width="1.1" stroke-linejoin="round" vector-effect="non-scaling-stroke"/>
<path d="M88.8 48.5L92 47.2L95.5 47.4L98 48.6L100.8 51.2L99 53.5L97.6 55L97 58.3L95.6 57.8L95 55.5L92.5 54.2L89.5 53.2L88.6 51Z" fill="#C4C4C4" stroke="#C4C4C4" stroke-width="1.1" stroke-linejoin="round" vector-effect="non-scaling-stroke"/>
<path d="M104.5 38.5L107 37.6L110.5 38L111 41L108.5 42.5L106 42Z" fill="#A8A8DC" stroke="#A8A8DC" stroke-width="1.1" stroke-linejoin="round" vector-effect="non-scaling-stroke"/>
<path d="M105 41.5L108.5 41.8L109.5 46L110.5 49L107.5 49.5L106 46.5L104.2 44Z" fill="#C4C4C4" stroke="#C4C4C4" stroke-width="1.1" stroke-linejoin="round" vector-effect="non-scaling-stroke"/>
<path d="M107.2 47.8L111.5 47.6L113.2 49.8L112.5 52.2L108.8 52.3L107 50Z" fill="#C4C4C4" stroke="#C4C4C4" stroke-width="1.1" stroke-linejoin="round" vector-effect="non-scaling-stroke"/>
<path d="M112.5 49L118 48.6L124 47.8L128.5 47.5L128.8 51.2L124 52.5L118 53.5L115.5 55L113 53Z" fill="#C4C4C4" stroke="#C4C4C4" stroke-width="1.1" stroke-linejoin="round" vector-effect="non-scaling-stroke"/>
<path d="M127.5 48.2L133 48.5L135.8 50.3L134.5 53.3L130 54L127.3 52.5Z" fill="#C4C4C4" stroke="#C4C4C4" stroke-width="1.1" stroke-linejoin="round" vector-effect="non-scaling-stroke"/>
<path d="M120.3 57.2a1.1 1.2 0 1 0 2.2 0a1.1 1.2 0 1 0 -2.2 0z" fill="#C4C4C4" stroke="#C4C4C4" stroke-width="1.1" stroke-linejoin="round" vector-effect="non-scaling-stroke"/>
<path d="M98.6 37.2L101.2 36.4L101.6 38.3L99.2 38.6Z" fill="#C4C4C4" stroke="#C4C4C4" stroke-width="1.1" stroke-linejoin="round" vector-effect="non-scaling-stroke"/>
<path d="M78.2 1.4L80.8 2.6L80.6 3.4L78 2.3Z" fill="#C4C4C4" stroke="#C4C4C4" stroke-width="1.1" stroke-linejoin="round" vector-effect="non-scaling-stroke"/>
<path d="M51.6 56.8L53.6 55.6L56.5 56.2L59 57.8L61.5 60.2L61.8 62L59.8 61.8L56.5 60.5L53 59.8L51.5 58.5Z" fill="#C4C4C4" stroke="#C4C4C4" stroke-width="1.1" stroke-linejoin="round" vector-effect="non-scaling-stroke"/>
<path d="M59.6 62.5a1.2 1 0 1 0 2.4 0a1.2 1 0 1 0 -2.4 0z" fill="#C4C4C4" stroke="#C4C4C4" stroke-width="1.1" stroke-linejoin="round" vector-effect="non-scaling-stroke"/>
<path d="M27 80.6L30.5 80.2L34 81.4L38 83.4L42 83.6L46.5 83.4L46.5 84.6L42 85.6L39.5 87.2L37 88L34.5 86.5L31 84.5L27.5 82.5Z" fill="#9C9CE6" stroke="#9C9CE6" stroke-width="1.1" stroke-linejoin="round" vector-effect="non-scaling-stroke"/>
<path d="M80.4 127L85 125.6L90 126.2L93.8 127.6L93.5 131.5L93 134.5L89 136L85 136.6L82.5 134L82 130L80.3 128.8Z" fill="#ACACDC" stroke="#ACACDC" stroke-width="1.1" stroke-linejoin="round" vector-effect="non-scaling-stroke"/>
<path d="M91.6 129L96 126.8L101 126.2L104.5 124.5L105.5 122.8L108.5 122.3L112.2 122.8L110.5 124.8L108.5 126.5L108.8 130.5L106 133.5L101 135.6L96.5 135.3L92.5 133.5Z" fill="#A8A8DC" stroke="#A8A8DC" stroke-width="1.1" stroke-linejoin="round" vector-effect="non-scaling-stroke"/>
<path d="M93.8 123.5L97 122L100.5 122.6L100.3 126.2L96.5 127L93.9 126.2Z" fill="#C4C4C4" stroke="#C4C4C4" stroke-width="1.1" stroke-linejoin="round" vector-effect="non-scaling-stroke"/>
<path d="M88.2 121.5L91.5 120L93 118.2L95.6 118.3L95.8 121.5L95 125.5L91.5 126.2L88.5 125Z" fill="#A8A8DC" stroke="#A8A8DC" stroke-width="1.1" stroke-linejoin="round" vector-effect="non-scaling-stroke"/>
<path d="M106 119a1.8 2.4 0 1 0 3.6 0a1.8 2.4 0 1 0 -3.6 0z" fill="#C4C4C4" stroke="#C4C4C4" stroke-width="1.1" stroke-linejoin="round" vector-effect="non-scaling-stroke"/>
<path d="M86.2 116L86.9 115.8L89.3 118.8L88.7 119.3Z" fill="#C4C4C4" stroke="#C4C4C4" stroke-width="1.1" stroke-linejoin="round" vector-effect="non-scaling-stroke"/>
<path d="M136.8 81.2L141.5 80.4L141.7 81.6L137 82.2Z" fill="#C4C4C4" stroke="#C4C4C4" stroke-width="1.1" stroke-linejoin="round" vector-effect="non-scaling-stroke"/>
<path d="M128 132.1a0.9 0.8 0 1 0 1.8 0a0.9 0.8 0 1 0 -1.8 0z" fill="#A8A8DC" stroke="#A8A8DC" stroke-width="1.1" stroke-linejoin="round" vector-effect="non-scaling-stroke"/>
</g>
<path d="M651.3 322.9h0M651.6 323.5h0M614.6 335.9h0M619.5 336h0M612.2 336.2h0M642.8 348.4h0M640.4 350.6h0M644.4 349.8h0M643.5 348.7h0M645.1 348.7h0M652.1 348h0M648.8 349.7h0M649.7 350.5h0M643.8 346.7h0M645.3 346.3h0M646.1 346.3h0" stroke="#5a5af0" stroke-width="0.64" stroke-linecap="round"/>
<path d="M611.2 335.3h0M613.5 336h0M639.2 349.5h0M639.7 349.9h0M652.5 348.4h0M650.6 349.1h0M652.6 349.7h0M645.2 348.1h0M644.2 347.3h0M643.9 348.2h0" stroke="#FFFFFF" stroke-width="0.64" stroke-linecap="round"/>
<path d="M611.4 335.7h0M615.6 336.6h0M642.1 349h0M645.1 349.2h0M641.7 350h0M642 350h0M650 349.1h0M653.9 347.4h0M647.4 350.3h0M649.8 351h0M654.1 347.6h0M653.4 347.3h0M644.1 346.6h0" stroke="#7c7cf0" stroke-width="0.64" stroke-linecap="round"/>
<text x="647.2" y="310.63" font-size="6.2" font-weight="bold" font-style="italic" text-anchor="middle" >Cd80</text>
<rect x="675.1" y="329.9" width="2.3" height="15.8" fill="url(#gB)"/>
<line x1="678" y1="330.9" x2="679" y2="330.9" stroke="#666" stroke-width="0.4"/>
<line x1="678" y1="334.35" x2="679" y2="334.35" stroke="#666" stroke-width="0.4"/>
<line x1="678" y1="337.8" x2="679" y2="337.8" stroke="#666" stroke-width="0.4"/>
<line x1="678" y1="341.25" x2="679" y2="341.25" stroke="#666" stroke-width="0.4"/>
<line x1="678" y1="344.7" x2="679" y2="344.7" stroke="#666" stroke-width="0.4"/>
<rect x="609.8" y="360.6" width="74.9" height="51.7" fill="#fff" stroke="#333" stroke-width="0.9"/>
<g transform="matrix(0.51 0 0 0.3 597.13 366.06)">
<path d="M96 80.2L99 80.6L103 81.5L104.5 84L104 90L106.5 93L107 96L105 95L102.5 91.5L102.6 83.5L99 82L96 81.6Z" fill="#C4C4C4" stroke="#C4C4C4" stroke-width="1.1" stroke-linejoin="round" vector-effect="non-scaling-stroke"/>
<path d="M115.5 87L118 88.5L122 92L125.8 97.5L124.8 99.3L121.5 96L117.5 92L115 90Z" fill="#C4C4C4" stroke="#C4C4C4" stroke-width="1.1" stroke-linejoin="round" vector-effect="non-scaling-stroke"/>
<path d="M104.2 78a7.8 7.4 0 1 0 15.6 0a7.8 7.4 0 1 0 -15.6 0z" fill="#C4C4C4" stroke="#C4C4C4" stroke-width="1.1" stroke-linejoin="round" vector-effect="non-scaling-stroke"/>
<path d="M108.5 71L110 68.3L111.5 71Z" fill="#C4C4C4" stroke="#C4C4C4" stroke-width="1.1" stroke-linejoin="round" vector-effect="non-scaling-stroke"/>
<path d="M104.8 84.2L110 85.8L118.6 84L117.8 89L115.5 92.5L113.5 96.5L111 97.4L108 96.8L106.3 92.5L105.5 88Z" fill="#C4C4C4" stroke="#C4C4C4" stroke-width="1.1" stroke-linejoin="round" vector-effect="non-scaling-stroke"/>
<path d="M128.3 44.2a8 6.9 0 1 0 16 0a8 6.9 0 1 0 -16 0z" fill="#C4C4C4" stroke="#C4C4C4" stroke-width="1.1" stroke-linejoin="round" vector-effect="non-scaling-stroke"/>
<path d="M136.2 47.5a4.3 4.2 0 1 0 8.6 0a4.3 4.2 0 1 0 -8.6 0z" fill="#C4C4C4" stroke="#C4C4C4" stroke-width="1.1" stroke-linejoin="round" vector-effect="non-scaling-stroke"/>
<path d="M88.8 48.5L92 47.2L95.5 47.4L98 48.6L100.8 51.2L99 53.5L97.6 55L97 58.3L95.6 57.8L95 55.5L92.5 54.2L89.5 53.2L88.6 51Z" fill="#C4C4C4" stroke="#C4C4C4" stroke-width="1.1" stroke-linejoin="round" vector-effect="non-scaling-stroke"/>
<path d="M104.5 38.5L107 37.6L110.5 38L111 41L108.5 42.5L106 42Z" fill="#C4C4C4" stroke="#C4C4C4" stroke-width="1.1" stroke-linejoin="round" vector-effect="non-scaling-stroke"/>
<path d="M105 41.5L108.5 41.8L109.5 46L110.5 49L107.5 49.5L106 46.5L104.2 44Z" fill="#C4C4C4" stroke="#C4C4C4" stroke-width="1.1" stroke-linejoin="round" vector-effect="non-scaling-stroke"/>
<path d="M107.2 47.8L111.5 47.6L113.2 49.8L112.5 52.2L108.8 52.3L107 50Z" fill="#C4C4C4" stroke="#C4C4C4" stroke-width="1.1" stroke-linejoin="round" vector-effect="non-scaling-stroke"/>
<path d="M112.5 49L118 48.6L124 47.8L128.5 47.5L128.8 51.2L124 52.5L118 53.5L115.5 55L113 53Z" fill="#C4C4C4" stroke="#C4C4C4" stroke-width="1.1" stroke-linejoin="round" vector-effect="non-scaling-stroke"/>
<path d="M127.5 48.2L133 48.5L135.8 50.3L134.5 53.3L130 54L127.3 52.5Z" fill="#C4C4C4" stroke="#C4C4C4" stroke-width="1.1" stroke-linejoin="round" vector-effect="non-scaling-stroke"/>
<path d="M120.3 57.2a1.1 1.2 0 1 0 2.2 0a1.1 1.2 0 1 0 -2.2 0z" fill="#C4C4C4" stroke="#C4C4C4" stroke-width="1.1" stroke-linejoin="round" vector-effect="non-scaling-stroke"/>
<path d="M98.6 37.2L101.2 36.4L101.6 38.3L99.2 38.6Z" fill="#C4C4C4" stroke="#C4C4C4" stroke-width="1.1" stroke-linejoin="round" vector-effect="non-scaling-stroke"/>
<path d="M78.2 1.4L80.8 2.6L80.6 3.4L78 2.3Z" fill="#C4C4C4" stroke="#C4C4C4" stroke-width="1.1" stroke-linejoin="round" vector-effect="non-scaling-stroke"/>
<path d="M51.6 56.8L53.6 55.6L56.5 56.2L59 57.8L61.5 60.2L61.8 62L59.8 61.8L56.5 60.5L53 59.8L51.5 58.5Z" fill="#6C6CF0" stroke="#6C6CF0" stroke-width="1.1" stroke-linejoin="round" vector-effect="non-scaling-stroke"/>
<path d="M59.6 62.5a1.2 1 0 1 0 2.4 0a1.2 1 0 1 0 -2.4 0z" fill="#C4C4C4" stroke="#C4C4C4" stroke-width="1.1" stroke-linejoin="round" vector-effect="non-scaling-stroke"/>
<path d="M27 80.6L30.5 80.2L34 81.4L38 83.4L42 83.6L46.5 83.4L46.5 84.6L42 85.6L39.5 87.2L37 88L34.5 86.5L31 84.5L27.5 82.5Z" fill="#C4C4C4" stroke="#C4C4C4" stroke-width="1.1" stroke-linejoin="round" vector-effect="non-scaling-stroke"/>
<path d="M80.4 127L85 125.6L90 126.2L93.8 127.6L93.5 131.5L93 134.5L89 136L85 136.6L82.5 134L82 130L80.3 128.8Z" fill="#A4A4E0" stroke="#A4A4E0" stroke-width="1.1" stroke-linejoin="round" vector-effect="non-scaling-stroke"/>
<path d="M91.6 129L96 126.8L101 126.2L104.5 124.5L105.5 122.8L108.5 122.3L112.2 122.8L110.5 124.8L108.5 126.5L108.8 130.5L106 133.5L101 135.6L96.5 135.3L92.5 133.5Z" fill="#9C9CE2" stroke="#9C9CE2" stroke-width="1.1" stroke-linejoin="round" vector-effect="non-scaling-stroke"/>
<path d="M93.8 123.5L97 122L100.5 122.6L100.3 126.2L96.5 127L93.9 126.2Z" fill="#C4C4C4" stroke="#C4C4C4" stroke-width="1.1" stroke-linejoin="round" vector-effect="non-scaling-stroke"/>
<path d="M88.2 121.5L91.5 120L93 118.2L95.6 118.3L95.8 121.5L95 125.5L91.5 126.2L88.5 125Z" fill="#A4A4E0" stroke="#A4A4E0" stroke-width="1.1" stroke-linejoin="round" vector-effect="non-scaling-stroke"/>
<path d="M106 119a1.8 2.4 0 1 0 3.6 0a1.8 2.4 0 1 0 -3.6 0z" fill="#C4C4C4" stroke="#C4C4C4" stroke-width="1.1" stroke-linejoin="round" vector-effect="non-scaling-stroke"/>
<path d="M86.2 116L86.9 115.8L89.3 118.8L88.7 119.3Z" fill="#C4C4C4" stroke="#C4C4C4" stroke-width="1.1" stroke-linejoin="round" vector-effect="non-scaling-stroke"/>
<path d="M136.8 81.2L141.5 80.4L141.7 81.6L137 82.2Z" fill="#C4C4C4" stroke="#C4C4C4" stroke-width="1.1" stroke-linejoin="round" vector-effect="non-scaling-stroke"/>
<path d="M128 132.1a0.9 0.8 0 1 0 1.8 0a0.9 0.8 0 1 0 -1.8 0z" fill="#A4A4E0" stroke="#A4A4E0" stroke-width="1.1" stroke-linejoin="round" vector-effect="non-scaling-stroke"/>
</g>
<path d="M626.3 383.9h0M623.9 383.5h0M626.3 383.6h0M628.5 384.8h0M641.2 407.4h0M638.8 405h0M643.2 404.7h0M645.1 406h0M650.8 406.8h0M647.2 404.8h0M645.7 406.4h0M645.3 406.3h0M645.2 406.4h0M644.7 405.2h0M642.6 403.7h0M643 404.2h0" stroke="#FFFFFF" stroke-width="0.64" stroke-linecap="round"/>
<path d="M627 384.2h0M629.2 385h0M624.2 383.9h0M643.9 407.3h0M638.6 404.2h0M642.3 406.7h0M647.6 404.6h0M647.5 405.3h0M645 406.6h0M650.3 405.5h0M653.9 403.6h0M648.6 405.4h0M646.8 406.7h0M651.2 405.7h0M651.2 405.5h0M642.6 403.2h0" stroke="#7c7cf0" stroke-width="0.64" stroke-linecap="round"/>
<path d="M625.5 383.2h0M641.6 407.8h0M642 407.8h0M640.2 405.3h0M640 407h0M644.1 405.6h0M649.7 405.9h0M648 405.9h0M645.8 407.1h0M651.2 403.9h0M653.1 404.3h0M646 405h0M652.5 403.7h0M648 407h0M644.8 404.9h0M652 405.5h0M642.6 404.1h0M644.1 402.7h0" stroke="#5a5af0" stroke-width="0.64" stroke-linecap="round"/>
<text x="649.6" y="366.83" font-size="6.2" font-weight="bold" font-style="italic" text-anchor="middle" >Cd83</text>
<rect x="675" y="386" width="3" height="15.7" fill="url(#gB)"/>
<line x1="678.6" y1="387" x2="679.6" y2="387" stroke="#666" stroke-width="0.4"/>
<line x1="678.6" y1="390.43" x2="679.6" y2="390.43" stroke="#666" stroke-width="0.4"/>
<line x1="678.6" y1="393.85" x2="679.6" y2="393.85" stroke="#666" stroke-width="0.4"/>
<line x1="678.6" y1="397.27" x2="679.6" y2="397.27" stroke="#666" stroke-width="0.4"/>
<line x1="678.6" y1="400.7" x2="679.6" y2="400.7" stroke="#666" stroke-width="0.4"/>
<rect x="609.8" y="418.6" width="74.9" height="51.7" fill="#fff" stroke="#333" stroke-width="0.9"/>
<g transform="matrix(0.51 0 0 0.3 599.6 423.35)">
<path d="M96 80.2L99 80.6L103 81.5L104.5 84L104 90L106.5 93L107 96L105 95L102.5 91.5L102.6 83.5L99 82L96 81.6Z" fill="#C4C4C4" stroke="#C4C4C4" stroke-width="1.1" stroke-linejoin="round" vector-effect="non-scaling-stroke"/>
<path d="M115.5 87L118 88.5L122 92L125.8 97.5L124.8 99.3L121.5 96L117.5 92L115 90Z" fill="#C4C4C4" stroke="#C4C4C4" stroke-width="1.1" stroke-linejoin="round" vector-effect="non-scaling-stroke"/>
<path d="M104.2 78a7.8 7.4 0 1 0 15.6 0a7.8 7.4 0 1 0 -15.6 0z" fill="#C4C4C4" stroke="#C4C4C4" stroke-width="1.1" stroke-linejoin="round" vector-effect="non-scaling-stroke"/>
<path d="M108.5 71L110 68.3L111.5 71Z" fill="#C4C4C4" stroke="#C4C4C4" stroke-width="1.1" stroke-linejoin="round" vector-effect="non-scaling-stroke"/>
<path d="M104.8 84.2L110 85.8L118.6 84L117.8 89L115.5 92.5L113.5 96.5L111 97.4L108 96.8L106.3 92.5L105.5 88Z" fill="#C4C4C4" stroke="#C4C4C4" stroke-width="1.1" stroke-linejoin="round" vector-effect="non-scaling-stroke"/>
<path d="M128.3 44.2a8 6.9 0 1 0 16 0a8 6.9 0 1 0 -16 0z" fill="#C4C4C4" stroke="#C4C4C4" stroke-width="1.1" stroke-linejoin="round" vector-effect="non-scaling-stroke"/>
<path d="M136.2 47.5a4.3 4.2 0 1 0 8.6 0a4.3 4.2 0 1 0 -8.6 0z" fill="#C4C4C4" stroke="#C4C4C4" stroke-width="1.1" stroke-linejoin="round" vector-effect="non-scaling-stroke"/>
<path d="M88.8 48.5L92 47.2L95.5 47.4L98 48.6L100.8 51.2L99 53.5L97.6 55L97 58.3L95.6 57.8L95 55.5L92.5 54.2L89.5 53.2L88.6 51Z" fill="#C4C4C4" stroke="#C4C4C4" stroke-width="1.1" stroke-linejoin="round" vector-effect="non-scaling-stroke"/>
<path d="M104.5 38.5L107 37.6L110.5 38L111 41L108.5 42.5L106 42Z" fill="#C4C4C4" stroke="#C4C4C4" stroke-width="1.1" stroke-linejoin="round" vector-effect="non-scaling-stroke"/>
<path d="M105 41.5L108.5 41.8L109.5 46L110.5 49L107.5 49.5L106 46.5L104.2 44Z" fill="#C4C4C4" stroke="#C4C4C4" stroke-width="1.1" stroke-linejoin="round" vector-effect="non-scaling-stroke"/>
<path d="M107.2 47.8L111.5 47.6L113.2 49.8L112.5 52.2L108.8 52.3L107 50Z" fill="#C4C4C4" stroke="#C4C4C4" stroke-width="1.1" stroke-linejoin="round" vector-effect="non-scaling-stroke"/>
<path d="M112.5 49L118 48.6L124 47.8L128.5 47.5L128.8 51.2L124 52.5L118 53.5L115.5 55L113 53Z" fill="#C4C4C4" stroke="#C4C4C4" stroke-width="1.1" stroke-linejoin="round" vector-effect="non-scaling-stroke"/>
<path d="M127.5 48.2L133 48.5L135.8 50.3L134.5 53.3L130 54L127.3 52.5Z" fill="#C4C4C4" stroke="#C4C4C4" stroke-width="1.1" stroke-linejoin="round" vector-effect="non-scaling-stroke"/>
<path d="M120.3 57.2a1.1 1.2 0 1 0 2.2 0a1.1 1.2 0 1 0 -2.2 0z" fill="#C4C4C4" stroke="#C4C4C4" stroke-width="1.1" stroke-linejoin="round" vector-effect="non-scaling-stroke"/>
<path d="M98.6 37.2L101.2 36.4L101.6 38.3L99.2 38.6Z" fill="#C4C4C4" stroke="#C4C4C4" stroke-width="1.1" stroke-linejoin="round" vector-effect="non-scaling-stroke"/>
<path d="M78.2 1.4L80.8 2.6L80.6 3.4L78 2.3Z" fill="#C4C4C4" stroke="#C4C4C4" stroke-width="1.1" stroke-linejoin="round" vector-effect="non-scaling-stroke"/>
<path d="M51.6 56.8L53.6 55.6L56.5 56.2L59 57.8L61.5 60.2L61.8 62L59.8 61.8L56.5 60.5L53 59.8L51.5 58.5Z" fill="#7474F0" stroke="#7474F0" stroke-width="1.1" stroke-linejoin="round" vector-effect="non-scaling-stroke"/>
<path d="M59.6 62.5a1.2 1 0 1 0 2.4 0a1.2 1 0 1 0 -2.4 0z" fill="#C4C4C4" stroke="#C4C4C4" stroke-width="1.1" stroke-linejoin="round" vector-effect="non-scaling-stroke"/>
<path d="M27 80.6L30.5 80.2L34 81.4L38 83.4L42 83.6L46.5 83.4L46.5 84.6L42 85.6L39.5 87.2L37 88L34.5 86.5L31 84.5L27.5 82.5Z" fill="#C4C4C4" stroke="#C4C4C4" stroke-width="1.1" stroke-linejoin="round" vector-effect="non-scaling-stroke"/>
<path d="M80.4 127L85 125.6L90 126.2L93.8 127.6L93.5 131.5L93 134.5L89 136L85 136.6L82.5 134L82 130L80.3 128.8Z" fill="#A8A8E0" stroke="#A8A8E0" stroke-width="1.1" stroke-linejoin="round" vector-effect="non-scaling-stroke"/>
<path d="M91.6 129L96 126.8L101 126.2L104.5 124.5L105.5 122.8L108.5 122.3L112.2 122.8L110.5 124.8L108.5 126.5L108.8 130.5L106 133.5L101 135.6L96.5 135.3L92.5 133.5Z" fill="#A4A4E0" stroke="#A4A4E0" stroke-width="1.1" stroke-linejoin="round" vector-effect="non-scaling-stroke"/>
<path d="M93.8 123.5L97 122L100.5 122.6L100.3 126.2L96.5 127L93.9 126.2Z" fill="#C4C4C4" stroke="#C4C4C4" stroke-width="1.1" stroke-linejoin="round" vector-effect="non-scaling-stroke"/>
<path d="M88.2 121.5L91.5 120L93 118.2L95.6 118.3L95.8 121.5L95 125.5L91.5 126.2L88.5 125Z" fill="#A8A8E0" stroke="#A8A8E0" stroke-width="1.1" stroke-linejoin="round" vector-effect="non-scaling-stroke"/>
<path d="M106 119a1.8 2.4 0 1 0 3.6 0a1.8 2.4 0 1 0 -3.6 0z" fill="#C4C4C4" stroke="#C4C4C4" stroke-width="1.1" stroke-linejoin="round" vector-effect="non-scaling-stroke"/>
<path d="M86.2 116L86.9 115.8L89.3 118.8L88.7 119.3Z" fill="#C4C4C4" stroke="#C4C4C4" stroke-width="1.1" stroke-linejoin="round" vector-effect="non-scaling-stroke"/>
<path d="M136.8 81.2L141.5 80.4L141.7 81.6L137 82.2Z" fill="#C4C4C4" stroke="#C4C4C4" stroke-width="1.1" stroke-linejoin="round" vector-effect="non-scaling-stroke"/>
<path d="M128 132.1a0.9 0.8 0 1 0 1.8 0a0.9 0.8 0 1 0 -1.8 0z" fill="#A8A8E0" stroke="#A8A8E0" stroke-width="1.1" stroke-linejoin="round" vector-effect="non-scaling-stroke"/>
</g>
<path d="M626.8 440h0M628.7 440.8h0M626.2 440.1h0M627.4 441.1h0M644.1 464h0M642.8 463.3h0M643.7 463.8h0M645.4 463.3h0M645.9 461.8h0M644.2 463.8h0M648.8 463.5h0M653.5 461.4h0M645.7 460.7h0" stroke="#7c7cf0" stroke-width="0.64" stroke-linecap="round"/>
<path d="M627.1 441.5h0M626.3 440.2h0M628.5 440.9h0M643.4 461.9h0M644.7 462.9h0M642.6 464.7h0M653.9 461.9h0M653.7 464.1h0M646 463.2h0M651.8 463.6h0M649.4 462.3h0M646.7 460.5h0" stroke="#FFFFFF" stroke-width="0.64" stroke-linecap="round"/>
<path d="M628.2 441.1h0M645.5 461.6h0M641.9 462.2h0M642.8 461.3h0M651.3 463.5h0M647.5 463.3h0M653.9 463.5h0M648.4 461.5h0M654.8 461h0M645.8 461h0M646.4 459.6h0" stroke="#5a5af0" stroke-width="0.64" stroke-linecap="round"/>
<text x="648.4" y="424.73" font-size="6.2" font-weight="bold" font-style="italic" text-anchor="middle" >H2-Aa</text>
<rect x="677.4" y="443" width="3.4" height="15.7" fill="url(#gB)"/>
<line x1="681.4" y1="444" x2="682.4" y2="444" stroke="#666" stroke-width="0.4"/>
<line x1="681.4" y1="447.43" x2="682.4" y2="447.43" stroke="#666" stroke-width="0.4"/>
<line x1="681.4" y1="450.85" x2="682.4" y2="450.85" stroke="#666" stroke-width="0.4"/>
<line x1="681.4" y1="454.27" x2="682.4" y2="454.27" stroke="#666" stroke-width="0.4"/>
<line x1="681.4" y1="457.7" x2="682.4" y2="457.7" stroke="#666" stroke-width="0.4"/>
<line x1="583.6" y1="466.3" x2="583.6" y2="451" stroke="#444" stroke-width="0.9"/>
<line x1="583.15" y1="466.3" x2="600.4" y2="466.3" stroke="#444" stroke-width="0.9"/>
<path d="M580.1 451.5L583.6 443.1L587.1 451.5Z" fill="#000"/>
<path d="M599.9 462.8L608.3 466.3L599.9 469.8Z" fill="#000"/>
<text x="580" y="472.78" font-size="5.5" fill="#222" >UMAP1</text>
<text transform="translate(577.7 456.1) rotate(-90)" x="0" y="2.02" font-size="5.6" fill="#222" text-anchor="middle" >UMAP2</text>
<rect x="249.1" y="305.5" width="54.2" height="149.5" fill="none" stroke="#6888A4" stroke-width="0.9"/>
<line x1="249.1" y1="340.2" x2="303.3" y2="340.2" stroke="#1E3F5E" stroke-width="1"/>
<line x1="249.1" y1="369" x2="303.3" y2="369" stroke="#1E3F5E" stroke-width="1"/>
<line x1="249.1" y1="408.7" x2="303.3" y2="408.7" stroke="#1E3F5E" stroke-width="1"/>
<text x="272.2" y="309.73" font-size="4.8" fill="#222" text-anchor="end" >Lag3</text>
<circle cx="296" cy="308" r="0.9" fill="#D4ACA4"/>
<text x="272.2" y="315.48" font-size="4.8" fill="#222" text-anchor="end" >Eif2ak2</text>
<circle cx="296" cy="313.75" r="1.22" fill="#E09A90"/>
<text x="272.2" y="321.23" font-size="4.8" fill="#222" text-anchor="end" >Irf9</text>
<circle cx="296" cy="319.5" r="1.22" fill="#E09A90"/>
<text x="272.2" y="326.98" font-size="4.8" fill="#222" text-anchor="end" >Irf7</text>
<circle cx="296" cy="325.25" r="1.64" fill="#E09080"/>
<text x="272.2" y="332.73" font-size="4.8" fill="#222" text-anchor="end" >Oas3</text>
<circle cx="296" cy="331" r="0.99" fill="#D8A8A0"/>
<text x="272.2" y="338.48" font-size="4.8" fill="#222" text-anchor="end" >Oas2</text>
<circle cx="296" cy="336.75" r="0.81" fill="#CCC0C0"/>
<text x="272.2" y="344.23" font-size="4.8" fill="#222" text-anchor="end" >Isg15</text>
<circle cx="296" cy="342.5" r="1.64" fill="#E88470"/>
<text x="272.2" y="349.98" font-size="4.8" fill="#222" text-anchor="end" >Gzma</text>
<circle cx="296" cy="348.25" r="2.93" fill="#FF2000"/>
<text x="272.2" y="355.73" font-size="4.8" fill="#222" text-anchor="end" >Gzmk</text>
<circle cx="296" cy="354" r="0.81" fill="#CCC0C0"/>
<text x="272.2" y="361.48" font-size="4.8" fill="#222" text-anchor="end" >Klrc1</text>
<circle cx="296" cy="359.75" r="1.64" fill="#E88470"/>
<text x="272.2" y="367.23" font-size="4.8" fill="#222" text-anchor="end" >Xcl1</text>
<circle cx="296" cy="365.5" r="1.91" fill="#FF2000"/>
<text x="272.2" y="372.98" font-size="4.8" fill="#222" text-anchor="end" >Flt3</text>
<circle cx="296" cy="371.25" r="1.18" fill="#F05040"/>
<text x="272.2" y="378.73" font-size="4.8" fill="#222" text-anchor="end" >Cd69</text>
<circle cx="296" cy="377" r="1.64" fill="#E88470"/>
<text x="272.2" y="384.48" font-size="4.8" fill="#222" text-anchor="end" >Ifng</text>
<circle cx="296" cy="382.75" r="1.64" fill="#E88470"/>
<text x="272.2" y="390.23" font-size="4.8" fill="#222" text-anchor="end" >Tnf</text>
<circle cx="296" cy="388.5" r="1.09" fill="#D8A8A0"/>
<text x="272.2" y="395.98" font-size="4.8" fill="#222" text-anchor="end" >Ccl5</text>
<circle cx="296" cy="394.25" r="2.65" fill="#FF2000"/>
<text x="272.2" y="401.73" font-size="4.8" fill="#222" text-anchor="end" >Ccl4</text>
<circle cx="296" cy="400" r="2.28" fill="#FF2000"/>
<text x="272.2" y="407.48" font-size="4.8" fill="#222" text-anchor="end" >Ccl3</text>
<circle cx="296" cy="405.75" r="1.55" fill="#F06040"/>
<text x="272.2" y="413.23" font-size="4.8" fill="#222" text-anchor="end" >Bcl2l11</text>
<circle cx="296" cy="411.5" r="2.01" fill="#E88470"/>
<text x="272.2" y="418.98" font-size="4.8" fill="#222" text-anchor="end" >Tnfsf10</text>
<circle cx="296" cy="417.25" r="0.99" fill="#D8A8A0"/>
<text x="272.2" y="424.73" font-size="4.8" fill="#222" text-anchor="end" >Tigit</text>
<circle cx="296" cy="423" r="0.86" fill="#CCB8B8"/>
<text x="272.2" y="430.48" font-size="4.8" fill="#222" text-anchor="end" >Havcr2</text>
<circle cx="296" cy="428.75" r="0.72" fill="#CCC0C0"/>
<text x="272.2" y="436.23" font-size="4.8" fill="#222" text-anchor="end" >Entpd1</text>
<circle cx="296" cy="434.5" r="1.45" fill="#E0A090"/>
<text x="272.2" y="441.98" font-size="4.8" fill="#222" text-anchor="end" >Crtam</text>
<circle cx="296" cy="440.25" r="0.9" fill="#D0B0A8"/>
<text x="272.2" y="447.73" font-size="4.8" fill="#222" text-anchor="end" >Tnfsf9</text>
<circle cx="296" cy="446" r="1.91" fill="#F07050"/>
<text x="272.2" y="453.48" font-size="4.8" fill="#222" text-anchor="end" >Tnfsf18</text>
<circle cx="296" cy="451.75" r="1.73" fill="#E09484"/>
<text x="223.2" y="328.07" font-size="5.2" fill="#222" >Type I IFN</text>
<text x="223.2" y="357.17" font-size="5.2" fill="#222" >Resting</text>
<text x="223.2" y="389.17" font-size="5.2" fill="#222" >Cytokine</text>
<text x="223.2" y="427.97" font-size="5.2" fill="#222" >Activated</text>
<text transform="translate(295.9 458.9) rotate(-90)" x="0" y="1.66" font-size="4.6" text-anchor="end" >cls1</text>
<text x="297.6" y="472.42" font-size="5.6" text-anchor="middle" >cluster</text>
<rect x="497.4" y="319.3" width="57.8" height="117.9" fill="none" stroke="#5A6CA8" stroke-width="0.9"/>
<line x1="497.4" y1="381.5" x2="555.2" y2="381.5" stroke="#5A6CA8" stroke-width="0.9"/>
<text x="519.3" y="324.55" font-size="4.85" fill="#222" text-anchor="end" >Runx2</text>
<circle cx="529.6" cy="322.8" r="2.46" fill="#DCA496"/>
<circle cx="542.5" cy="322.8" r="2.09" fill="#CCB4B4"/>
<text x="519.3" y="335.26" font-size="4.85" fill="#222" text-anchor="end" >Bcl11a</text>
<circle cx="529.6" cy="333.51" r="2.46" fill="#F06448"/>
<circle cx="542.5" cy="333.51" r="1.91" fill="#CCB4B4"/>
<text x="519.3" y="345.97" font-size="4.85" fill="#222" text-anchor="end" >Bst2</text>
<circle cx="529.6" cy="344.22" r="2.64" fill="#F05434"/>
<circle cx="542.5" cy="344.22" r="0.8" fill="#D4ACA4"/>
<text x="519.3" y="356.68" font-size="4.85" fill="#222" text-anchor="end" >Ccr9</text>
<circle cx="529.6" cy="354.93" r="2.64" fill="#DC9484"/>
<circle cx="542.5" cy="354.93" r="1.54" fill="#DCA494"/>
<text x="519.3" y="367.39" font-size="4.85" fill="#222" text-anchor="end" >Siglech</text>
<circle cx="529.6" cy="365.64" r="2.55" fill="#FF2400"/>
<circle cx="542.5" cy="365.64" r="1.54" fill="#DCA494"/>
<text x="519.3" y="378.1" font-size="4.85" fill="#222" text-anchor="end" >Itgax</text>
<circle cx="529.6" cy="376.35" r="0.7" fill="#CCC0C0"/>
<circle cx="542.5" cy="376.35" r="1.63" fill="#D4ACA4"/>
<text x="519.3" y="388.81" font-size="4.85" fill="#222" text-anchor="end" >Cd24a</text>
<circle cx="529.6" cy="387.06" r="1.63" fill="#DCA494"/>
<circle cx="542.5" cy="387.06" r="2.64" fill="#E49484"/>
<text x="519.3" y="399.52" font-size="4.85" fill="#222" text-anchor="end" >Itgae</text>
<circle cx="529.6" cy="397.77" r="0.7" fill="#CCC0C0"/>
<circle cx="542.5" cy="397.77" r="2.83" fill="#E49484"/>
<text x="519.3" y="410.23" font-size="4.85" fill="#222" text-anchor="end" >Cd36</text>
<circle cx="529.6" cy="408.48" r="0.8" fill="#D4B4AC"/>
<circle cx="542.5" cy="408.48" r="2.64" fill="#E09A8C"/>
<text x="519.3" y="420.94" font-size="4.85" fill="#222" text-anchor="end" >Cadm1</text>
<circle cx="529.6" cy="419.19" r="1.45" fill="#D8ACA4"/>
<circle cx="542.5" cy="419.19" r="2.09" fill="#F07454"/>
<text x="519.3" y="431.65" font-size="4.85" fill="#222" text-anchor="end" >Xcr1</text>
<circle cx="529.6" cy="429.9" r="0.7" fill="#CCC0C0"/>
<circle cx="542.5" cy="429.9" r="1.17" fill="#FF3410"/>
<text x="485.4" y="348.21" font-size="4.2" fill="#222" >pDC</text>
<text x="485.4" y="403.11" font-size="4.2" fill="#222" >cDC1</text>
<text transform="translate(529.6 439.6) rotate(-90)" x="0" y="1.66" font-size="4.6" text-anchor="end" >cls12</text>
<text transform="translate(542.5 439.6) rotate(-90)" x="0" y="1.66" font-size="4.6" text-anchor="end" >cls13</text>
<text x="535.9" y="456.22" font-size="5.6" text-anchor="middle" >cluster</text>
<text x="555.8" y="341.75" font-size="5.7"  >% Expressing</text>
<circle cx="559.3" cy="347.4" r="0.45" fill="#000"/>
<text x="565" y="349.2" font-size="5"  >0</text>
<circle cx="559.3" cy="354.3" r="1.3" fill="#000"/>
<text x="565" y="356.1" font-size="5"  >25</text>
<circle cx="559.3" cy="360.7" r="1.8" fill="#000"/>
<text x="565" y="362.5" font-size="5"  >50</text>
<circle cx="559.3" cy="367.3" r="2.3" fill="#000"/>
<text x="565" y="369.1" font-size="5"  >75</text>
<text x="555.8" y="380.85" font-size="5.7"  >Average expression</text>
<rect x="556.2" y="384.4" width="5.8" height="31.1" fill="url(#gR)"/>
<text x="565" y="386.2" font-size="5"  >4</text>
<text x="565" y="394.1" font-size="5"  >3</text>
<text x="565" y="401.8" font-size="5"  >2</text>
<text x="565" y="409.8" font-size="5"  >1</text>
<text x="565" y="417.4" font-size="5"  >0</text>
</svg></body></html>
